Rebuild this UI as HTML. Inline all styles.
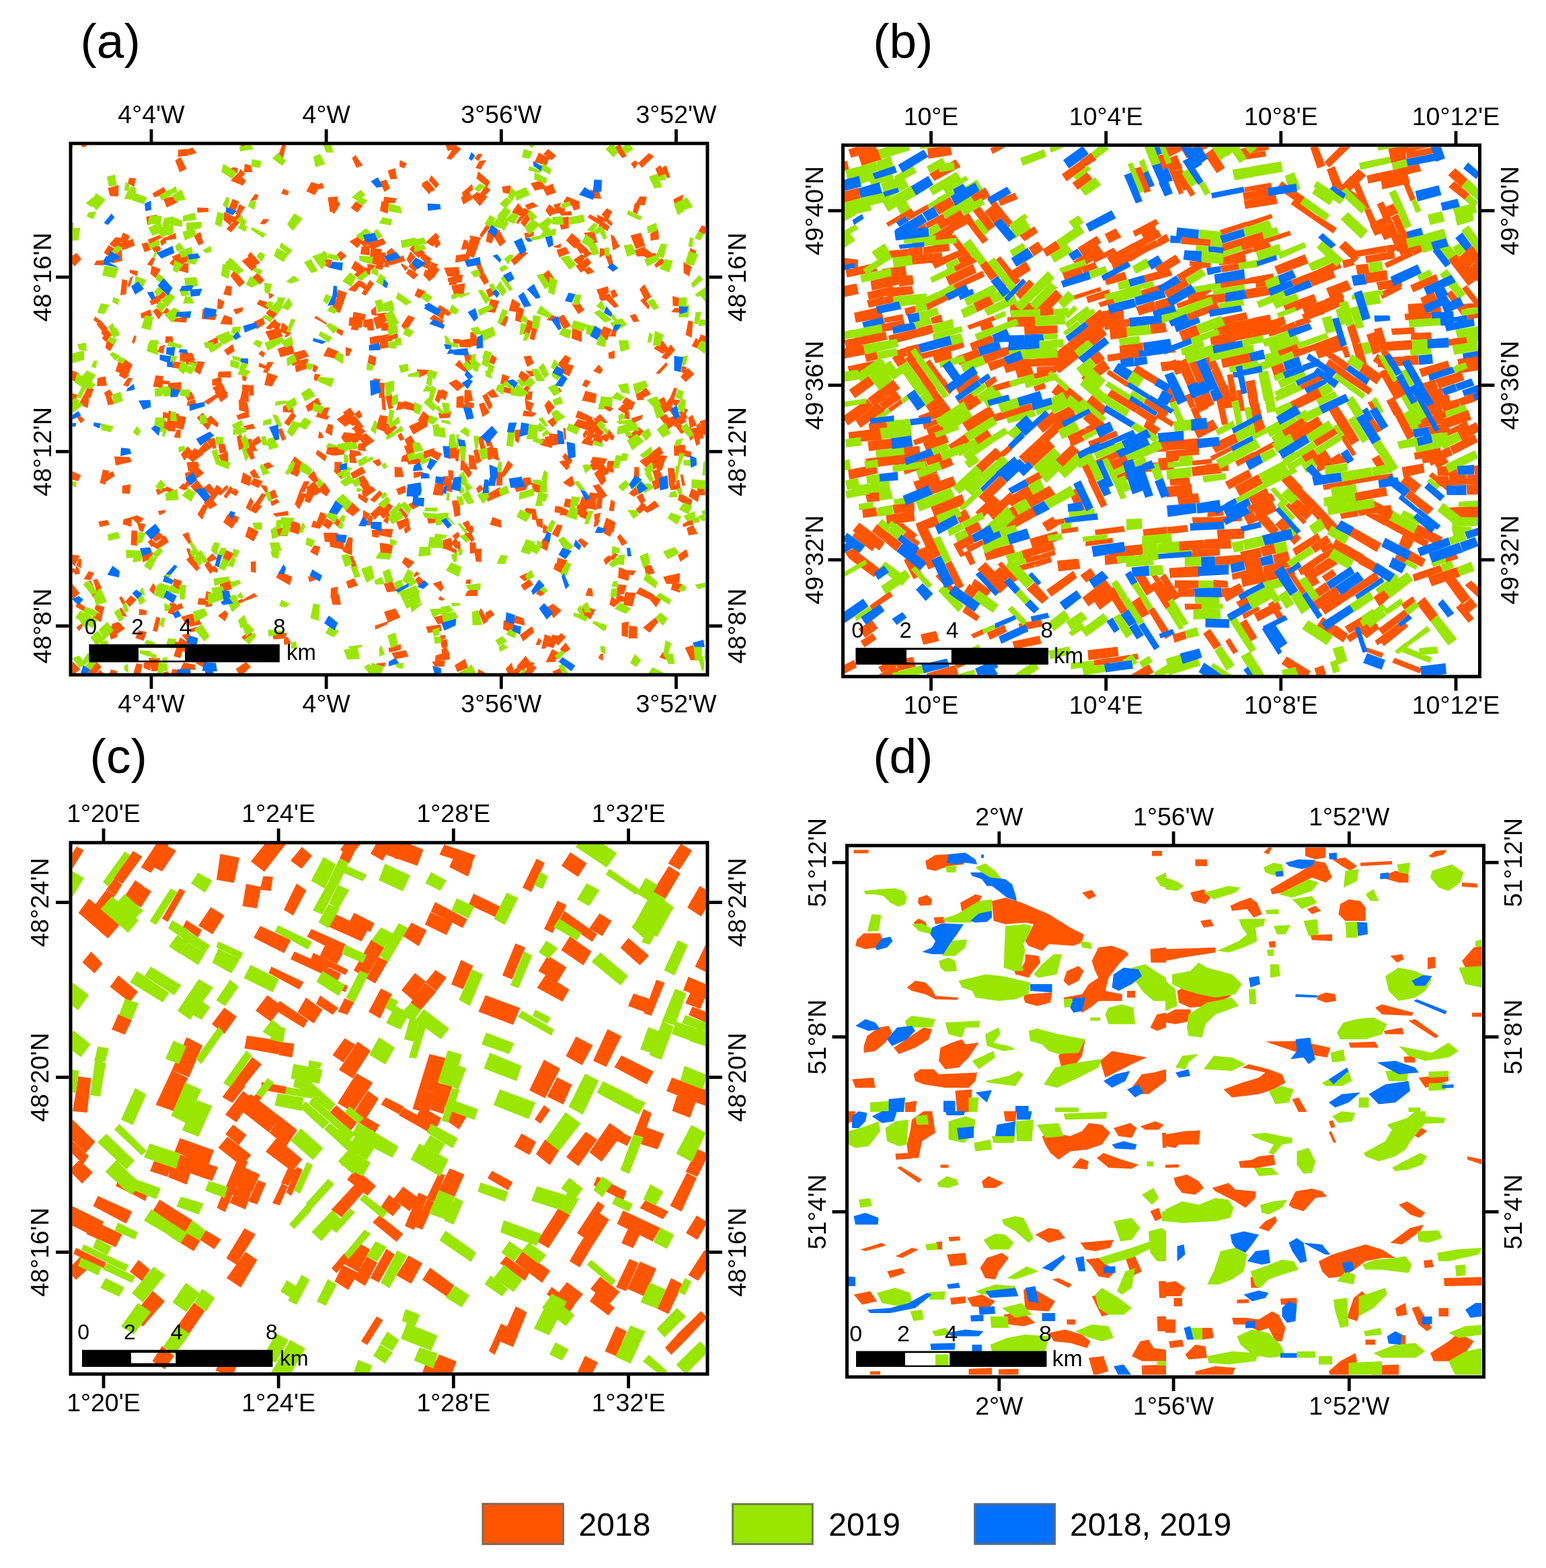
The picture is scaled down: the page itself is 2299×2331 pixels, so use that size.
<!DOCTYPE html>
<html><head><meta charset="utf-8"><title>Figure</title>
<style>html,body{margin:0;padding:0;background:#fff;}svg{display:block;}text{font-family:"Liberation Sans",Arial,Helvetica,sans-serif;fill:#000;}</style></head><body>
<svg width="2299" height="2331" viewBox="0 0 2299 2331">
<rect x="0" y="0" width="2299" height="2331" fill="#fff"/>
<path fill="#ff5500" d="M590.5 635.5l-11.5 10l-4.5-8.5l12.5-5.5zM544.5 748.5l-12-8.5l0.5-6.5l15 8zM272.5 381l-12 7.5l-5-7l13-5.5zM648.5 280l-11-12l4-7.5l11.5 13.5zM851 320l-16.5 0.5l-3.5-5.5l18-1zM666 583l-3.5 12l-9.5-4.5l4-12zM686.5 420l-20-1l-1-6l23-5zM273 985l17 3l0.5 8l-22.5-1zM552.5 788l12-0.5l-1.5 12l-9.5-1.5zM634.5 633l-13-8l3.5-6.5l11.5 11zM935 733.5l10.5-10.5l7 9l-10 6.5zM523.5 633l-9-10l14-4.5l9 11.5zM378 663.5l-2.5-9l9-6.5l4.5 8.5zM586.5 694l11 1l3 14l-13.5 0.5zM440.5 753l4-21l6.5 4l-5.5 21zM312.5 853l-8.5-13l5.5-7l10 14.5zM580.5 266.5l-4-13l11-3.5l3 16zM218.5 393.5l8-11l4.5 1.5l-5 11.5zM595.5 918l-18.5 7.5l-6-16l17-5zM177 558.5l2.5-8.5l13 8l-6.5 5.5zM971.5 684.5l-10.5 10.5l-10-9.5l16-10zM384.5 289.5l-3 7.5l-9.5 2l7-10.5zM832 765.5l3.5-11.5l10 5l0 8zM782.5 728l-14.5 3.5l-5-10l21.5 0zM282 928.5l14.5-7.5l3 7l-18 4zM182 387.5l-14 4l-3.5-12.5l16.5-8zM365.5 754.5l7-15l4.5 6.5l-6 13zM165.5 589.5l4 11l-9 2l-3-12zM846 339l-11.5 2.5l-2-7.5l13-2.5zM566 563.5l-1.5 7l-11.5 0.5l2.5-8.5zM842.5 699l-11-12.5l7-2.5l9 10zM340 725l-12 11.5l-4.5-2.5l13.5-13zM779.5 460l-4.5 19.5l-9-3l2.5-22zM607.5 976l-20 4l-5.5-9.5l21.5-4zM994.5 518.5l-9 7.5l-13.5-8l13-12zM193 351l-5 11l-10.5-2.5l5.5-14zM791.5 720l-15 4l1.5-13.5l10.5-1zM107.5 392l0-12l6.5-4l7 9l-10 11zM227 938l5.5-21.5l6 2.5l-4.5 20zM621 428.5l13 5.5l-10 9.5l-7.5-4zM907.5 439l12.5 16l-6 3l-12-11.5zM980.5 752.5l-18 10l-6.5-4.5l17.5-14zM290.5 713l-10.5-16.5l12-4.5l11.5 11.5zM794.5 939.5l-16.5 14l-5-9.5l18-13zM978.5 339.5l1.5 16l-12.5 2.5l-0.5-10.5zM682 509l19.5 0.5l-1 7l-16.5-0.5zM400.5 444.5l-1.5-10l8.5 4l-3 3.5zM789 559.5l-7.5-8.5l10.5 0.5l2 7.5zM311 835.5l-4-4.5l9-8.5l7 8.5zM919 859l1.5-16l16 6.5l-2 14zM705.5 235.5l5.5-7l6.5 0.5l-6 10.5zM831 945.5l-8 18l-12.5-3.5l11-16.5zM240 570.5l3-5l9.5 1l-1.5 5zM669 980.5l-22 2l0.5-8l20-6.5zM241.5 444.5l-6-4l7-8l5.5 6.5zM293.5 545l-17-3.5l-0.5-6.5l16 3zM395 732.5l-8.5-12l10 2l2 9zM559 455l1 14.5l-7.5-1.5l-1-6.5zM578 608.5l-5.5-22.5l10.5 0l1.5 20.5zM270 944l11.5-2.5l3 8l-7 3zM107.5 605.5l0-21l8 2.5l-6 19.5zM905.5 830l8.5-8.5l5 3l-7 8zM1031.5 779.5l-15.5 4l-1-4.5l14.5-7.5zM823 919l-9.5-16.5l9-5l12.5 10zM1010 629.5l12 11l-9 4.5l-8.5-11zM1002.5 677.5l-0.5-16l13-0.5l-3 16.5zM850.5 346.5l13 11.5l-9 11.5l-13-12zM242.5 526l-8-3l3-8l8-2.5zM467.5 718l-9.5-9.5l8.5-9l8 15.5zM400.5 326l-6.5 7.5l-7.5-0.5l5-7.5zM611 787l-8 6.5l-2.5-7l7.5-8zM171.5 551.5l7-20.5l9.5 4.5l-7.5 20.5zM163.5 291.5l-3-12l16-4.5l-0.5 17zM400 550.5l-15.5-5.5l1-6l16 8zM319 583l13.5-5.5l6.5 7l-11.5 9zM837 844l-2.5 8l-11.5-6l2.5-9zM927 899.5l2.5-19.5l16 1.5l-5 20zM596 966l-17 4l-1.5-6.5l18.5-6zM576 382.5l-14 2l-3-5l12.5-5zM877 294.5l1-12.5l13 2.5l3 11zM359.5 320l-9 10l-7.5 0l8.5-10.5zM109 890l-1.5-2l0-20l11 14zM124 589l5.5-12.5l10 1.5l-5.5 14.5zM763 691.5l-13.5 17.5l-5.5-2l11.5-22.5zM683.5 667l-2 19.5l-4-1.5l-3-18.5zM291.5 732.5l-8.5-9.5l10.5-9.5l8.5 11zM884 344.5l4.5 16.5l-13 1l-7-16zM200.5 365l-18 7l-5.5-9.5l20.5-7.5zM903.5 343.5l-13.5-6.5l3-10.5l13.5 10zM602.5 388l-22 6.5l-3.5-4.5l22.5-10.5zM144.5 860.5l7 14.5l-7.5 6.5l-5.5-19.5zM710 1001l1.5-6.5l11 6.5zM538 487l-19.5-3l1-12.5l20.5 3.5zM1004 520.5l-13 14l-7.5-3l14-19.5zM653.5 352l-10 14.5l-10.5-6.5l15-14zM280 231.5l-15.5 1.5l0.5-10.5l15-1zM819 946l-7.5 18l-6.5 0.5l5-21.5zM213.5 952.5l-12.5-4l5.5-11.5l11.5 2.5zM676 989l15.5-9.5l4.5 13l-16 6.5zM183 572.5l7-10.5l7.5 0l-7 13zM1014.5 613l3.5-6l5.5 2l-5 8.5zM903.5 328l-9-9l8-9.5l8 5zM411 784.5l16 0.5l1 12l-16.5-0.5zM758 560l-7 12l-7-1.5l3-14.5zM303 597l20-12.5l1.5 5.5l-15 11.5zM395 488l13.5-14l6 7l-12.5 9zM994.5 596l8-20l4.5 1.5l-6 20.5zM780.5 594l13 5.5l-4 13.5l-7.5-5zM272.5 549l-17-2.5l0-10l19 3.5zM349 522l-10.5 6.5l-5.5-7.5l13-9.5zM840 314l-17 4.5l-4.5-7.5l21-4.5zM333.5 468l11.5 4.5l0.5 10.5l-18-1.5zM892.5 615.5l11.5 13l-5.5 0.5l-12-9zM471 281.5l-3.5-4.5l11.5-5.5l3 8.5zM312 757l-9-9.5l8-10l12 13zM793 869l-13.5 9l-5-8l12.5-9zM402.5 743l-2.5-11l8-4.5l5 11.5zM296.5 693.5l-16.5 7.5l-2.5-14l16.5-0.5zM674 700l0 13.5l-7 0.5l-0.5-15.5zM849 532.5l-10 19l-10-9.5l11.5-14.5zM248 287l-18 6.5l-3.5-6l17-9.5zM874.5 874l6 1l1.5 11.5l-11.5-1zM755 1001l-3-7l9-9l2.5 10.5l-4.5 5.5zM1035.5 663l-5.5-19l9.5-2.5l1.5 18zM705 677.5l4.5 21l-12-1.5l-0.5-21zM703.5 282l-15 10l-1.5-5.5l15-13zM530.5 652l-23.5-1.5l4.5-8l17.5 2zM124.5 861l7.5-12l8 2.5l-5.5 11zM860 467l-9.5-15l8.5-6l10 15zM329 572.5l-13.5 1l0-9.5l13.5-4zM848 965l-8.5 6l-7-5.5l8.5-10.5zM572 991.5l-13.5-4l3-1.5l12-1zM990.5 245.5l6 18l-4.5 1.5l-7.5-15.5zM244.5 763l-7.5 3l-2-6.5l11.5-1.5zM570 774.5l7.5-13l3 4l-4.5 13.5zM778.5 1001l10.5-13l9 4l-6.5 9zM1019.5 498l4-21.5l7 1.5l-2 24zM690 598.5l1-19l9 0.5l3.5 15.5zM362.5 256l1.5-12.5l9 2.5l2.5 10zM1027 981.5l-8.5-18.5l12-4l8 22zM277.5 679l12-13l13 9.5l-16 11.5zM685 505.5l17-2.5l3.5 9.5l-20-2.5zM897.5 832l7.5-6.5l6.5 5l-11 9.5zM513 634.5l-12.5-11l13-8.5l8.5 13.5zM309 996l-18-10l6.5-10.5l15 14zM477 275l-9 15l-12.5-5.5l7.5-14zM120 215.5l11 0l-7.5 4zM171 707.5l-15.5 10l-3-8.5l15-8.5zM758 1001l0-0.5l11.5-8.5l7 2l-5 7zM356 331l-12.5 14.5l-7-5.5l17.5-16.5zM413 559l-8.5 15.5l-11.5-2l4.5-18.5zM117 601l7-13.5l8.5 5.5l-2 13.5zM798.5 782l-2.5-10.5l10.5-0.5l1 14.5zM428.5 486l-1.5 11.5l-11-5l4-13zM383 405.5l10 11l-7 6.5l-12-9.5zM227.5 575l4-17l11 1l-0.5 17.5zM189.5 425l4-12l4.5-3l-5 17zM113.5 841l3-10l4.5 0l-0.5 13.5zM359 947l11.5-8l5.5 3.5l-12.5 9.5zM293.5 898.5l2-9.5l10 1l1 9.5zM938 243.5l6-5l5.5 3.5l-6 9zM721 406.5l6 12.5l-6.5 4.5l-8.5-13zM660.5 717.5l-2 19.5l-15-1.5l3.5-16.5zM619.5 670.5l-13.5 7.5l-5.5-15.5l13.5-1zM638.5 289l-12-13.5l4.5-4.5l11.5 10zM454.5 603.5l18-12.5l5.5 10.5l-20 11zM262 963.5l10 3.5l-4 11.5l-10-3zM473.5 611l16.5 8l-4 5l-16.5-4.5zM324 590l14-4l0.5 4l-10 8zM518.5 625.5l-8.5-12.5l10.5-7l7.5 10zM780.5 930l-18-4.5l4.5-10.5l12 4.5zM563.5 591.5l0-23l8.5 1l-0.5 22zM542 741l-4-8.5l2-4l8 7.5zM774 331l13.5-17.5l4.5 7l-12 17zM250.5 998l0.5 3l-8 0l0.5-2zM645 467.5l14.5 9.5l-1 5l-20-8zM862 360l13 11.5l-11.5 6l-8-11.5zM925.5 235l-13-16l8.5-3.5l1.5 0l9.5 16.5zM259 473.5l19.5-3l-1.5 9l-20-1.5zM294 670l12.5-14.5l7 10.5l-13 9.5zM815.5 616.5l-6-14l6.5-8l9 10.5zM782.5 582l9.5 0l-1.5 12.5l-10 0zM313.5 617.5l11.5 12l-1.5 6l-17.5-11zM373 991.5l-10.5 9.5l-7.5 0l-4.5-6.5l15.5-10.5zM784 545.5l-5.5-15.5l10.5-1.5l5 11.5zM899 786.5l11.5 4l-3.5 7.5l-10.5-6zM1010.5 732.5l19 11l-3 10.5l-18.5-10.5zM248.5 628l2 11.5l-8.5-2l1.5-14.5zM845 693l-9-14.5l4.5-5l11 11.5zM601.5 653l-6.5 2.5l-4-8.5l5.5-4zM269 582l-21.5-2l3.5-10.5l18.5-1.5zM775 638.5l-4 20.5l-5-4l-1-16zM483 686l-13.5-11l2.5-6.5l14 9.5zM355.5 669.5l-3.5-20.5l7-3.5l3.5 21zM277 620l-4.5 19l-11.5-3l2.5-18.5zM707.5 834.5l-2.5-18l11-1l-0.5 20zM571.5 643.5l2-9l8 4l-3.5 10.5zM563 786l21.5 0.5l-2.5 13l-18.5-4zM678.5 816l-8-8.5l6.5-7.5l8.5 10.5zM908.5 378l5 21.5l-5.5 1l-8.5-22zM394.5 493l20.5-6l5.5 13l-19.5 6.5zM306 902.5l-2-11l11.5 5l0 4.5zM683 535l12.5 15.5l-4.5 2.5l-14.5-10.5zM267.5 877l-10.5-4.5l1.5-12.5l11.5 3.5zM572 634l3-4.5l6.5 1.5l-2.5 5zM170 930.5l5 16l-10 4.5l-5-19.5zM143 387.5l10.5-0.5l0 7.5l-13.5-0.5zM692.5 377.5l6-22l14.5 4.5l-8.5 23.5zM791 772.5l-0.5-16l6 0l3 17zM985.5 709l-11 5.5l-4.5-15l10.5-1.5zM642.5 285l-15.5-12.5l8.5-4.5l11.5 14zM715.5 904l10 19.5l-6.5 4.5l-7.5-18zM330 726.5l-13 18.5l-5.5-6.5l11-18zM895 659.5l-13.5-4.5l1.5-4l13.5 1zM182.5 779.5l1-7.5l13-3.5l-1.5 14.5zM292 849l-15-17l9.5-8.5l10.5 21.5zM371 758.5l7-10.5l12 4l-9.5 11.5zM788.5 859.5l-9 4.5l-7.5-7l12-5.5zM832 307.5l-4.5 4.5l-5-7.5l12-3.5zM113 1001l-5.5 0l0 0l4.5-5zM969 389l-13.5-9.5l4.5-10l12 8.5zM107.5 898.5l1 0l-1 18.5l0 0zM625 689.5l-17.5 1l-2.5-4.5l22-6.5zM293.5 764.5l9-15l7 2.5l-9 20.5zM947.5 318.5l-6.5-3.5l3-13l8 2zM939.5 610l-14.5-11.5l5.5-8l14 8zM343.5 561.5l-20-1l1.5-8l18.5-0.5zM430 780.5l3-7l13 5l1.5 10.5zM894.5 722l-11-18l10.5-10.5l7.5 21zM528 387.5l17.5 13l-8 9l-15.5-11zM363 894.5l-21 7.5l1-4l17-8zM266.5 616l-6 18l-13-2.5l3.5-21.5zM897 693l-19.5-5l4-9l21.5 3zM956 933l18.5-15l4.5 6.5l-13 16zM281 815l6.5 9l-5.5 5l-5-13zM313 735.5l-11.5-9.5l10-7.5l8 10.5zM717.5 620l-5.5-19.5l7.5-2l8.5 14.5zM746.5 277.5l13-2l-1 13l-10.5-2zM234.5 452l-10.5-5.5l10.5-8.5l6 4.5zM532 651l-5-10.5l10.5-4.5l6.5 5zM871.5 381.5l-10.5 13l-8.5-8l12-8.5zM781.5 990.5l9-7l5 3.5l-12 7.5zM688.5 607.5l4-11.5l12.5 3.5l-0.5 7zM917.5 884l0-15.5l14.5 1.5l-4.5 13.5zM659.5 926.5l-8.5 1.5l-6-10.5l14.5-3.5zM572 387l8-1l-2 11.5l-7-1zM576.5 317.5l-11.5-4l2.5-14.5l11 3zM1004.5 728.5l1.5-13l4-3l2 13.5zM456 734.5l-8.5 17.5l-9.5-1.5l7-19zM154 1001l-10.5 0l5.5-5zM872.5 742.5l5-10.5l12 1.5l-3.5 11.5zM157.5 508l-6-5l6-8.5l8 3.5zM635.5 555.5l-12.5 6l-3.5-12.5l18 1zM823.5 1001l-2.5-2.5l12.5-5.5l3.5 8zM280 935.5l14.5-4l1 6l-13 2.5zM572 285.5l-7.5-15.5l10-3l5.5 12.5zM262.5 355l-16.5 2.5l-1-4l16-7.5zM919 440l-8 3.5l-3.5-10.5l6.5-3zM990 615l12 16.5l-8 7l-13.5-18.5zM1015 677.5l2-9l11 3.5l-0.5 8.5zM767.5 330.5l6.5-10.5l5.5 3l-10 10.5zM969.5 386l2-10.5l5.5 2.5l-3 13zM436 524.5l17-4.5l6.5 9.5l-18.5 7zM343.5 440l-11.5-2.5l4.5-13l8.5 1.5zM601 596l16.5 5l-1.5 10l-16-3.5zM144 574l1-12l11.5-2.5l2.5 14zM292.5 227.5l-11.5 3.5l-2.5-9l8-2.5zM843 292l19.5 8l-3.5 10l-21.5-10zM891.5 928.5l10 5l-1 3l-10-6zM487.5 765.5l-11.5 19.5l-6.5-5.5l7-18.5zM310.5 315l-17 1l-0.5-7.5l16.5 0.5zM526 662l-7-14l12-3l5.5 7zM402 745.5l10-4l3.5 5l-11.5 6zM532.5 424l6.5-5.5l5.5 4.5l-1.5 8zM537.5 677l-17.5 2l0-10.5l15.5 2.5zM805.5 652l19 3.5l-4 10.5l-17.5-4.5zM774 452l-5.5 12l-12-2l5-18zM348 823l-9 14l-8.5-6.5l4-13.5zM252 391.5l8-9.5l5 1.5l-7.5 11.5zM107.5 837.5l0-13l11 1.5l-7.5 16zM301.5 459l21.5 8.5l-3.5 8.5l-19.5-2zM194.5 810l1-21.5l8.5 0.5l0.5 22.5zM406.5 486.5l6-7l5.5 2l-5.5 12.5zM628.5 707l-13 4l-0.5-9l12.5-1zM425 949l-18.5 1.5l-1-7.5l21-2.5zM229 884l-7-7l6-10.5l3.5 6zM636 633.5l-21.5 12.5l-6.5-12.5l22-10zM550 743l14.5-14l4.5 5.5l-12.5 12.5zM681 817.5l-1-9.5l4-4.5l1 13zM697.5 369.5l-12 2l4.5-15.5l6 2.5zM1018 609.5l4 11.5l-4 3.5l-9-12zM697 386.5l-20 4l1-11l22-3zM887.5 630l10.5 13l-6 6.5l-13-10.5zM945.5 586l6.5-3.5l5.5 12l-10 0.5zM871 639l5 3.5l-7.5 9.5l-2-6zM886.5 757l2-24.5l8 3l-2 20.5zM239.5 370.5l-8 7l-7-10.5l12-1.5zM936.5 469l8.5-2.5l5.5 11l-8.5 1.5zM847.5 724l-10.5-6.5l14-10.5l3.5 13.5zM841 636l1 17.5l-3 0l-1.5-17zM898.5 707l-8.5-16.5l4-6l12 19zM116 715.5l-8.5-2.5l0-12.5l13 6zM345 786l-13-9.5l6.5-12l13.5 10zM917 492l-1.5 8.5l-9.5-0.5l5.5-10.5zM789 272.5l15-4l9 10.5l-17.5 4.5zM960 448l-9-18l7-7.5l10.5 18.5zM843.5 833l-3.5 12.5l-12.5-6l1.5-10.5zM946 848.5l-5 7l-9-3l2-5zM690.5 682.5l1.5 15.5l-7.5 1.5l1-18zM934.5 949l1-19l12 1.5l0 17.5zM677.5 803l-5-6.5l8.5-6l3 6zM523 825.5l-12-5l-3-5l16 0.5zM597.5 836l5-8l14 7.5l-9 10zM258 511l-12.5-1.5l1-9.5l10 0zM889.5 620.5l5 3.5l-6.5 9l-5.5-11zM193 401l12 2l-1.5 7.5l-10.5-5zM678.5 564l12 9.5l-10.5 8l-13-12zM269 675.5l10-12l7 8l-12 13zM646.5 676l-17 6.5l0.5-11.5l16-5zM290.5 536.5l-23 1.5l0-13l18.5-0.5zM586.5 302l-16.5-0.5l1-9l19.5 2.5zM564.5 807l20 2.5l-3 16.5l-15.5-1.5zM901.5 644.5l4 8.5l-3.5 4l-11.5-7zM711 254.5l17.5 15.5l-3.5 8l-16.5-12.5zM407 538.5l-10 16.5l-6-2l7-15zM817.5 802l-4 17l-11.5-6l5.5-12.5zM729 428l7.5 9l-9.5 5.5l-4.5-11zM561 356.5l-19.5 10.5l-5-5l12.5-15zM574 362l-21.5 9.5l-6-9l23-8.5zM357.5 251l7 7.5l-6 6.5l-5.5-4.5zM979.5 682.5l-2-6.5l15 2l-5 9.5zM950 694.5l0.5 18l-8-3.5l1-15zM695 878.5l15.5-4.5l-0.5 12l-18.5 0zM1013 615.5l8 11l-8.5 5l-7.5-7zM469 732l-8.5 16l-7.5-3l4-18zM869 815l-10-11.5l5-3.5l10.5 7.5zM958.5 305.5l-14-2l7-11.5l10.5 0.5zM1027.5 644l-2-7l12.5-1.5l0.5 8zM431 870l-20.5-11.5l5-9.5l19 8.5zM884 773.5l-0.5-9l10-2.5l-3.5 12.5zM565.5 506.5l11.5-0.5l1 10.5l-14.5 2.5zM252 462l-4.5 4.5l-6.5-1l7-8.5zM964 460l-12-13.5l5.5-3.5l9 12zM907 612l-17-9.5l4.5-7l17.5 12zM506 303.5l-9 14.5l-7-6l10-16.5zM997.5 728.5l-3-9l7.5-4l5.5 12.5zM901 330.5l-12.5-4.5l-0.5-7l17 7.5zM780.5 570l-10-10.5l4.5-8.5l13 8zM170 678.5l23 1l3 7l-24 5.5zM733 663l-0.5 19l-7 2l-2-18zM477.5 383.5l16.5 3l-4 12l-14-8zM256 994.5l9.5 1.5l-1.5 5l-8 0l-1-0.5zM830 645.5l0.5 15.5l-11.5 1.5l-3-18.5zM614 856.5l5-7l5.5 3.5l-8 5zM707 249.5l6-10.5l10-1l-8.5 14zM506 698.5l-8.5 2l0-14l11.5 0.5zM365 567l-4.5-2l-0.5-7l7.5 2.5zM180 552l5-18.5l12 8.5l-6 14.5zM580 499l11-4l1 7.5l-12 3.5zM192 264.5l10 0.5l-2.5 13l-9.5-5.5zM444 536l12.5-3l3 2.5l-13 8zM1003 458l6-0.5l3.5 7.5l-14.5-1zM592 597l10 1l-3 10l-10 2zM991 390l-15.5 8l-2.5-4.5l10.5-10zM330.5 459l-7.5 0.5l1-16l10 5zM148 475l12.5 13.5l-8 5l-9-11.5zM377 572l0.5 16l-7.5 0l0.5-14.5zM660 582l-7.5 17.5l-6-5l5.5-15.5zM373 850l0-15l7.5-0.5l0 17zM883 784l1-9.5l8.5-2l-4 9zM811 313l6-9.5l11 10l-10 8.5zM817.5 785.5l-5.5 8l-5-2l1-12.5zM508 713l-12-13l5.5-6l11.5 11.5zM371 620l-17 4l-2.5-6.5l17.5-6.5zM490.5 315l-3-21.5l15-1.5l-3 22.5zM931 616l-12.5-7.5l9-9l9.5 7zM182 916l-4.5-11l3-2l8.5 14zM326.5 868.5l16.5-5.5l1.5 13l-14.5 3.5zM739 666l3.5 19l-9-3l-3.5-16.5zM879.5 390.5l-15.5 15l-8-10l17.5-12.5zM124 929l-6.5 9.5l-4-6l9-6.5zM211.5 823.5l16.5-2.5l-3 9.5l-13 5.5zM1037.5 793.5l-13.5 2.5l-3-11l9.5-4.5zM759.5 387l18-16l7 5.5l-19.5 18zM265.5 725.5l7-7.5l7 8.5l-5.5 2.5zM815.5 401.5l10.5 15l-8.5 8.5l-16-13zM242.5 465.5l-7 9.5l-8-12.5l5-4.5zM671 424.5l20.5-3.5l-1.5 15.5l-14.5 3zM539.5 358.5l-8 10.5l-12-10l12.5-7zM655.5 362.5l-7 6.5l-5.5-8.5l7-8zM805.5 952.5l-3 6.5l-6-0.5l4.5-10.5zM119.5 995l-8 6l-4 0l0-15.5l1.5-1.5zM993 542.5l-12.5 13.5l-5.5-1l15.5-16.5zM368 599l2.5 14.5l-15-3.5l-0.5-16zM1012 674l2.5-12.5l4.5 0l-1 15.5zM1026 636l-2.5-15l6-4.5l7 16zM306 982.5l-15.5-9l4.5-6.5l18.5 4.5zM657 963l-2.5-10.5l10-2.5l1.5 11.5zM269 639l-1 12.5l-9.5-1.5l4.5-11.5zM910 489.5l-7.5 16.5l-12.5-5l7.5-16zM1000.5 865l14.5 3.5l-4 12.5l-13.5-4.5zM512 447l-6.5 18l-14.5-3.5l10-19zM550 764l-6 11.5l-4.5-6.5l0.5-11zM861 767.5l3.5-9l10.5 2.5l-4 11zM862.5 310l-9 3l-3.5-8l11.5-0.5zM743.5 366.5l-11-17.5l9.5-8l10 18.5zM962 754l-11 10l-5.5-6.5l10.5-11.5zM511.5 675.5l-15 2l-2-13.5l19.5 1zM925 811.5l-7.5-13l4.5-4.5l11 13zM493.5 648l-10-5.5l4.5-12.5l7.5 2zM909.5 886l12 9.5l-8.5 7l-7-3.5zM227.5 812.5l18-16.5l5.5 9.5l-16.5 11zM635 769.5l16 0.5l-3 7l-11 1.5zM268.5 233.5l9 17.5l-10.5 5l-6.5-17.5zM947.5 381.5l-5.5-9l17-6l3 13.5zM892.5 556l-10.5-4.5l8.5-9.5l6 7.5zM699 515l0.5-21l7.5-1l4.5 20.5zM560.5 392l10.5 3.5l-3 5.5l-10.5-2zM655.5 879.5l-12-12l12-4l4.5 10.5zM330.5 688.5l-6-12l14.5-4.5l0.5 16.5zM360.5 463l-9.5 4.5l-4.5-7.5l15-3.5zM855.5 764l3.5-14l10 1l-7.5 15zM846 333.5l-9 1l-2.5-11l11-1.5zM1001 618l-9.5-12.5l6.5-2.5l9.5 10.5zM224.5 982.5l-1 14.5l-10-4l0-7.5zM239.5 448l-14.5 6l-2.5-6.5l14.5-7zM657.5 893l-6-2l3-5l7 5zM355 731.5l-4 6l-9.5-5.5l8.5-6zM838.5 489.5l-10-17l9.5-5l11 17zM269 917l17.5-5l4 13.5l-12.5 5zM373.5 670l-9-15.5l8.5-2.5l10 18.5zM913 351l8.5 15.5l-10 6l-3.5-24zM203.5 766l10.5 5l-8.5 8.5l-11.5-10.5zM583 863.5l7 15l-14.5 2l-5-13zM873.5 616l16 16l-8.5 5l-15.5-16zM666.5 708l0 14.5l-6.5 0l-1.5-14.5zM690 527l14.5 0.5l1 15l-12.5 0zM576 928l-18 8l-0.5-6l19.5-6.5zM203 501l-4 10.5l-3-3l4-10.5zM727.5 609.5l-10.5-21l7-4l8.5 19zM603 403l-6.5-9l0-3l10.5 6.5zM280 406l-23-6l5-9.5l18.5 1zM515.5 380.5l-8.5 7.5l-6.5-9.5l6-5.5zM1049.5 646.5l-4.5 0l-4.5-20.5l9-2.5zM280.5 389l-18 5l-3.5-7l20-9zM260.5 953.5l18 5.5l-2.5 10.5l-19-8zM980.5 977.5l5-8l5 4.5l1.5 7zM1037 726l10.5 0.5l0.5 10l-11.5-1zM936 623l-8-0.5l1.5-10.5l6-0.5zM608.5 399.5l13.5 8.5l-6.5 7.5l-12-9.5zM564 499.5l16-3.5l3.5 11l-21 1.5zM462.5 783.5l3.5-10l11.5 6l-2 6.5zM317 668l-4.5-15.5l6.5-2l2.5 15zM945.5 370l-8-20l15.5-4l6.5 19.5zM182.5 899l-5.5-10l3.5-3l7 11zM729.5 906.5l6 7l-11.5 9l-2.5-11.5zM909.5 336l-7.5-5l2.5-5.5l6.5 6zM660.5 991l-13.5 0.5l-4.5-7.5l20-5.5zM898.5 370l2 8l-9 5l0.5-14zM141.5 470.5l12.5 10l-6 2l-9-6.5zM821.5 635l-7.5-8.5l9-6.5l6 7.5zM574.5 464.5l2.5 12l-9.5 5.5l-8-15.5zM864 760l5.5-19.5l9 1l-7.5 20.5zM657.5 977l-1-11.5l7-5l5 15.5zM371.5 722.5l-13.5-5l3.5-15.5l12.5 7.5zM383 886.5l-23 8.5l2.5-4.5l15.5-9zM950 585l10.5-9l7.5 10l-12.5 6zM890 333.5l-16-10.5l3-4.5l17.5 9zM379 748.5l10.5-15.5l6 2.5l-9 15zM709 285.5l16 6.5l-11.5 14.5l-12.5-14.5zM684 410.5l-18.5 0.5l-5.5-13l22-1zM676 768.5l-4-24l11.5-1.5l1 23zM827.5 371.5l14-4.5l5.5 9.5l-15.5 6zM414 230l5.5-14.5l5.5 0l-4 20.5zM253.5 903l16.5-6.5l2.5 7.5l-19 7zM745 773.5l0.5 11l-17-4.5l4-11.5zM144 910l8.5 4.5l-2.5 10.5l-12.5-7.5zM836.5 781l-6.5 18l-9.5-5l8-14.5zM304.5 891.5l2.5-13l7.5 3l2.5 12zM807 279.5l15-6.5l4.5 13.5l-13.5 4.5zM509 499.5l-9-5.5l1.5-6.5l9 4.5zM539.5 305.5l-8 10.5l-10-7l7.5-9.5zM609 393l-4.5-7.5l6-12l7 8.5zM870.5 581l17 4.5l-2.5 14l-19.5-4zM537.5 436.5l12.5-20.5l6 6l-12.5 17.5zM549.5 501.5l14.5-3l1 11l-14.5 2.5zM914.5 685.5l-2.5 17.5l-10.5-3l2-15zM654.5 952.5l0-8l7.5-0.5l0 5.5zM1037 518l-8.5-3.5l6.5-12.5l6 6.5zM460.5 715.5l-7.5 16l-8.5 0.5l7.5-16.5zM226 469.5l-15.5 4l-1.5-7.5l14.5-6zM642 389l-5.5 11l-11-5l7-10zM788.5 766.5l-9-8l3.5-3.5l10.5 1.5zM537.5 728l15-5.5l6.5 6l-15 10.5zM815 221.5l12 10l-6.5 6.5l-12.5-9zM924.5 945.5l0-19.5l10.5-2l-1.5 23zM901.5 769.5l14 7l-3 15l-16-5.5zM516 435.5l-5 13l-10.5-2.5l2-15.5zM866 900l19.5 6.5l-7.5 14l-13.5-6.5zM1016.5 405.5l0-16l12 7l-4 14.5zM162.5 700l-6 20.5l-8-2.5l4.5-20zM910 444.5l-16 3l-4-6l17-5zM699 823l-0.5-17l8.5 0.5l2 15zM714 388.5l6 17.5l-4 5.5l-9-19zM1000 440l11.5 3.5l-1 12l-10-1zM524.5 800l-1 16l-12.5 0l7-18zM183 363.5l0 7.5l-8.5-4l3-7.5zM664 235.5l13-20l1 0l7.5 6l-15 16zM158 489l10 7.5l-9 9l-9-11.5zM534 481.5l-1.5 9.5l-11-1l4.5-13zM447.5 697l-5 12l-11-5l4-12zM1038.5 344l5-9l6 2l0 8.5l-2 3zM622.5 871l-5-9.5l5.5-5l7.5 7.5zM348.5 401.5l15.5 18l-8 7.5l-13.5-17zM994.5 719l-1.5-23.5l9.5 0.5l3 21zM714 720.5l5.5 6l-8.5 7l-3-7.5zM759.5 585.5l-11-2.5l0-8.5l12 3zM562.5 469.5l6 16l-8.5 4l-5-16.5zM289 552l4.5-15l11 1l-7 19zM1026.5 655.5l-6.5-21.5l7 1.5l4 15.5zM555 770l-5 11.5l-7-1l6.5-15.5zM135 863l9 19l-5 7l-13-23zM430.5 790l2-10l15 5.5l-4 9zM976 698l2.5-13.5l10 1l-4.5 14zM494.5 899l-3-14l12.5-2l3 16zM618.5 743.5l4.5 9l-9 5l-7-7.5zM730.5 591.5l-7-7.5l10-6l8 12zM799 489.5l-4.5 16.5l-7-2.5l4-17zM722.5 359l3-15.5l12 2l-6.5 16.5zM729.5 337l-13.5 16.5l-3-4l10-15zM243 728l5.5-5l10 5.5l-7 3.5zM389 521l5.5 4l-3 6.5l-7.5-5.5zM673 816l-14.5 0l0-13l12.5-3.5zM436 613.5l-15.5-1l0.5-9l14-3zM501 806l-18-0.5l-2-13.5l21 0zM528.5 641l-5.5-3.5l11-11l7 8zM486 483l-19-10.5l3-3l16 11zM248 729l-13.5 7l-3-8.5l16-2.5zM373 683.5l-8.5-16.5l9.5-3l5 17zM889.5 978l3.5-6l4 0l-0.5 10.5zM546 392.5l12 1.5l-2.5 7l-8.5-0.5zM369.5 580.5l0.5 17.5l-13.5-2l3.5-16zM761 315.5l9.5-13.5l8 9.5l-3.5 10.5zM290 592.5l-11 3.5l-4.5-11l10-3zM738 722l0.5-21.5l9 1l-0.5 20zM324.5 509.5l-16 7.5l0-9l15-7.5zM146 775.5l14-2.5l3 7l-14 3.5zM588.5 375.5l-13.5 5.5l0.5-7.5l7-5zM326.5 674l-2-14.5l9.5 0l3.5 13.5zM905.5 759l3-16.5l6 3.5l-1.5 14zM739 532.5l-4.5 9.5l-7.5-3l4.5-12zM873.5 755.5l2-12l11-0.5l0 15.5zM756 471l-4.5 14.5l-9-4l3.5-14.5zM988.5 686l-16.5 12.5l-4-12l12-8.5zM760.5 941l-12.5-6l1-13l16 4.5zM914 521l0 11.5l-8.5 1l-1-9zM592.5 736l-3.5-9l13.5-5.5l1 10.5zM1012.5 553l1.5-9l6.5 1.5l0.5 11zM530 712l10.5-5.5l8 11.5l-13 4.5zM482.5 606l7.5-0.5l-4.5 13l-9.5-3.5zM1010.5 866l-19.5 2l-5-10.5l25-5.5zM495.5 677.5l-11-3l3-11.5l11.5 3.5zM274.5 963.5l-10.5-6.5l4-9.5l15.5 10zM111 854.5l2-13.5l4 3.5l2 8.5zM653.5 462.5l8 3.5l-3.5 10l-7.5-7zM701.5 806l-11.5-12.5l9.5-2.5l6.5 10.5zM532 403.5l7 5.5l-6.5 4l-6-5zM433 495l-5 5.5l-5 1l5.5-13zM543 665l-11-16l12-5l13 11.5zM163 1001l2-6l9.5 3l-1 3zM838 753l3-12l11.5 2l-5 12zM247.5 360.5l-7.5 5l-2-7l7-6.5zM871.5 639l-19-6l6.5-10l17 5zM366 215.5l-6.5 5.5l-2-5.5zM992.5 605l-2-6l5.5-7.5l5 11zM779.5 346.5l15-2l-1.5 6.5l-12 3.5zM558.5 636.5l6.5-19.5l12 2l-5 23zM207 905l11 2.5l0 6.5l-11.5 0.5zM654 453.5l18 11l-5.5 5.5l-17.5-11zM347 727l-10.5 14l-4-3l10-15.5zM966.5 891.5l-21-9.5l6-9l21 11zM422.5 628.5l12-16l6 5.5l-11.5 15.5zM554 473.5l2.5 17.5l-9.5 0.5l-5-16zM853.5 543.5l-7 16l-10.5-5l8-13.5zM794 479l-7 18l-9-0.5l6.5-21.5zM151 991.5l-8 9.5l-8 0l-5-4l13-13.5zM673 504l11 0l3 6.5l-12 0.5zM521.5 660l-10.5-3.5l-3.5-6l15 0.5zM349 322.5l-7 12.5l-10-8.5l1.5-11.5zM253.5 622.5l-11.5-1.5l0.5-9l12.5 4zM422.5 959l-0.5-8.5l5.5-4l5.5 9.5zM302.5 361.5l-7 3.5l-8-15.5l10.5-4.5zM364.5 308l-8.5 13l-6-3l6-14.5zM468 555.5l9 1.5l-6.5 10l-4-3zM113.5 851.5l-6 0l0-6.5l3.5 0zM324 846l-1 5.5l-8-2l2.5-9.5zM792 730l-1-12l15 2l0 14zM1040 652.5l-4.5-19l5-5.5l6 23.5zM987.5 614.5l-10-19l10-5.5l7.5 20zM701.5 794l-10.5-7.5l11.5-6l2 7zM523.5 519l-4.5 10l-5 0l0-13zM405.5 763.5l22.5-4l1.5 6.5l-19.5 2zM657 674.5l-5.5 10.5l-11-7l6-8zM657 938l-20.5 3l-3-9.5l21.5-3zM694 861.5l6.5 0l-1 7l-7.5-1zM632.5 400.5l13.5 10l-7.5 8l-9-9.5zM476 859l-16 6.5l-2-8.5l17.5-3zM860.5 752l5.5-14.5l2.5 2.5l1 13zM335 907l4.5 6l-5 10.5l-10.5-8zM353 257.5l13 11l-5 7.5l-18-7.5zM832.5 971l-7.5 13l-13.5 0.5l9.5-19.5zM438.5 543.5l18.5-8.5l2.5 12l-19.5 6.5zM536 721l11-4.5l3.5 7l-10 5zM467 810.5l9.5 2.5l-4.5 13.5l-11-6zM395.5 698.5l-4-8.5l8.5-3l7 6.5zM692.5 687.5l9.5 16.5l-5.5 6.5l-11-15.5zM537.5 366.5l12-1.5l0 14.5l-13.5-1.5zM143 898.5l12.5 4l-3.5 12.5l-11.5-10zM668.5 416.5l11-1l-0.5 7.5l-11.5 1zM238 978.5l-3.5 19l-9 0.5l-4.5-20zM550.5 764l15.5-14.5l6.5 6l-15 17zM634.5 392l-9.5-8.5l3-8.5l14.5 10zM173.5 371.5l-11 10.5l-8-6.5l7-11zM797 882.5l4.5-6.5l9.5 5.5l-7 5zM379.5 637l-15 2.5l-3-6l15-3.5zM518 875l-3.5-10.5l12-5l6 11zM491.5 888.5l0.5-14l10.5-2.5l-0.5 12.5zM224.5 799l10.5-10l9 9l-12.5 7.5zM636 628.5l-12.5-8l6-9.5l11 9.5zM875.5 630l8.5 11.5l-2.5 7.5l-14.5-16zM559.5 531l-2 13l-11-4.5l2.5-12.5zM533.5 622.5l-7-6.5l8-6.5l4.5 9.5zM742.5 447.5l-6.5 17.5l-12-1.5l5.5-19zM374.5 573l-5 9.5l-10-3.5l1-7.5zM419.5 655.5l-6.5-17l6-2l6.5 16zM959 642.5l-20 13.5l-6-7.5l17.5-13.5zM671.5 713l1 19l-10-2.5l2.5-19zM376.5 710l-5.5-8l7.5-5l8 14zM887.5 644l8 5.5l-7 9l-9.5-12zM181.5 354l-8 16l-11-7l9.5-10.5zM662.5 215.5l12.5 0l2.5 5.5l-11.5 3.5zM1028.5 726l12 6l-2.5 14.5l-14-8.5zM223.5 407l2-12l13.5 5l-7.5 13.5zM200.5 1001l-2-1l4.5-14l9 2l-3 13zM163 579l5.5 8l-10 5l-4-8zM551.5 368l15.5 2.5l1.5 11.5l-18.5 0.5zM593.5 751l13.5 15.5l-3.5 5l-14.5-17zM576 479l5 12.5l-14 0l-1-9.5zM812.5 246l-18-5l7-14l15.5 8zM824.5 761.5l1-9.5l12 2l-3.5 9zM384 725.5l-12-6l5.5-9l13.5 5zM1012 560l11-13l9.5 9l-13 12zM608 686l-12 0.5l2-8.5l11-5zM432 536.5l10.5-6.5l6.5 9l-14 5zM883 699.5l-8-6.5l11.5-9.5l9 12zM521 703.5l17.5-10l5.5 9l-19 9.5zM878.5 567.5l-6 8.5l-7-3l4.5-9zM163.5 522l-7-5l2.5-11.5l10 7zM244 351.5l-22 11.5l-2-7l18.5-7zM990.5 720.5l-17.5 8l-4-12.5l17-8.5zM528.5 230.5l11 15.5l-9.5 3.5l-6.5-14.5zM347.5 248.5l6 1.5l-0.5 8.5l-11-7.5zM394 481.5l-12 8l-4.5-11l14-6.5zM916.5 894.5l-0.5-12.5l13 5.5l-1.5 7zM669 621l-15.5 1l-1.5-8l19-2.5zM881 663l-16.5-4l4-7l14 3zM1049.5 522.5l-1.5-1l1.5-2.5zM622.5 383.5l-13.5-13l8.5-10.5l14.5 16zM822 366.5l12.5-4.5l-1 6.5l-6.5 0zM469 737l-14-11.5l12-10.5l10.5 15.5zM443.5 701l-11.5-12.5l6-10l13.5 11zM981.5 245.5l8 12.5l-9.5 6l-5.5-13zM568.5 608.5l-1.5-17.5l5-3l2 22.5zM818.5 467l10 4.5l-7 5.5l-8.5-1zM679 664.5l0.5 16.5l-13 1l0-16.5zM653.5 401l-9.5 13.5l-6.5-5l11-13.5zM364.5 797.5l5-15l15 7.5l-7.5 15zM1002.5 618l9.5 9l-8.5 8l-9.5-13.5zM430 284.5l-2.5 6l-9.5-2.5l3.5-7.5zM264.5 300.5l-16.5 8l-5.5-13.5l17-3.5zM301.5 613.5l12.5 16.5l-5 9.5l-16.5-18.5zM851 487.5l14.5 5.5l-0.5 15.5l-15-5.5zM949 242.5l16-15l7.5 5l-18 17zM249.5 911.5l3.5-15.5l9 1.5l-3 16.5zM293 712.5l-16 2.5l-2-12l12.5-3.5zM596.5 484.5l10.5-16l10 4l-13 19.5zM291.5 601l-14 2.5l1.5-7l10.5-3zM567.5 690l-6 3.5l-8-8l10.5-3.5zM617.5 405l-10-9l3.5-5l9 8zM192.5 902.5l-6-8.5l8-9l8.5 6.5zM727 647l6 16.5l-9 0l-3.5-13.5zM355.5 300l-6 14l-10.5-2l7-16.5zM986.5 673.5l-15.5 11l-7.5-8.5l17.5-12.5zM835 582.5l-12.5 3l-4.5-7.5l14.5-1.5zM171.5 944l-5.5-16.5l10.5-3l9.5 10zM496 777l-7.5 10l-9.5-7l6.5-9.5zM275 727l-2-5.5l6.5-8.5l4.5 7zM780.5 305l12-4.5l7.5 6l-15 5.5zM1049.5 511.5l-11.5-4l4-10.5l7.5 2.5zM651.5 393l-12.5 18l-6.5-4.5l10-16.5zM954.5 623l-15 7l0-8.5l16.5-5zM968 840l6 11.5l-13 5l-3.5-16zM556.5 379l17.5 5.5l-5.5 12l-17.5-5.5zM679.5 823.5l-20-8.5l3-5.5l16.5 7.5zM194.5 720l-1.5 14l-11.5-0.5l0.5-11.5zM905.5 435l-13 9l-5.5-13.5l17-5zM717.5 647.5l4.5 20l-7 1.5l-4.5-18zM721 736.5l22.5-12.5l1.5 13l-19.5 8.5zM678.5 606l0.5-16l9.5-2l2 18.5zM207 788.5l-3.5-12.5l13 3.5l-4.5 12zM876.5 642l5.5 7.5l-5.5 10.5l-7-7zM179 439l2.5-24l8 2l-2 20.5zM126 624l-6 5.5l-5.5-9l4.5-2.5zM261 633.5l-0.5 8l-11-0.5l-1.5-11.5zM700 357.5l-1.5-7.5l17 3.5l-4 8.5zM544.5 487.5l-5-2.5l1.5-9.5l7 0.5zM880.5 377l-9.5 6l-5-8.5l6.5-4zM609 779.5l-15 8.5l-5-12l18-6.5zM785 583.5l-8-4.5l6-6l5.5 1.5zM894.5 741.5l-13-19.5l9-2.5l12.5 17.5zM369 382l13 14.5l-7.5 6.5l-15-15zM412.5 518.5l21.5-7l4 14l-21 5.5zM703 295.5l-14 8.5l-3.5-10.5l11.5-10zM775 317l4.5-8l8 4.5l-10 12zM524 846.5l-5.5-19.5l6-1l6 15zM481 651l-8 0.5l1.5-10.5l4.5 3zM398 460l-16.5-8l4.5-6.5l16.5 5.5zM1049 779l0.5 0.5l0 5.5l-0.5-0.5zM821 647.5l0 10.5l-8 4.5l-3-13zM618.5 660l-12 6l-5-12.5l9.5-6.5zM507.5 775l-5.5 8l-6-6l2.5-9zM542 476l-18-1l1.5-11.5l18.5 4zM1008 825l12.5-8.5l3.5 10l-12.5 8.5zM524.5 767.5l-11-8l9.5-13.5l12.5 12zM485.5 738l-13-9l9.5-12l9 12.5zM779 610l19 4l-5.5 5.5l-15.5-1zM1048.5 725.5l1 0l0 10.5l-1.5-0.5zM517.5 431l16-14.5l5.5 3l-10.5 14.5zM710.5 667.5l5.5 18.5l-8 3.5l-4-20zM115.5 894l11.5 8.5l-2 6.5l-12.5-7zM225 371l-10 4l-4.5-12.5l8.5-2.5zM975.5 903l-9-11.5l3.5-7.5l13 7zM107.5 550.5l10.5 5l-6.5 12l-4-2.5zM1025 377.5l1.5-9l9 5l-2.5 8.5zM531 688.5l-11-0.5l-1-12.5l8.5 0.5zM466 541.5l7.5 4l-5 8.5l-4-3zM315.5 576.5l14.5-7.5l5 9l-12 7.5zM694.5 787l-7-9l8.5-4.5l3.5 7.5zM352.5 777.5l-8.5-9l4-3l7.5 3.5zM219.5 805.5l5.5-4l8.5 7l-8 5zM1014.5 722l-3-16.5l4 0l3.5 16.5zM960 744.5l-6.5 5.5l-7-11.5l8.5-5.5zM722 276l7.5 6.5l-8 8l-7.5-3zM1001 296.5l15-7.5l-1.5 10l-11.5 3.5zM998 598.5l4-5l10 1.5l-6 9.5zM768 991l13.5-16l7 9.5l-11 12.5zM511.5 817l-20.5-4l-1.5-11l21.5 1.5zM217.5 322l16-3l-2 12l-12.5 3.5zM905.5 638l8.5 11.5l-3 5.5l-11.5-7.5zM395.5 465.5l6.5-8l12 7l-9 10.5zM372.5 374.5l14.5 16l-8.5 5l-10.5-15.5zM307 654.5l4.5-4.5l7.5 11l-5.5 5zM500 533.5l-19.5-4.5l7-13l16.5 7zM533 397.5l18 0.5l-0.5 10.5l-21.5-2.5zM605 243l-4 7.5l-7-3l0.5-9.5zM563.5 764l14.5-16.5l6.5 5.5l-14 18.5zM280 791l5 16l-4.5 1.5l-9.5-14zM877 627.5l-21.5-7l4-10.5l22.5 11zM544 671l-12-2l0.5-9l10.5-3zM841.5 947l-11.5 12.5l-7-7l11.5-11.5zM884 404.5l-10.5 3.5l-6-7l9-4.5z"/>
<path fill="#99e600" d="M375.5 777l14-0.5l0 11l-11 0zM957.5 656l-17.5 13.5l-7.5-15l14.5-9.5zM554 398l8.5 3l0 10l-11-5.5zM644 631l-9-3l4.5-11l12.5 5zM751.5 330l-7.5 9.5l-14.5-4l11.5-12.5zM349 886l8.5 13.5l-12.5 10.5l-8-19.5zM603.5 486l12.5 7l-7 8.5l-9.5-4.5zM703 534l12.5 7.5l-9 9l-9.5-14.5zM871.5 348l12.5 10l-8.5 8.5l-10.5-6zM780 337.5l12-11.5l11.5 7.5l-16.5 16zM1015 868l6 5l-4 6.5l-9-2.5zM643.5 764l23.5-2l0 11l-19.5-0.5zM240 585l1-11l11 1l-1 14.5zM360.5 333l7.5 3.5l-3.5 8l-11.5-6zM274.5 370l-11.5 4l-2.5-8.5l6.5-5zM214 841.5l10.5-15.5l8.5 3.5l-9 18.5zM162 277.5l-3-15l12-3l2.5 16zM795.5 650l13 4.5l-3 6l-14-4.5zM670.5 631.5l-15-4l1.5-3.5l11.5 1.5zM598 863l8.5-17l8.5 5.5l-8 18zM826 776l-6 15.5l-8.5-3l9-16zM337 814.5l-5 14.5l-9-3.5l5.5-11zM288.5 451l-16.5 0.5l3.5-11.5l9 1.5zM628 761.5l17.5 2l0.5 8.5l-14.5-2.5zM675.5 780.5l-16-13.5l4-3l13.5 16zM733 420.5l5 12l-4.5 3l-6.5-11.5zM1049.5 765.5l-3.5 0.5l-3-6l6.5-2.5zM399 745l-5.5-13.5l7-1l4.5 15zM641.5 684l-14 6.5l-3-8.5l16.5-1zM681 1001l13-8l3.5 8zM237 511.5l-16.5 0l3-6l11 0zM265 550l2.5-9.5l13 0.5l-7.5 15.5zM115 511.5l12.5-2l1.5 12.5l-11-1.5zM579 762l15-15.5l4.5 6l-13.5 15.5zM1028 683.5l2 9.5l-13.5-1.5l-0.5-7.5zM581.5 335l-18-3l5.5-9l14 3zM510.5 778.5l-1.5 8l-7.5-2l5-10.5zM182.5 368l-8 9l-8.5-3l7.5-9zM944 972l9.5 9.5l-7.5 10l-9-6zM777.5 590l-18-2.5l0-12.5l20 5zM716.5 495l-10 3.5l-7-10.5l11-2.5zM788.5 497.5l-5.5 9l-5.5 0l4-13.5zM581.5 963.5l-5.5-19l12-4l4 18.5zM244.5 324l13-2l-5.5 12.5l-11 1.5zM970 673l-13 8.5l-5.5-5l17-13zM976 331l1.5 12l-14 4l-1.5-10zM259 539l-4 1.5l-3-13.5l11.5 3.5zM389 390l-7.5-9.5l5.5-6l7.5 4.5zM361.5 632.5l-14 5l-2.5-6l14.5-7.5zM881.5 346l-8.5-4l10.5-11l5 2.5zM597.5 317.5l-20-3.5l0-12l18.5 5.5zM722 729.5l6 8.5l-9.5 11l-9-13.5zM354 891l-13 5l-4.5-9l14-3zM294.5 425.5l-18.5 2l-2-14.5l18-1zM804 454l17 14l-4 5.5l-19.5-8zM869.5 330l-22 4l-1.5-11l21.5-4zM228 471.5l-4 19.5l-14-3.5l6-19zM849.5 838.5l-7 17.5l-9.5-2l9-19zM114.5 555l21 10l-9 13l-16-9.5zM548.5 1001l-7.5-10l8-4l12 14zM941 571l18.5-5.5l4.5 9l-19 11.5zM564.5 976.5l-1-12l3.5-5.5l5 13zM493 215.5l2.5 11.5l-10.5-0.5l-4.5-11zM266.5 883.5l-18-4.5l6.5-10l11.5 8zM474 725.5l-3.5-6.5l4.5-9l6.5 9zM351.5 646l-2.5-14.5l8-2.5l2.5 19zM573 412.5l-4.5 12l-9.5-5.5l6.5-12zM543.5 290.5l-13 7l-7.5-4l13.5-11.5zM428 599l-19.5 4.5l2-7l15.5-1zM474 560l23 2.5l-4.5 13l-20-8.5zM341 865.5l14.5-3.5l3 5l-13 7zM900 636l5.5 4l-3 7l-8-10.5zM580 801l10 3l-1 6.5l-9.5 0zM530 412.5l14-10.5l4 7l-11 9zM129.5 550.5l13 7l-6.5 11l-14-9zM871.5 482.5l13.5 2.5l-6.5 14l-7-3zM390 661.5l-1.5-11.5l5-2.5l6.5 15zM972 605.5l-10.5-11l15-5.5l7 13zM187 270l5.5 5l0 9.5l-7.5-1.5zM403.5 630.5l-12.5 2l0.5-7l12-3.5zM1049.5 521.5l-1.5 4.5l-12-8.5l7-11l6.5 2zM135.5 302l7-15l14.5 10l-14 16zM785 474l-3 6l-8.5-3.5l4.5-9zM399.5 459.5l11.5-11l10.5 6.5l-8.5 11.5zM445 790.5l4.5-14.5l5 6.5l-5.5 10.5zM943 722l10-8l5.5 4.5l-9.5 12zM809.5 562.5l-9-16l7.5-7l8.5 17.5zM350.5 831.5l-4 12l-8.5-2l8-15zM681 713l10.5 16.5l-6 5.5l-11-15zM995.5 899l-20.5-12l6-6l17 10.5zM741 728l12.5-6.5l4 11l-12 5.5zM712 648l-1 17l-4 5l-3-22zM734.5 458l-21 11.5l-3.5-8.5l19.5-8.5zM248 977l1.5 8.5l-7.5 0.5l-0.5-8zM299 339l-21.5 5l-0.5-13l23-1.5zM907 480l17.5-7l8 9.5l-16.5 10zM980.5 399.5l8.5-14.5l11.5 2.5l-5.5 17.5zM134 566.5l8.5 5l-7 7l-10-2zM516.5 671l-13.5-3.5l-1.5-7l18-4zM668.5 614.5l-8 0l-3.5-16l11 1zM391 707l-5-14l3.5-3.5l12.5 13.5zM683.5 752l-5-14l8.5-0.5l3.5 12zM462.5 385l10 18l-9.5 3l-11-16zM853 910.5l21.5 6l-3 7.5l-18.5-8zM785.5 816.5l8.5-8l11 5.5l-7 10zM159 952l5 13l-14 1l-0.5-12zM700.5 540.5l0-12.5l7-2.5l0 14zM381 298.5l-3 13.5l-9.5-5.5l3.5-7.5zM511 966l21-3l3 16.5l-18.5 1zM291.5 350l-16.5 7.5l-3.5-13l18.5-5.5zM341 835l-7 13.5l-9-3.5l7-16zM425 903l-10-2l3.5-9.5l12.5 6.5zM616 597.5l11.5 5.5l-3.5 13.5l-8.5-3zM919 723.5l11.5-10l6 7l-10.5 10zM765.5 949l-13-6l5.5-8l10 5zM413 227.5l12.5 11.5l-6 7.5l-14.5-11zM402.5 787l7-4l5.5 14.5l-10.5 4zM533 690l20-11.5l3 4l-21 11zM837 487l13 4l-3.5 12.5l-15.5-6.5zM806.5 345l7-10l7 8.5l-6.5 7zM321 661.5l0-12.5l11.5 1l-0.5 9zM870.5 704l-4.5-12.5l7-1.5l8 4.5zM692 793l-11.5-14.5l4-0.5l12 14.5zM510 541l-13-7.5l4.5-10l9.5 3.5zM893 625l8 7.5l-7.5 7.5l-6.5-9zM804.5 470.5l-4 19l-9.5-2l1.5-19zM624.5 560l-17 0.5l-1.5-4l17-4.5zM520.5 405l9 6.5l-7 15l-13.5-8.5zM811 634.5l-11-12l7-2l8 12.5zM203.5 633.5l6 7.5l-4.5 7.5l-7.5-6zM837.5 600l-13 3l-3-8.5l12-5zM972 714l-5.5 2.5l-8-13.5l9-3zM366.5 559.5l-13-3l4.5-10l14.5 5.5zM155.5 395l21 3.5l-5.5 15l-19-4zM941 640l-23.5 6.5l1-12l18.5-6zM170.5 512.5l-11-5.5l3.5-6.5l11 3.5zM742 398.5l8.5-5l5.5 5l-10 6zM743 302.5l10.5-9l8 5l-10 12zM730 554l1.5 9l-9-3.5l-1-9.5zM203 809.5l3-18.5l10.5 1l-5 14zM411 773.5l8.5-1.5l-1.5 13.5l-8 1.5zM632 754.5l18.5 0l-1 6l-18.5-0.5zM369 927l9.5 10l-12.5 9.5l-5.5-15.5zM755 826l-4 12.5l-12.5-0.5l6-13zM400 669l-2.5-16.5l9-2.5l8 14.5zM922 815l-1 6.5l-11.5 2.5l1-12.5zM576 629.5l3.5-22l7 3.5l-4 18.5zM827 628l-7.5-14l8-5l13.5 11zM924 583.5l-5-11.5l15-2.5l2.5 16zM905.5 368l1 13l-7.5-1l0-12zM970.5 992l18 9l-23.5 0l-0.5-0.5zM271 465l-15.5 14.5l-11-11.5l15-11zM107.5 215.5l1 0l0 4.5l-1 0zM428 693.5l8-9l3 4l-4 10zM737.5 701.5l4.5-16l4.5 1.5l-0.5 15.5zM631 683l-13.5-1.5l0-6.5l11.5-3zM952 327.5l-19.5-8.5l1.5-6.5l20.5 9.5zM941 647.5l-10.5 2l-1-8.5l8.5 1.5zM263.5 626.5l-10.5-1l1-14l7.5 1zM214.5 886l-7.5-7l5-6l3.5 11.5zM717.5 431l12.5 14.5l-8 6.5l-11.5-20.5zM286 828l-4.5-8l8-4l4 7zM864.5 438.5l-3.5 14.5l-9 0l3-15.5zM231 723.5l8-10.5l7.5 8l-7.5 9zM257.5 588.5l-14 1l-2-13.5l17 2zM849 305.5l-14 5l-0.5-7.5l12.5-4zM669 733l-1 11.5l-4.5-0.5l1-11.5zM793 718.5l-0.5-5.5l12 0.5l-0.5 8.5zM634.5 362.5l-16.5 2.5l-1.5-9l14-3zM552.5 840.5l4.5 18.5l-12 7.5l-8-21zM869 779.5l6-20.5l7.5 0.5l-7.5 19.5zM698.5 640l-2 10l-12.5-8.5l7.5-7zM857.5 646l-15.5-7l4-10l16.5 7.5zM505.5 716l14-9.5l8 8.5l-14.5 8.5zM421.5 389.5l-14.5-9l5-12l17 9zM149.5 295l-13 13l-9-6l16.5-13.5zM171.5 536l-8.5-9l4-4l11.5 6zM1002 303l19.5-9.5l9 14.5l-21 6.5zM556.5 544.5l-3.5 7l-8-2l1-10zM373 215.5l4 6l-19.5 3.5l-2-7l17-2.5zM772.5 1001l8.5-7l1.5 2.5l-3.5 4.5zM201.5 410.5l16 5.5l-5 11l-12.5-4zM551 639.5l6.5-15.5l3.5 5.5l-2.5 16.5zM447.5 584.5l13-8l8.5 12l-15.5 8zM142.5 986l-7.5 10l-9-5l9.5-11zM978 258l6.5 20.5l-11.5 1.5l-8-17.5zM566.5 1001l-12.5 0l4-8l10 4.5zM796 215.5l-5.5 5l-4.5-5zM372.5 410l13.5 11.5l-12 6l-8.5-4.5zM503.5 664.5l-19 1l3.5-7l13 3.5zM829 417l-5 21.5l-9-3.5l2.5-24zM841 969.5l-10 11l-6.5-5.5l9.5-7.5zM671 896l12.5 0.5l1.5 3.5l-12.5 1.5zM238 364l-15.5 6l-2-7.5l16-6zM836.5 1001l-6-10.5l6-5l8 15.5zM682 825.5l-1-8.5l7-1l-1 9zM226 824l12.5-11.5l3.5 7.5l-9.5 10zM518.5 687.5l-7 0.5l-0.5-13.5l6.5 2.5zM693.5 662.5l-2 23l-6.5-1.5l-1.5-20zM140 536l4.5 0.5l-2 11l-7-2zM243 333.5l15 2l-1 14l-16.5 0.5zM107.5 349l0-18l2.5 0.5l-2 17.5zM466.5 598.5l15.5 6.5l-4 10.5l-13.5-5.5zM898.5 340l4 14.5l-5 1.5l-7.5-14.5zM987 498l-6 17l-10-1.5l3-22zM317.5 860l22.5-3l1 6.5l-22 8zM362 321.5l-2 11l-9-4.5l5-5.5zM930.5 620.5l-10 6l-1-8.5l6-4.5zM230 960.5l-15.5-4l3.5-5.5l12.5 4zM237 928.5l4-11l4.5 1.5l-2.5 14.5zM348 504l-15.5 8.5l-3-5.5l16-10.5zM426 533l11-7l4.5 11l-14 7.5zM107.5 357.5l0-7.5l0.5-11l11.5-0.5l-3 19zM657 616.5l-9.5-9l3.5-5l10 11zM610.5 872.5l-11-12l11.5-6l9 11zM365.5 669.5l-8.5-19l10.5-1l3.5 13.5zM479 376l6.5 16l-7 8.5l-14.5-19.5zM1009 734l-3.5-6l8-4l1 12.5zM682 857.5l-19-9.5l8-12l15.5 7zM627 899l-15 11.5l-1.5-9l17.5-5.5zM493 441l-6.5 11.5l-6.5-5.5l5-10zM644.5 611.5l-14.5-13l7-7.5l12.5 13zM1032 481l2.5-17l8.5-0.5l-4.5 18.5zM179 582.5l4 13.5l-14 5l-2-14.5zM696 728.5l9.5 19l-10 2l-9-14zM583 446l4 16l-15 1l-2-12zM561.5 750l14-12l5 6.5l-10 11zM563.5 821l19 2l-3 9l-21-2zM922 895.5l16 9l-7 8l-17-7.5zM615.5 899.5l-11 5.5l-5-12.5l11.5-1zM971 497.5l-2.5 10.5l-6 2.5l3-16.5zM976.5 622.5l-5-16.5l8.5-8l8 19.5zM411 503l9-2l2.5 5.5l-6 4zM893.5 969l-1-9l8 1.5l-0.5 11.5zM1034.5 772.5l-12.5 2.5l-5.5-8l16.5-7zM756 962.5l-12.5 6.5l-2-7l7-5zM643 563.5l-1.5 11.5l-8-4.5l3-14zM341.5 295l-3 17l-7.5-7.5l6-12zM1010 442.5l11.5-0.5l-0.5 15.5l-12.5-1zM317.5 517l-12 0.5l-2.5-8.5l14.5-0.5zM276.5 544l-7.5-0.5l0-8l5.5 2.5zM314 874l17-3l2.5 8l-17 3.5zM592 434.5l20.5 14.5l-8.5 5l-15.5-10.5zM297 841.5l-11-12l9.5-6l5.5 12.5zM907.5 887l2-12l7.5-0.5l0.5 13.5zM328.5 409.5l3-17.5l12 2.5l-4 20zM933 758l14.5 0.5l2 7l-7.5 6zM488.5 509.5l-15-11.5l3.5-5.5l16.5 9zM380.5 398l10 4l-3.5 7.5l-12-8zM565.5 737.5l6.5-6.5l4.5 4.5l-7.5 6.5zM713 540l-2.5 13l-7.5-2.5l5-14zM124 601.5l-16.5 13l0-10l7.5-7.5zM1033.5 869l16-3l0 6.5l-11.5 3.5zM231.5 415.5l3.5-8.5l8.5 4.5l-2 11zM973 724.5l-15 9l-1.5-14l10-1zM475.5 899l-1.5 24l-12.5-4l4.5-22zM599.5 994l-8.5-1l-4-5.5l13-2.5zM923.5 596l-14.5-4.5l8.5-9l12 8zM351.5 391.5l-5 9l-12-9.5l8-8zM185.5 911l-3.5-12l5-4.5l4.5 14zM255.5 290l-15 8l-4-7l14.5-9.5zM417.5 769l10 0.5l2 12l-9.5 3zM600 769.5l-17 10l-6.5-11.5l19.5-8.5zM766 285l16-7l6 11.5l-20 9zM577 486l14-2.5l1 10.5l-14.5 5.5zM892 601.5l7.5-1.5l-1.5 9l-9.5-1zM926 677.5l-6 18.5l-9.5 0.5l5.5-20zM870 910.5l-4.5-9.5l7.5-6.5l6.5 16zM695 1001l-0.5-7.5l6.5-6l7 13.5l0 0zM490 377l14 3.5l-1 7.5l-18.5-5zM173 487.5l5.5 9.5l-9 5.5l-7-8.5zM640.5 825.5l-18.5 2l2-14.5l16 0zM595 628.5l-15 8l-2.5-5.5l15.5-12zM270.5 736.5l9.5-10.5l10.5 6l-6 14zM497.5 466.5l-11.5-4.5l6.5-8l9 7.5zM267.5 891l-1-21l10.5-0.5l-2.5 22zM286 806l10.5 16.5l-4.5 4.5l-11-20zM576.5 694l-5.5 3.5l-3.5-6l4.5-4zM365 685.5l-6-19l5.5-2l5.5 15.5zM579.5 845.5l5.5 18l-11 4.5l-5-18zM187 817.5l21.5 1l3.5 8.5l-24 3zM601.5 745.5l10.5 10.5l-4.5 8.5l-12.5-13.5zM583.5 461.5l10 19l-14 7.5l-8-21.5zM242 857.5l7.5-6.5l4.5 4.5l-5 6.5zM349 388.5l13.5 14l-8.5 5.5l-13-8zM802.5 642.5l-6.5-8l7.5-6l9 9zM249 987.5l0 10l-7 0l-2-12zM784 318.5l4-6.5l11 10.5l-9 7zM784 481.5l-6.5 15.5l-5 1l2-18zM281 542l-0.5-4.5l13 3l-4.5 6zM576.5 509l11-2l2.5 11.5l-11.5-1zM481 372.5l5.5 3.5l-0.5 11l-10.5-4.5zM845 379.5l12 14l-10 7.5l-14-18zM119 908l8 5l-8 9.5l-7-4zM432 421.5l-6.5-3l11.5-9l8.5 7.5zM138.5 977l-16.5 14.5l-3-3l11.5-18zM1007.5 694.5l2.5-21l8.5 0.5l-8 20zM252.5 347.5l-13 5.5l-3-6.5l12-4zM245.5 621l-3.5 21.5l-13.5-1.5l2.5-20.5zM254.5 321.5l16.5 6.5l0 9l-18-2.5zM532 684.5l13-7l1 4.5l-12 11zM749 410l13.5 19.5l-4.5 3.5l-13.5-19zM692.5 870l22.5-3l-1 10l-17 0zM568.5 997.5l-17.5-2l1.5-10.5l18 7zM842.5 821.5l-12.5-18.5l7.5-5.5l15 14.5zM883 923l20 6.5l-5 9l-17.5-12.5zM824 589l-9.5-13l12.5-5.5l6 13.5zM490 930l14 8l-7.5 9.5l-12.5-6zM689 700.5l6.5 15l-7 6.5l-10-11.5zM513 843l-5.5-17.5l10.5-2l6.5 15zM950.5 640.5l-11 0l-3.5-13.5l10 1zM630 670.5l-14.5 1.5l-2.5-13.5l10.5-1zM934 505.5l2 13.5l-13 4l-3-17zM315 374l-8.5 2.5l-5.5-4.5l12-6.5zM569 351.5l-8 4.5l-5.5-12.5l5.5-3zM841.5 768l8.5-17.5l9.5 6l-2 16.5zM798.5 567l-8.5-18l9.5-1l11 18zM423.5 703l7-9.5l6 4.5l-8.5 8zM807 808l-2 6l-6.5 0l0.5-11.5zM454 809.5l2.5-10.5l12 4.5l-4.5 10zM796 752.5l4.5-21.5l5 1l1.5 20zM807 649.5l-1-4.5l7-6.5l6 5.5zM263.5 285.5l-9.5 3.5l-4-4.5l11.5-8zM795.5 805.5l-8 19l-13.5-4l8.5-19zM1018.5 392.5l5.5-19l14.5 4l-7 17.5zM901.5 505.5l-1.5 11l-14-4.5l7.5-15zM1017 747l12.5 5l-5.5 12.5l-14.5-7zM847.5 751.5l2.5-14l13 2l-5 13.5zM717 533l3-11l10 2l-1 8.5zM513.5 767l-1.5 9.5l-9.5-3l6.5-8zM657.5 911.5l-13.5 6.5l-5-12.5l16.5-1zM143 314.5l-4.5 11.5l-10-4.5l3.5-6zM724.5 665.5l1 16l-9 2.5l-5-16zM375.5 338l20.5 10l-5 5.5l-18.5-12.5zM552 346l-13.5 12l-9-7.5l14.5-11zM755 293l5.5-15l8 9l-7 11.5zM802.5 257.5l-17-4.5l1.5-6l19 7zM600 640.5l-12.5 5l-2-3l11.5-10zM994.5 739.5l2-7.5l8-2.5l3.5 9.5zM929.5 824l-2 16.5l-10-2.5l2-12.5zM812 273.5l-17.5-6.5l0.5-11l18.5 9zM646.5 957l-1.5-10.5l10.5 0l1 9.5zM248.5 639l-4.5 11l-3-2.5l3-12zM756 463l-11.5 19l-5-2l7.5-21zM107.5 525.5l17.5-5l0 14.5l-17.5 5zM247 454l-7 11.5l-8-10l5-8zM749.5 385l8.5-7l6.5 2l-9 13zM250 949l12.5 1l-6.5 15l-9-5.5zM631.5 434l12 7.5l-7.5 8.5l-10.5-7.5zM222.5 320.5l18 0.5l-1.5 12l-19.5 0.5zM989 259l1.5 8.5l-9.5 1l0.5-7.5zM982 386l-19.5 10l-4.5-10.5l17.5-6.5zM1049.5 685l0 21l-5 1l1.5-20zM735.5 544.5l-3 10l-8-1l2-13.5zM626 895.5l-14 6l-3.5-14l14-6zM885 360.5l6.5 16.5l-10 3l-8-17.5zM309 882.5l22-3.5l3 11l-24.5 9zM119 595.5l-11.5 10.5l0-11l3.5-3.5zM362.5 889.5l-7.5-0.5l-2.5-4l6-5zM618 682l-10 3.5l-2.5-10l11-3.5zM663 651l-18-3l-1.5-13.5l17.5 1zM1002.5 663.5l3-9.5l10.5-2.5l-5 10.5zM663 515.5l-2-17l4.5 2l6.5 11.5zM303 837.5l-9.5-15.5l5-4.5l11 17zM149.5 874l9.5 20.5l-8.5 3.5l-9-17.5zM909 871.5l3.5-8l5.5 1l2 9zM404.5 820.5l-3.5-14l14.5 0l3 12.5zM239.5 984l3.5 16l-4 1l-5 0l2-17zM426.5 642.5l8.5-17l13 4l-13.5 20zM640.5 575.5l0 6.5l-12 0l6-9.5zM359.5 538l-13.5-3.5l-0.5-6l12 3zM423.5 780l4-10.5l10.5 0.5l-8 13.5zM356.5 819l-5.5 11l-4.5-3l0-11.5zM608 551l-12 3.5l-3-11.5l13.5-2zM500.5 705l16.5-11l7.5 2.5l-21 12.5zM365 548.5l-9.5 1l4-11.5l9.5 5zM221 976l-14-5l1-4.5l17 1.5zM986.5 971.5l3-19.5l9 4.5l-5 16zM281 590.5l-13.5-2.5l0.5-9l15 0zM932.5 381.5l-5-17l12-1.5l7 14zM802.5 733.5l1.5-18l9-2.5l0.5 18.5zM573 589.5l1-14.5l8-2l0.5 14.5zM695 717l8 8l-9 6l-4.5-11zM794 736.5l-22.5 6.5l1-11l21-6zM986 820l17.5-7l6.5 9.5l-17 9zM817.5 259.5l-16-9l5.5-8l13 9zM801.5 632.5l-3.5 20.5l-15 0l2.5-23zM994.5 987.5l-8.5-15.5l14.5-0.5l3 15zM681.5 918l-22.5 7.5l-2-13l19.5-3zM373.5 248l1-11.5l14.5 3l-2.5 10zM834.5 558.5l-5.5 7l-8.5-6.5l1.5-8zM1004 590.5l5-11.5l8 3l-3.5 13zM164.5 642.5l-13.5-3l-1.5-10.5l20 5zM975 875l-18.5-13.5l5.5-10.5l16 14.5zM160 794.5l15.5-4l3 9.5l-17 4zM675 908.5l-18.5 4.5l-1-10.5l12-2.5zM805.5 346.5l21.5-7l-1.5 10.5l-21 3zM418 509l15.5-9.5l3 13l-12 4.5zM330.5 513l-10 8l-4-7l14-7zM805 713.5l4-14.5l5.5 3l-1 14zM975 381l8-19l9 1l-5 20.5zM125 909l20 12.5l-7.5 12.5l-18.5-11zM245 909l-1-12.5l11 4.5l-4.5 7zM534 731.5l-4.5-1.5l2-5.5l9 3.5zM508 706.5l12-6.5l1 6l-13.5 6.5zM167.5 480l4.5 10l-6 5l-5-9zM912 234l-11.5-12.5l6-6l6.5 0l6.5 10.5zM502.5 768l-4.5 9.5l-15-11l8-6zM292 327l-20 2l0-8l17.5-5zM460.5 707.5l-16-8l4.5-14l15.5 12.5zM311 974.5l-13.5-7.5l4.5-11l17 8.5zM582 603l1-13.5l8.5-4l0.5 15zM795 857l-11 6.5l-3-8l8.5-8.5zM514.5 759.5l-15.5-16l11-9.5l14 14zM522.5 716.5l10-7.5l4 10.5l-8 4.5zM586.5 503l10-1l0.5 11l-8 1zM1015.5 544.5l-2.5-14l10-2.5l-3 13.5zM969 646.5l-8.5 9l-8-11l12-8zM366.5 642l-20 5l0-9l19.5-3zM760 313.5l-10 16l-11-8l11.5-14.5zM390 471.5l4-3.5l11 3.5l-2 8.5zM290.5 393.5l-13.5-3l3.5-8.5l16-1.5zM737.5 498l-19 9.5l-6-14l20.5-8zM748.5 586.5l-11.5-6.5l3-8l10-1zM1005.5 608.5l9-16.5l5.5 3.5l-2.5 18.5zM546.5 298l-6.5 7l-11-4.5l7.5-8zM185 996.5l-0.5-6.5l5.5-3.5l1 14zM363.5 914l4.5 13.5l-10 7l-4-12.5zM167 449l1.5-7.5l9 3.5l-2 8.5zM393.5 434.5l-0.5-14.5l11.5 2.5l-4.5 15zM346.5 486l12-0.5l-3 13.5l-12.5-4.5zM714 272.5l8.5 4.5l-11.5 8.5l-6-5zM145 882.5l6.5 13.5l-8 5l-5-16zM269 518l-20.5-3.5l3-7.5l19.5 6zM711.5 400l3 9.5l-9 3l-6-8zM230.5 589.5l-0.5-11.5l13-3l-1.5 14zM756.5 332l-7.5 11.5l-5-6l8.5-10.5zM194.5 277l7.5 2l0 9.5l-10-3.5zM129.5 902.5l16.5 7l-4.5 7.5l-19.5-8zM412.5 635l-7.5-19l7.5 1.5l7 16zM661.5 801l-16-0.5l2-7.5l17.5 2.5zM1049.5 483.5l-11 1.5l2-10.5l9 1zM182.5 541l-9.5-5l4.5-6l9.5 4zM647 773l13-3.5l-3 10.5l-8.5 1zM496 496l-11-12l5-4l14 8zM633.5 370.5l-17.5 4.5l0-10l14.5-1zM235.5 528l-17.5-6l2.5-11.5l13.5 1zM811 430.5l-13-21l8.5-3l11.5 17zM675.5 644.5l4 20.5l-13 2l2-20.5zM998 762l15 5.5l-6 12.5l-14.5-10zM300 927.5l11.5 18l-7.5 8l-15-17.5zM1008.5 471.5l6-19l11 1.5l-2 18zM803 745.5l0.5-12.5l12 1l-4.5 11.5zM419 457.5l10.5-15l5.5 10.5l-7 8.5zM586 582l-12.5-1.5l-1.5-11.5l14-3.5zM199 286l19.5 7.5l-4.5 10l-18.5-6zM245 344l-18.5 6.5l-6-12l17.5-8zM893.5 589l17.5 2l-1 14.5l-18.5-3.5zM527.5 859.5l-6-16.5l9-2l5.5 16zM567.5 857.5l4.5 11l-13.5 0.5l-2-6zM439.5 475l-8.5 19.5l-5.5-1.5l7.5-19zM257 402l2.5-15.5l13.5 7l-10 12zM232.5 980l-10.5-4.5l0.5-5.5l10.5 3.5zM801 875.5l7.5-4l6.5 7l-5.5 3.5zM681 437.5l18-3l-1 2.5l-13.5 6zM567.5 444.5l5 17l-10 3l-5.5-17zM831 542l-6 9l-6-5l5.5-12.5zM1007.5 300l10.5 13.5l-10 6.5l-5.5-15zM359.5 658.5l2.5-10.5l3-3l1.5 12.5zM423.5 599l15-8.5l3.5 10.5l-13 10zM1044.5 999l-6.5-21.5l8-2l1.5 17.5zM381 505l9.5 3.5l-4 9l-10.5-6.5zM313.5 818.5l5-12.5l8.5 1.5l-5 18zM534 380l20 1.5l0 12l-19.5-6zM443.5 633.5l9-13l11 6l-9 12.5zM245 891l-15.5-6l4-16l13.5 5.5zM942 630l-21 0.5l-4.5-4l23-3.5zM1041 776l-8 2l-4-6.5l10.5-3.5zM1004 714l0.5-22l6.5 1.5l-4 22.5zM169 937l-13.5 13.5l-9-14l13-12zM754 953.5l-12 7l-5.5-8.5l10.5-6.5zM136.5 884.5l-13-15.5l8.5-6l13 18zM113 591l11.5-21l4.5 5l-9 17.5zM711 907l6.5 22l-15 0.5l-0.5-20zM788.5 353.5l17.5-4.5l3 4.5l-20 5zM1021 628.5l10.5 17.5l-6.5 5l-13-15zM972.5 461l-10-13l9-4.5l8.5 14zM963.5 821.5l3.5 15.5l-10 8l-6-18zM113 724.5l-5.5-2l0-7l6.5 1zM611 890l-11.5 4l-6.5-15l12.5-3zM332 243.5l20 12.5l-6.5 10l-16.5-10.5zM234 441l-5-7.5l7.5-7.5l7 5.5zM655 637.5l-11-2.5l-1.5-3l9-2zM788 577l-9-9l10-7.5l7 8zM1049.5 965.5l0 16l-2 0l0.5-16.5zM645 946l-2.5-10l11.5-3.5l-1.5 11.5zM163 453l-8 14l-10.5-2l5.5-14zM517.5 961l22-2.5l-2.5 3.5l-15.5 4zM455 539l11.5 2.5l-4 8.5l-6.5-1.5zM156 950.5l-12.5 9.5l-9-12.5l10.5-10zM410 455l3-13.5l11 1.5l-5.5 15zM281.5 439l-11.5 1.5l-3.5-10l13.5 0.5zM199 828l13-2l-2 8l-13 2zM321.5 691.5l-7-21l8-3l5.5 19.5zM125.5 985l-7 8l-11-14.5l10-4zM589.5 646l-14.5 8l-1-5.5l10-6.5zM287 378.5l-18 5l-3-10l19-6.5zM355 548.5l-13-4l1-10l13 4zM322.5 519.5l-9 5l-4-7.5l8-4zM533 667l-17 2l0.5-12l13 1zM993 919.5l-7 10.5l-12-11.5l8-8zM208 899.5l-5-11.5l7.5-3.5l6.5 9zM275 552.5l1.5-10l15 4.5l-7.5 9.5zM190.5 283l10.5 5l-6.5 9l-10-1.5zM621 364l-23.5 5l-1.5-11.5l21.5-4.5zM367 328.5l-6 11.5l-7 0l6.5-15.5zM287 909l17-4.5l5 10l-19.5 10.5zM597.5 861.5l3.5 14.5l-9 8l-6-18zM682.5 645.5l-1 24l-2 0l-1-23.5zM693 806.5l-9.5-9.5l8-3l7 9.5zM894.5 446.5l5.5 12l-3.5 3.5l-10-7zM862.5 728.5l-9.5-12l6.5-2l10.5 13.5zM674 835l-3.5-10l9.5-4.5l-1 15zM911 466l8.5 11l-2 5.5l-9-12zM799.5 334.5l16-11.5l7.5 5l-15 16.5zM430 378.5l-14.5-11l2.5-7l16.5 11.5zM227 383.5l4-10.5l4 2.5l-5.5 7.5zM787.5 236l-11.5-2l3-12.5l13 4zM659 815l-22.5-1l2.5-16l18.5 3.5zM1045.5 415.5l-15 12.5l-3-6l12.5-13.5zM344 499l-16 9.5l-7.5-8.5l19.5-8zM672 452.5l10.5 8.5l-4.5 6.5l-11-4zM889 348.5l-7-4l9-8.5l5.5 1.5zM934.5 675l-3 10l-8 0.5l2-12zM309 628.5l-12 2l0-13l8-1zM782.5 776l-14.5-8l5.5-10.5l16.5 7zM751 327l11-11l9 5l-6.5 12zM476 229l7.5 15l-14.5 4.5l-3-16zM333 317.5l-4 20l-9.5-4l4-18.5zM731.5 524l-6.5 22l-9-4.5l6-20.5zM276 297l-14.5 2.5l-6-8.5l14.5-9.5zM989.5 628l8 16.5l-12 6l-9-12zM249 878l-14.5-7.5l3.5-4l14.5 4.5zM930 229.5l-5.5-9.5l4.5-4.5l8.5 0l4 6.5zM624.5 881.5l-16 8.5l-6.5-13l16.5-7zM864.5 917l-6.5-11.5l5.5-6l6 16.5zM1049.5 436.5l-12 5l-4.5-3.5l16.5-11.5zM669 509l11.5 2l2.5 6l-11-1.5zM779.5 588.5l-14-14l4.5-3l16.5 13zM905.5 838.5l11-10.5l7 8l-12.5 8zM853 476l19.5 6l-5 11l-18.5-5.5zM1044 961l-0.5 21l-10 0.5l-2-21zM405 828.5l-3-9l13.5 0l-1.5 11zM838.5 334l-17.5-0.5l0.5-11l15-1zM339.5 697.5l-15.5-6l0.5-8.5l18.5 4.5zM744 417.5l9.5 16l-6.5 7l-9.5-13.5zM427 333.5l10.5-16.5l12.5 8l-14.5 18zM1033 354l5-10l8.5 4l-5.5 9.5zM1049.5 448.5l-0.5 0.5l-7-9l7.5-4.5zM362.5 951l16-10.5l2.5 5.5l-11 12zM276.5 669.5l-11 3l0-8l8-2zM896 664.5l-13.5-3l1.5-7l13 5.5zM394 453.5l6.5-6l6.5 2.5l-5.5 10zM972.5 698.5l-10 7.5l-5-9l12.5-9.5zM776 576l-8-11l5.5-1.5l10 8zM760.5 578l-13-6l3-5.5l12 0zM433 964l0-8.5l7-2l2 10.5zM891.5 460.5l19 15l-11 4l-16.5-15zM265.5 743l-18.5 1.5l-1.5-11l18-6.5zM650.5 553l-3.5 11l-12.5-5.5l3-9.5zM416 795.5l6.5-15l10 3l-5 13zM1028.5 712.5l21 1.5l0 13.5l-21.5-2zM693 536l11.5 11l-7.5 4.5l-9-8.5zM1023.5 366l2.5-13.5l5 1.5l-1.5 14zM260.5 441.5l-12 15l-9-9.5l11-13zM1049.5 773.5l0 0.5l-6 0.5l-5-7.5l9.5-3zM393.5 509.5l17-6.5l7 7.5l-19.5 11zM671 438.5l10-3l3 5l-12.5 5zM766.5 640l-4 24.5l-9.5-2l2.5-22zM737 324.5l-7.5 13.5l-9-5l8-13.5zM177.5 924l-8-14l7-5l8 15zM132 922.5l-6 11l-8-11l9.5-3zM423 941l-23.5 5.5l-1-10.5l23.5 2zM649 577l-6 20.5l-5.5-4.5l4-19.5z"/>
<path fill="#0070ff" d="M855.5 437.5l-5 12.5l-10.5-2.5l5.5-12.5zM159.5 854.5l8-13.5l10.5 8l-1 9.5zM577.5 421.5l-3 7l-5.5-3.5l2-10.5zM291.5 652.5l20.5-11l6.5 6l-20.5 15zM1035.5 681l0.5 10.5l-8.5 4l-1.5-18.5zM223.5 594.5l1 10.5l-11.5 4l-7-13.5zM154.5 331.5l11-14l5 5.5l-10 11.5zM263.5 590l-10 0.5l0.5-13.5l14 4zM724.5 722l3.5-12l10.5-1l-2.5 13.5zM500.5 441l-3.5 12.5l-10 1l7.5-15.5zM489 915l13.5 11l-5 11l-15.5-10.5zM838.5 852l8 18.5l-5.5 5.5l-6-19.5zM911.5 404l-8.5-7l7.5-6l9 7.5zM895 490.5l-6.5 15l-11-6l7-15.5zM608 872l-15.5 8.5l-5-3l20-10.5zM666 786l-10-12.5l7.5-3.5l8.5 10.5zM112 634.5l-4.5-0.5l0-5l6 0zM805 254.5l-11.5-7.5l-1-7.5l13.5 7.5zM513.5 807l-13.5-2.5l0-10.5l16 1.5zM305.5 1001l-1-5l13 2.5l-0.5 2.5zM629.5 875.5l-9-3l10.5-10l6.5 6zM773.5 943.5l-12-6l2.5-9l11 3zM765 577l-11.5-11l9-2l8 5zM855 659.5l1 19.5l-11 4l-2.5-26.5zM510 752.5l-9 13l-12-4l10-17.5zM740.5 341l-4 11.5l-11-8l5.5-10zM494 389l16 1.5l-1.5 12l-19-4.5zM869.5 278l15.5 10.5l-3.5 8.5l-20.5-7.5zM605.5 720.5l20-3.5l1.5 11.5l-20.5-1zM305 746.5l-15.5-18.5l13.5-3l10 13zM780.5 354.5l7-1l4 5.5l-6.5 0.5zM369 541.5l-11.5-3.5l1-5.5l10.5 0.5zM297 439.5l-13.5 1.5l-1-10.5l18-1.5zM717.5 733l3-20.5l5.5 0.5l1 20zM422.5 853.5l-9-0.5l8-14l4 5.5zM774.5 379l-10.5-20l12-5.5l7 18.5zM298 383.5l-17 2.5l-2-7.5l15-2zM1006 602.5l5 16.5l-7.5 5l-6-15.5zM246.5 853.5l13-14l4.5 2.5l-10 12.5zM280 526l-14.5-2l2-5l10 0.5zM628.5 699l-14.5 1.5l1.5-8.5l9-5zM738 430l5 6.5l-4 6.5l-7.5-8.5zM819.5 793l-2 13.5l-9.5-4l6-12.5zM839.5 550.5l-5 10l-13-6.5l6.5-10zM676.5 519.5l18.5-2l2.5 11l-23.5-1zM204.5 890.5l-8-8.5l6-5.5l9.5 6.5zM596 383l-19 6.5l-6-8l18.5-7zM638 704.5l1 6.5l-13.5 0.5l1.5-9.5zM562 357.5l-17.5 3l-5-11l17.5-3.5zM199 570.5l1.5 8.5l-12.5 3l1.5-4.5zM660 511.5l11 1.5l0 5.5l-8 0.5zM779.5 457l-9-17l8-6l11.5 20.5zM656.5 1000l-3 1l-7.5 0l-3-11l12.5 3zM1046 951l2 11l-15.5-0.5l-2.5-6zM148 637l-9-4l0.5-5l10.5 1.5zM963.5 726l-13 8.5l-4-11l6-8zM116.5 899.5l-9-8.5l0-1l10-4l6.5 5.5zM120.5 617.5l-12 6l-1-0.5l0-6l9-6zM560 279l-8.5-9.5l10.5-6l7 14zM345.5 772l-6-7l3.5-5.5l7 2.5zM208 815l15-1.5l3 7.5l-14.5 6zM253 540.5l-15.5-5.5l0-8l16.5 2.5zM255.5 868.5l-13.5-4l3-9l13.5 7.5zM593.5 986l-15.5 4.5l0-7l10-5.5zM901.5 455l9 11l-2 5l-10.5-6zM694 624l-5.5-19.5l12.5 2.5l4 15zM180 665.5l13 1.5l2.5 7.5l-16.5 3.5zM850 819l-9 12.5l-10.5-7l6-10zM786.5 630l-2 16l-12 3.5l2.5-21.5zM330 878l10.5 0l2.5 9.5l-10.5 5zM328 895l12-7l7 9l-15.5 2.5zM621 400.5l-9.5-9l6.5-9l15.5 9zM813 921l-11.5-16.5l7.5-8l13.5 15zM262.5 1001l1.5-6l19-1l0.5 7zM881.5 286.5l2-19.5l11.5 0.5l-0.5 17zM250 439.5l-15.5-15l9-11l13 14.5zM352 313.5l-6 6.5l-10.5-4.5l1-7.5zM285 432.5l-18 0l3.5-7.5l17-1zM937 814.5l2 12.5l-6 0l-1-12.5zM330 825.5l-4.5 18l-6-2.5l4-16.5zM215.5 791.5l15.5-13l7.5 10l-13.5 14zM661.5 709.5l-3 10.5l-11.5-2l1-10zM740 642.5l-14 17l-11.5-10l17-16.5zM837 642l2.5 18l-9.5 0.5l-1.5-21.5zM134 995.5l-4 5.5l-8.5 0l-1.5-1l4-11zM697 563l6 3.5l-7.5 12l-9-9zM655.5 311l-19 2.5l-1-11l19 1zM158 380.5l12 3l-1.5 7l-16-1.5zM715 393l-20 4l-4.5-9.5l23-5.5zM691 654.5l2 9l-10.5 0l-1.5-11zM134.5 1001l-4 0l2-2.5zM759.5 403.5l5.5 11l-9 5.5l-8-10.5zM768.5 628l-4.5 15l-10-0.5l2.5-14zM214 429.5l-13 8.5l-6-12.5l10.5-7zM320 470l-17.5 4l1.5-17l18.5 3zM464.5 846.5l14.5 9l-3.5 9l-15-9zM697 236l4-10l5.5 5.5l-5 7.5zM849.5 998l-19-14.5l6-6.5l19 12.5zM686.5 709l-2 21.5l-14.5-3l5-18zM797 444l-13.5-14l10.5-8l10 20.5zM861.5 818l-8.5-7l3-9l8.5 9.5zM790 878.5l11.5-17l8.5 9l-17.5 14zM382.5 487l-18.5 7.5l-2.5-10l19.5-5.5zM605.5 725l22 3l-2.5 8.5l-20.5 1.5zM844 562.5l-8 12.5l-10.5-2l11-16.5zM705 478l-9.5-14l11.5-6l4 14.5zM810.5 352.5l10.5-2l2 14l-7.5 3.5zM231 442.5l-5.5 3.5l-7-11.5l9-1zM259.5 376l-19.5 8.5l-7-8.5l23.5-10.5zM259 529l-12-2.5l0.5-10l13-0.5zM644.5 474.5l17 8.5l-2.5 6l-20.5-7.5zM304.5 604l-22.5 7l-0.5-9.5l23-4zM694 549.5l9.5 10.5l-6 5.5l-6.5-8.5zM303.5 984.5l17.5 1l2 12.5l-22.5-0.5zM283.5 721.5l-8-10.5l11.5-9l6 11.5zM729 711l-1.5-20.5l12 5l1 14.5zM935.5 720l9-13.5l10 6.5l-15 14.5zM1009.5 455.5l14 0.5l-2 8l-11 3zM479 511.5l-14-4.5l1-4.5l19 5zM870.5 744.5l-7.5-16.5l7 1.5l8 11zM257.5 897l-14-9.5l4-10l15.5 8.5zM358.5 500.5l-8.5 5l-4-5.5l7-7zM409 655l-9-20l13.5-4l2 22zM292 961.5l-15-6.5l4-10.5l13.5 4zM156.5 387l16.5 9l3 2l-24-5zM501 425.5l1 16.5l-7.5-3l1.5-14.5zM668.5 519l7.5 1l1.5 5l-13 1.5zM636.5 450l19.5 10.5l-5.5 9l-20-11zM708.5 518.5l1-17.5l8-3.5l1 19.5zM677.5 930l-17 7.5l-4-11.5l22-6.5zM650.5 685.5l-10 13.5l-6-4.5l5.5-13zM638 450l8.5 5.5l-2.5 7l-13.5-9zM551.5 588.5l-1.5-23l13 0l3.5 17.5zM981.5 729l-1.5-18l12.5-4.5l1.5 19.5zM924 482.5l-6 9l-7.5 0l4-9zM230 632.5l8.5 3.5l-2.5 12l-11.5-11zM764 928l-12.5-3.5l1.5-14.5l13 4.5zM263 464l21.5-1.5l-2 10.5l-21-2.5zM547.5 775.5l-3.5 7l-11-0.5l6.5-13.5zM665 722l-1.5 12l-6-0.5l3-10.5zM257 546l-8.5-0.5l-0.5-6l8.5-2.5zM548.5 513l15.5-3.5l1.5 11l-16.5 0.5zM608 731l12.5-0.5l2 10l-15.5-4zM732.5 380l7-2l6 8l-2 4.5zM516 697.5l-11.5 2l1.5-9l10-2.5zM215 302.5l9.5-4l0.5 13.5l-8.5 2zM163 373l15.5 8.5l-2 5l-16-3.5zM830.5 491l-11-16l10-5l5.5 18.5zM256.5 912l8.5-5l4.5 8.5l-9 4zM781 723.5l-21.5 2l-3-14l19-3zM551 775.5l16.5 0.5l0 14l-16-4.5zM668.5 663.5l0 18l-8-1.5l-2-17zM614 738.5l17 1.5l-1 13l-16.5-2zM1002.5 551l0-22l13.5 2l-4 22zM889 782.5l13 4.5l-7 5.5l-10.5-0.5z"/>
<path fill="#ff5500" d="M1788 586.5l9 20.5l-14.5 6.5l-8-21zM1877.5 758.5l24.5 29l-9.5 9l-26.5-28zM2187.5 863l10.5 9.5l0 15.5l-19.5-18zM1663 884.5l14 22.5l-10 6l-14-21.5zM1738.5 844.5l43.5-3l1 16l-43 1.5zM1373 367.5l38-6l1 11.5l-38.5 5zM1355.5 380l45-5l2 14l-46.5 4.5zM1791 802l39-2l1 15.5l-41 1zM2057 299.5l14.5 31l-11 3.5l-13-30.5zM2032.5 261l19-4.5l3.5 12l-20.5 4.5zM1357.5 654.5l32.5-12l2.5 8l-32 11.5zM1355 526l25.5 35.5l-9.5 6l-25-34.5zM1378.5 354l34-20l6.5 11.5l-32.5 19.5zM1261.5 222l12-3.5l29.5 0l1 4.5l-38.5 11.5zM1633 450l22-7l3 7.5l-21.5 6zM1320 373l31-3l0.5 11l-30 2.5zM2099 372.5l21.5-10l4 6.5l-22 11zM1628 787.5l43-5.5l2 8.5l-44 5zM1257.5 401l44-10l3 12l-45 9.5zM1329.5 767.5l34.5 27.5l-4.5 5.5l-33.5-27.5zM1748.5 534l8 20.5l-8 3l-9-20zM1449.5 860.5l24.5 17.5l-7 9.5l-22.5-18zM2070 252.5l40-9l3.5 11l-41.5 9.5zM1642 478l36.5-4l2 11l-37.5 5.5zM1803.5 221l18 28.5l-12 8l-18.5-27.5zM1607.5 397l21-7.5l3.5 9l-21 7.5zM1764 532.5l14.5 35.5l-13 5.5l-15.5-34zM1895 396l45.5-18l5.5 13.5l-45.5 17zM2167 641.5l28-14l3 6.5l0 8l-24 13zM1308.5 578.5l20-14l10 13l-20.5 13.5zM2071.5 330.5l18.5 39.5l-12 4.5l-17.5-40zM1262.5 579.5l29-20.5l9 11.5l-29 21.5zM1866 564.5l5.5 33.5l-13.5 4l-6-35zM1985.5 597.5l19 29l-14 8l-17-29zM2047.5 695l23.5-6l1.5 8.5l-24.5 4zM1587 648.5l25.5-12l4 7.5l-24.5 14zM1541.5 545.5l29-1l0 9.5l-28.5 1zM1761.5 897.5l25 0l0.5 8l-24.5 1zM1475 306l14.5 18l-11 9l-14.5-18zM1849 834.5l23.5-6l4.5 14l-24 5zM1931.5 573.5l42-21.5l3.5 7l-40.5 20.5zM1529.5 368.5l14-9.5l8.5 12l-14.5 10zM1986.5 801l42 24l-7.5 12l-41-23zM1418 396l38-18.5l3.5 8.5l-38.5 18zM2030 380.5l43-7.5l1.5 11l-42.5 7zM1850.5 278.5l39.5-7l1.5 8.5l-40.5 5.5zM1311.5 400l34.5-5.5l2.5 15l-34.5 4.5zM1330 522l17-5.5l2.5 13l-17.5 4.5zM1826 572l7 33.5l-12.5 2l-6-33.5zM1969.5 241l22.5-22.5l16 0l-31.5 30.5zM1590.5 658l18.5-9.5l4 6l-20 10zM1749 451.5l41-14.5l2.5 6.5l-40.5 15zM1531 801l40.5-11.5l3.5 13.5l-40 11.5zM1546.5 824.5l21.5-7l1.5 7.5l-21.5 6.5zM1855 753.5l36-20.5l5.5 10.5l-37.5 19.5zM1460.5 529l33-13l4 12.5l-32 12zM2027.5 825.5l20 12.5l-6.5 11l-21-11zM1918.5 597.5l41.5-21l7 13l-42.5 20.5zM1376.5 813l14.5 29.5l-10.5 4l-14-29.5zM1750 736.5l31.5-3.5l2.5 14.5l-31 3zM1457.5 484.5l16.5-7.5l3.5 9.5l-17.5 5.5zM2098 819l22 12.5l-5.5 11.5l-23-11.5zM2123.5 857.5l43-14.5l5 14l-42.5 14.5zM1261 698.5l42-8l2.5 13l-42.5 9.5zM1347 516l18-4.5l4.5 14.5l-19.5 4zM2024 509.5l9 33l-12.5 3.5l-9.5-33.5zM1351 369.5l21-3l0.5 12l-20.5 2.5zM1443.5 943.5l18-8.5l1.5 7.5l-15 6.5zM2111.5 571l23-7l4 14l-23 8zM1542.5 458l28-27.5l9.5 10.5l-27.5 28.5zM1765.5 441.5l31-19.5l6 10.5l-31 19.5zM1487.5 413.5l38-25l7.5 13l-37.5 24zM1880.5 851l43.5-9l2 12l-41.5 10zM1436.5 900.5l20.5 16l-5 7l-21-14zM1646 382.5l39.5-21.5l5 9l-39.5 21zM1285.5 526l18-4l2.5 12l-17.5 4zM1965.5 857l16-11l6 9l-15.5 10zM1770.5 584.5l7.5 19.5l-8 3.5l-9-19zM1913.5 976l35.5 22l-3.5 5.5l-14 0l-26-16.5zM1446.5 327l23 29.5l-8.5 6l-22.5-29.5zM2003.5 625l18 29.5l-12 7.5l-19-28.5zM1391.5 578.5l27.5 37l-10 8l-27-39zM1425 805l10.5 20.5l-7.5 2.5l-10.5-19zM1749.5 409l41.5-25l5 9.5l-40.5 24.5zM1595.5 439.5l41-13l1 6l-40 13zM1271 791.5l30 22l-4 6l-29.5-22zM1639.5 462.5l31-3l1 15l-30.5 4zM1945 884l26-18.5l7 10.5l-26.5 18.5zM2079 318l11 25.5l-10 4l-11-24.5zM1948.5 845l14 21l-11 6.5l-14-21zM2143.5 624l39.5-15l5 15l-40.5 14zM1438 484l39.5-14.5l3.5 6l-39.5 14.5zM1472.5 220.5l4.5-2l18 0l-19 10.5zM1276.5 935l20.5-13l8.5 12l-19 14zM1853 920.5l16.5 27l-9 6l-17-27zM1447.5 450.5l23.5-11.5l6.5 13l-24.5 12zM1449.5 297l30.5 39l-10.5 7.5l-29.5-39zM2101 623.5l46-8.5l3.5 13.5l-46.5 9.5zM2013 733l48-9l2 13l-47.5 8.5zM1952.5 655.5l40.5-25.5l6 8.5l-40.5 25.5zM2100.5 854l41-14l4.5 9.5l-43 15zM1642 413l30-9l4 11.5l-30.5 8.5zM1430.5 628.5l41-25l8.5 13.5l-40.5 25zM1530.5 534l42.5-3l1.5 13l-42.5 1zM2109.5 600l44.5-14l3 11l-44.5 14zM2049.5 935l38.5-28.5l7 7.5l-39 29.5zM1509.5 436.5l21-21l7.5 7l-21 22.5zM2050.5 676.5l13 20.5l-10 7l-14-21.5zM1747 862.5l36 0.5l-0.5 11l-36 0.5zM1959 320.5l29 18.5l-5.5 8l-28.5-19.5zM1649 877.5l13.5-10.5l8.5 11.5l-13.5 11zM1833 556l8 39l-10 2.5l-6.5-40.5zM2087.5 529l21-1l1.5 14l-22 1zM2106.5 613l35.5-12.5l4 12l-34.5 11zM1524 829.5l22-5l2.5 7l-22 5.5zM1610.5 673l17 37l-8.5 4l-18-36zM1380 561l12.5 17l-10 7.5l-12-17.5zM1331.5 982l26-5.5l4.5 14.5l-26.5 6.5zM1653 579l41.5 25l-6.5 9.5l-42-25.5zM2052 256.5l17.5-3.5l3 11l-18.5 4.5zM1720 356.5l14.5-9l5 10.5l-15 8zM1602.5 368.5l28.5-18l6.5 10l-27.5 19.5zM1992.5 763.5l26.5-5.5l1 9.5l-25 4zM1599.5 726.5l16.5 35.5l-11.5 4.5l-15-35zM1984.5 286.5l24-25l11 10.5l-24.5 25.5zM1327 750.5l32.5-4l0.5 13.5l-30.5 3.5zM1845 365l34.5-10l2 7l-33.5 10.5zM1381 721l36-13l5.5 13.5l-36.5 13.5zM1864.5 760l27.5-15.5l7.5 14.5l-29 13.5zM1491.5 313.5l16.5 19.5l-8 5l-15-18.5zM1705 624.5l20.5 12.5l-7 10l-18-12.5zM1814 342l39-12.5l1 7.5l-38.5 13zM2118.5 887.5l20.5 27.5l-12 9l-20.5-26.5zM2063.5 772l21 10.5l-5.5 9.5l-19.5-11zM1684.5 362l37.5-20.5l5.5 9.5l-37 20zM2097 424l38.5-16.5l3.5 10l-37.5 17zM1424 805l20-10.5l5.5 12l-20.5 11zM2130 702l34.5 29l-4.5 5.5l-35.5-29zM2094 269.5l11 26l-7.5 4l-10.5-26zM2000.5 358l23 22l-9 10l-23.5-22.5zM1967 917.5l19 12.5l-8 12.5l-19.5-12.5zM1615 441l34-11l3 10l-34 10.5zM1917.5 644.5l42-25.5l7.5 12l-41.5 27zM1764 466.5l45.5-16.5l4.5 9.5l-46 17zM2181 424l17 21.5l0 14l-24-30.5zM2051.5 435l29.5-14l3.5 8.5l-29 15zM1349.5 346.5l25.5-14.5l4.5 9l-25.5 14.5zM1753 493l25.5-10l6 14.5l-25.5 10.5zM1347 790.5l21 15.5l-3.5 6l-22-16zM1763 267l14.5 21l-7 4.5l-13-22zM1890 545.5l17-6.5l5 12.5l-17.5 7zM1691 542.5l32 20l-6 9l-33-18.5zM1771.5 694.5l43-6.5l2 15.5l-43 4.5zM1620 610.5l31 26.5l-10 12l-30.5-26.5zM1717.5 865l23.5 35.5l-7.5 5l-22.5-35.5zM1739 712l29.5-2.5l1.5 10.5l-29.5 2zM1838 895l15-7.5l5.5 7.5l-15 9zM1424.5 597l19.5-13l5.5 6l-20 14.5zM2164 250l18.5 16.5l-9 12l-20-18zM1728.5 517l18.5-1.5l1 8.5l-19 1.5zM1844.5 354.5l32.5-10l2.5 11l-31.5 8.5zM1436.5 813.5l23.5-11l4 6.5l-23.5 12.5zM1986.5 929.5l18 13l-7 12.5l-19-12.5zM2190 365.5l8 11l0 21.5l-19-25.5zM1566.5 546l31.5-25l7 10l-30 24zM1382 258.5l39-21.5l7.5 11l-39 21zM1840 222l20-3.5l26.5 0l0.5 4l-44 8zM1893 893.5l16.5 23.5l-9 4.5l-15-23.5zM1256 625l0-8l34-24l9 11.5l-38 28zM1977 681.5l31.5-6l2.5 10.5l-33 5.5zM1256 240l4-1l2.5 13l-6.5 2zM2090.5 343l12.5 28l-12 4.5l-11.5-28zM2043.5 744.5l29.5 16l-6.5 12.5l-30-15.5zM1863 368l24.5-9l2.5 8l-25.5 8zM1695.5 843l21 35l-11.5 7.5l-21.5-35zM1608 561.5l33-26.5l9.5 12.5l-32.5 25zM2061 548l23.5 41.5l-10 5l-23.5-41zM1725.5 538.5l29.5-3l2 13l-29 3.5zM1999.5 931.5l25-14.5l6.5 10l-24.5 14.5zM1922.5 850.5l20 28.5l-6.5 5l-20.5-30.5zM1845.5 579.5l6 31l-7 1l-6-31zM1929.5 741.5l22 21.5l-9.5 10.5l-22.5-23zM1925 296l33.5 25l-4.5 6.5l-34.5-24zM1488.5 762l19.5-10l6.5 13.5l-17.5 9.5zM1906 269.5l34.5 24l-7.5 10l-34-23.5zM1467.5 940.5l26-11.5l4 10l-25.5 12zM1596 388.5l36.5-24.5l9 12.5l-36.5 24zM1904.5 641l34-21.5l5.5 8.5l-32.5 21zM1317.5 331.5l37.5-22l3.5 6l-37.5 21.5zM1451 692.5l29.5-27l9.5 9.5l-29 27.5zM1569.5 683.5l24.5-23l11.5 10.5l-25.5 23.5zM1627 709.5l19.5 41l-9 4.5l-19.5-40.5zM1468.5 575.5l32.5-9.5l2.5 9l-32 9zM1586 511.5l31-26.5l11 12l-32.5 26.5zM1419.5 348.5l21.5 27.5l-8.5 6l-22-27.5zM1757.5 352l43.5 3.5l-1.5 10.5l-43.5-3.5zM1329 677l36.5-4l1 14l-36 4.5zM1287 682l42-5.5l2 14l-42.5 6zM1385 389.5l44-19l4 8l-42.5 21zM1272 624.5l34-25l9.5 11.5l-36 25zM1464 569l15-10l4 7.5l-14.5 10.5zM1804.5 485.5l39-8l3 13.5l-39.5 8zM1410 662l24.5-16.5l7.5 10.5l-24.5 17zM1484 296l25.5-9.5l4 9.5l-25.5 10zM1966 823l16.5-9.5l5 8.5l-16.5 9zM2123 634.5l31-6.5l2.5 13l-30.5 5zM2066.5 232l23.5-4.5l2 9l-23.5 6zM1809.5 787.5l41-2l-0.5 15l-39 2zM2174 896l17.5 23.5l-7.5 6.5l-19-23zM1775 638.5l28.5-15l8 13l-30 15.5zM2036 758l28 13.5l-5 10l-27.5-15zM1700 409.5l39-11l4.5 11l-41 11zM1617.5 504.5l22-17l6.5 9.5l-20.5 17.5zM1646.5 527.5l47-6.5l1.5 10l-47.5 6.5zM1384 753.5l46.5-19l5 15l-46 18.5zM1955 843l25.5-17l8.5 12.5l-26.5 16.5zM1664.5 514l34.5-5l1 12l-34.5 5zM1492.5 777l43-23.5l6.5 13l-42.5 23.5zM1256 383.5l20 2.5l0 14.5l-20-2zM1624.5 385l31.5-17l4.5 7l-33.5 16zM1675 378.5l22.5-12l4.5 10l-21 12.5zM1421.5 577.5l31-22l4.5 7.5l-31 22.5zM1550.5 371l19.5-13l8 11l-21.5 12.5zM1260.5 544.5l49-10l2.5 15l-48 8zM2091 226.5l41.5-8l3 0l1 8.5l-44 9zM1423.5 383.5l17.5-8l4.5 8l-18 7.5zM1468.5 539.5l25.5-8l3.5 10.5l-24.5 9.5zM1844 820.5l30-6.5l2.5 14l-28.5 7zM2044.5 952.5l34.5-25.5l4 4.5l-34.5 28zM1434 785l20.5-9.5l5.5 11.5l-20 9.5zM1468.5 619l38.5-12l3 10.5l-38.5 12zM1779.5 441l41.5-6l3 13l-42.5 8zM1963.5 903.5l41-27.5l7.5 10l-41.5 27.5zM1681.5 1003.5l27-16l7 12l-7 4zM1345 458.5l15.5-4l1.5 9.5l-15 4.5zM1361.5 778.5l30.5-12.5l5.5 14l-31.5 11zM2136.5 648l44.5-22.5l3 8.5l-45 20.5zM2014 481l9 27.5l-11.5 5l-8.5-27zM1950.5 681l20.5-12.5l8 13l-19.5 12.5zM1578 786.5l25-3.5l0.5 7l-25 3.5zM1652 390.5l24-13l5.5 10l-25.5 13zM1594.5 272l21.5-16.5l8.5 10.5l-22 16zM2142 600.5l26.5-7.5l3 11l-24.5 8.5zM1558 533.5l27.5-22l10.5 12.5l-28.5 21zM2009.5 713.5l44-8l1.5 7l-44.5 7.5zM1256 507.5l0-2l29-6l2 12l-29 6zM1433.5 601l18.5-13.5l8 10.5l-19 13zM2053.5 267.5l40-8.5l3 13.5l-41 9zM1842.5 477.5l19-4l3 14l-18 3zM1717 398l31-19.5l8 11l-31 18.5zM2149 829.5l16.5-6l3 7l-18 6zM1358 826l13.5 28.5l-13 6.5l-14.5-28.5zM2042.5 622.5l12.5 17l-7.5 4l-12-16.5zM2181 721l17-0.5l0 14.5l-16.5 0.5zM1579.5 404.5l27-8.5l4 11l-27.5 9zM1772.5 685l29-3l1 7l-29 3zM1997 275l28 18.5l-4.5 8l-29-19zM1606.5 855.5l15-11l7.5 10.5l-13.5 11zM1734 670.5l49-4l0 9.5l-49 4.5zM2098.5 495l29.5-1l1 10.5l-31 0.5zM1700.5 690l44-6l1.5 13.5l-44.5 4.5zM1486.5 843l14.5 14.5l-7.5 8l-15.5-15zM2166 377.5l30.5 38l-13 9.5l-30-39zM1812.5 473l40.5-9l2.5 10.5l-40 9zM1848 286.5l37-6l2.5 11l-37.5 6.5zM1362.5 700l26-10.5l5.5 13l-26.5 12zM1872 598.5l9.5 44l-14.5 2l-8.5-44zM1936 467.5l28.5-11.5l5 10.5l-30 10.5zM2187.5 889l9.5 11.5l-13 10.5l-9-12zM1958.5 748.5l33 35.5l-12.5 10l-31.5-34.5zM1417 423l44-20.5l3.5 8.5l-43.5 20zM1703.5 592.5l34.5 20.5l-5 7.5l-32-21zM1617.5 966.5l44.5-5l1.5 14l-45 6zM1393.5 332l34.5-20.5l5.5 9.5l-34.5 20.5zM1879 355.5l39-12.5l2 6.5l-38 12.5zM1491.5 541.5l40-11l4 12.5l-39.5 11.5zM2171 453l27-4l0 7.5l-26 3.5zM1511.5 732l17-10l8 13l-17 11zM2026 942.5l21-16l4 7.5l-18.5 15zM2037.5 309.5l9.5 21l-9 4l-9-22zM2181 468.5l17-3l0 7l-16.5 3zM2102.5 673l39.5-7.5l1 10.5l-38.5 7.5zM1314 472.5l28-5.5l2 8.5l-29 4.5zM1947.5 416.5l35-13.5l4 9.5l-35 13.5zM1973.5 519l33 22.5l-6 9l-31.5-23.5zM1291.5 629.5l26.5-2.5l2 9l-27 3zM1256 284.5l20.5-5.5l3.5 16l-24 6zM1806.5 827.5l42-3l1 14l-42.5 1.5zM1951 218.5l9 0l11 27.5l-12 4.5l-10.5-31zM1799.5 935l16.5 24l-10.5 6.5l-16.5-23.5zM1849.5 298.5l47.5-9.5l3 14l-48 7.5zM1800.5 661l35.5-17l6.5 13l-34.5 16.5zM1772 521.5l19 45l-10 5l-19-45zM2083.5 898.5l17-12l4.5 7.5l-16 12.5zM1815 395l26.5-4l1.5 9.5l-26 4.5zM1867.5 419.5l33-4l0 6l-33 6zM1642.5 689l31-12.5l6.5 12l-31.5 13.5zM1414.5 833.5l19 38l-10.5 5l-17.5-38zM1715.5 902.5l27 41.5l-9.5 6l-25.5-42.5zM2013 784.5l41.5 23.5l-7.5 12.5l-41.5-24.5zM2029 539l26.5 19.5l-8.5 13l-26-19zM1556 877l40-28.5l5.5 10.5l-38 28zM1335 410.5l22-1.5l1.5 14.5l-21 2.5zM1516 350l22-13.5l5.5 9l-20 13zM2135 708l19-0.5l1.5 14.5l-19.5 1zM1261.5 642.5l48-6l2 17l-48 5zM2137 693.5l29-1l1.5 14.5l-29.5 0.5zM2103 218.5l23.5 0l0.5 0l-23 5zM1463 820l42-11.5l4.5 13l-42.5 12zM2168.5 593l21.5-8.5l4.5 12l-22 7zM1523 485.5l49-2l0.5 12l-49 2zM1374.5 452.5l31.5-15l3.5 8.5l-30.5 15.5zM1314 441.5l17-3.5l2 10l-16.5 4.5zM1885.5 492.5l39-14.5l3.5 9l-40 13.5zM1874 813.5l20-6l4 15l-20 5zM1546 650.5l34-33.5l9 11l-34 32zM1816.5 880.5l27-13.5l6.5 12.5l-26 15zM1256.5 821.5l16.5-8.5l5 8.5l-15.5 8.5zM1256 425l17.5-3.5l3.5 15.5l-21 4.5zM1729 229.5l8 19l-7.5 4l-9-21zM2040 596l15.5 27.5l-6 2l-16-27zM2072.5 590l13 22.5l-12.5 5.5l-11.5-22zM1572 833.5l31.5-3l3 15l-32.5 4zM1537 574.5l16-5.5l2 8.5l-15.5 4.5zM1814.5 420l45-7l2.5 8l-46.5 7.5zM1256 518l28-6.5l2.5 15.5l-30.5 6zM1590 575.5l21 17.5l-6 6l-19.5-17zM1489.5 835l24 26l-6 5l-24-27zM2046.5 419.5l37.5-6l1 12.5l-35 5.5zM1818.5 382.5l43.5-14l2.5 5.5l-44 15.5zM1524.5 712.5l43-24l5 10l-43.5 23zM1626.5 981.5l24-4l-0.5 9.5l-23.5 2.5zM1528 685l32-30l9 9l-32.5 29.5zM1290.5 656l35-4l1 14.5l-34.5 4zM1697 367.5l22-11l5.5 9l-23 11zM2058.5 391.5l40.5-19.5l2.5 8l-39 18.5zM1845.5 859l36-8l2.5 14l-36 7.5zM1878 842l40.5-10l1.5 10l-40.5 9.5zM2064.5 221l13-2.5l25.5 0l2 5.5l-38 9zM1851.5 430.5l46-8l2 14l-46.5 8zM2047 331l8 15.5l-10.5 4l-7.5-16zM2003 514l5 16.5l-8 1.5l-5.5-15.5zM1733.5 656l47-4.5l1.5 15.5l-47.5 2.5zM1514.5 841l23.5-6.5l1 8.5l-22.5 6zM1382.5 534l21 29.5l-6 4l-21-28.5zM1320.5 607l19-13.5l3 6l-18 13zM1493 517.5l16-6l4.5 11l-16 5.5zM1773 817.5l41-1.5l0 9.5l-41 3zM1628 685l32.5-14.5l4 9l-32 14zM2191.5 692.5l6.5-0.5l0 14.5l-5 0zM1279.5 953l18-11.5l6 8.5l-18 12.5zM1863 673l40-21.5l4 6.5l-40.5 21zM1743 240l17 46.5l-6.5 3l-19.5-46.5zM2100.5 591l43-14.5l3.5 12.5l-42 14zM1384 472.5l15.5-5l2.5 11l-16 3zM1906.5 770l28.5 30l-10.5 10l-28-30.5zM1519 818.5l46.5-12.5l3.5 11l-47.5 13.5zM1289.5 434.5l38-9.5l1.5 12.5l-37 8zM2077 824l15 7.5l-3 6l-15-7zM1613.5 477.5l22-17.5l7 6.5l-24.5 18zM1515 679l31-28.5l9.5 10.5l-30.5 28.5zM1743.5 943.5l18.5-5.5l2.5 11.5l-18 6zM1272 818l37.5 28.5l-10 11.5l-38-28.5zM1487.5 381l30 36.5l-7.5 6l-29-37.5zM1722.5 612.5l23.5 15.5l-3.5 6.5l-24.5-15zM1999 646.5l18 28.5l-6 3l-18-28zM1474.5 291l18 23.5l-7 5.5l-17.5-23.5zM1404.5 563l12 19l-5 4.5l-14-19zM1803 769l43.5-3.5l0.5 9l-43.5 2.5zM2092.5 704.5l21 17l-10 12l-21-16zM2155 706.5l25.5-0.5l1.5 14.5l-27.5 1.5zM1861.5 473l27-5.5l2.5 14l-27 4.5zM1282 756.5l20.5-2.5l2.5 13l-21.5 3zM1856.5 739.5l26.5-14l5.5 10.5l-27 13.5zM1342.5 665l24.5-2l1.5 10.5l-24 2.5zM1270 465l40-9l3.5 17l-41 6.5zM1624.5 587l23 21l-7.5 9.5l-24.5-20zM1859 412.5l34-6l2 9l-33 6zM1498 471.5l41-1.5l0.5 15l-41.5 0.5zM1935 678l18.5-10.5l6.5 9.5l-18.5 10.5zM2108.5 779.5l37 19.5l-7.5 12l-36-18.5zM1936 726l22.5 22.5l-11.5 11l-21.5-24.5zM1505.5 953.5l40.5-8.5l2.5 12l-40 8zM1620.5 531.5l13.5-9.5l9 11.5l-13 9.5zM1388 362.5l27.5-16l3 7.5l-27 16zM1510 550l23-7.5l4 13.5l-23.5 6zM1694 604.5l27.5 16.5l-6 10l-27-17.5zM1420 986.5l27-10.5l2 5.5l-25.5 12.5zM1618 656.5l41.5-16.5l3 8l-41 17.5zM1941 851.5l13-9l8.5 12l-14 9zM1828.5 948.5l12.5 20l-7 4l-12-19.5zM2054 706l16.5-2.5l2 7.5l-18 3zM1739 574.5l10 21.5l-9.5 3.5l-9.5-21.5zM1538.5 865.5l21 23.5l-10 8.5l-23-21.5zM1968 989l4 14.5l-14.5 0l-3-10zM1579 259l27.5-19.5l7.5 9.5l-28 20.5zM1256 988l14-7l4 11l-18 9.5zM1947 898.5l39-27.5l7 13l-38 26zM1722 681.5l31.5-3l-1 6.5l-29.5 3.5zM1310 482l34-6.5l2.5 12l-34.5 6zM1949 812l23.5-16.5l6.5 10l-23.5 16.5zM1972 428.5l31.5-12l6.5 13.5l-32.5 12.5zM1836.5 686l26.5-14l4 7l-26.5 14.5zM2042.5 888l15-12.5l9 12.5l-15 14zM1921 522l28.5-9l3.5 8.5l-28 10.5zM1609.5 888.5l34.5-27l9.5 12.5l-35 27.5zM2084.5 694.5l32-5.5l2 13.5l-31.5 7zM2112 443l20-9.5l5.5 12l-20.5 9.5zM2056.5 324l13 28.5l-11 4.5l-12.5-28.5zM1365.5 487.5l20-5l3 12l-18.5 6zM1377.5 637.5l22.5-8.5l4 9.5l-23 8zM1449 651.5l19.5-13l6 10l-20 13zM1684.5 343.5l34.5-18l4.5 7l-35.5 19.5zM1276.5 231.5l29.5-10l5.5 15.5l-30 9.5zM1815 363.5l29.5-9l4 10l-30 9.5zM2001.5 946.5l39.5-26.5l6.5 8.5l-40 26zM2165 543l33-5l0 12.5l-30.5 5zM1696.5 248l15 36l-10 3l-15-36.5zM1976.5 533.5l39 28l-5.5 9l-39-27.5zM1369 943l23-5l4.5 15l-23.5 5.5zM1710 481.5l22.5-2l3 14l-24 3zM2085 612l19 35.5l-11 6.5l-19-36.5zM1798 582.5l8 18.5l-10 4.5l-8-18.5zM2167 534l31-5.5l0 9.5l-29 5zM1450.5 761.5l27-25l9.5 8.5l-27 26.5zM1817 874.5l17.5-1l0 14.5l-17.5-0.5zM1549.5 777.5l16.5-9.5l7 13.5l-15 9zM1717 448.5l26.5-8l4 12l-27.5 9zM2093.5 452l48.5-3l1 15l-48.5 2zM2048.5 526l20.5 15l-7 10l-20.5-14.5zM2133 508l48-8l1 10l-47 7zM1286.5 732.5l20.5-1.5l1 14l-18.5 1.5zM1442 510.5l32-12.5l4.5 10l-32.5 13.5zM1614.5 805l40-5.5l0.5 7.5l-41 5zM2005 877.5l39.5-27l7 9.5l-40.5 27zM1525 741.5l35.5-19.5l9 13l-36.5 19.5zM1915 701.5l22.5 23.5l-12 11.5l-22-24.5zM2029.5 406l32.5-4.5l2 14.5l-32.5 5.5zM1864.5 912.5l35.5-19l6 11.5l-35.5 19zM1606 239l16.5-12l8 10.5l-17.5 11zM1536 556l22-6.5l2 8.5l-21 5.5zM1372.5 658l33.5-13l5 12.5l-33.5 13zM1836 493l24-6l3 14.5l-25 5zM1831.5 853l45.5-11.5l2 11l-46 9.5zM1379 220.5l17-2l17.5 0l2 12l-35 5.5zM1836 723.5l35-18.5l7 13.5l-34.5 19zM1969 445.5l26.5-11.5l3.5 9l-28 9.5zM1465.5 835.5l33.5 35.5l-12 11l-33.5-35.5zM1925.5 477.5l21-7.5l3 9l-22 7.5zM1546.5 460.5l20-2.5l0.5 10l-20.5 1.5zM1514.5 927l33.5-6l3.5 10l-34.5 7zM1778.5 604l18 38.5l-10 4.5l-16-39zM1320.5 428l36-3l2 12l-36.5 4.5zM1859.5 487l42-9.5l4 14.5l-42 10zM1804 528l8.5 18.5l-12.5 4l-7.5-18.5zM1716.5 849l28 40.5l-8.5 5l-26-42.5zM2086 795.5l16.5 9l-7.5 13.5l-15-8.5zM2074 978l41 16l-4 7l-41-16zM1899 521l29.5-10l3 7.5l-28.5 11zM1537.5 835l24.5-7.5l2 8l-23.5 7.5zM1375.5 332l26.5-14.5l3.5 8l-25.5 14zM2019 758l49-7.5l1.5 9l-48.5 7.5zM2114.5 681.5l19-4l2 8l-19.5 3.5zM1956 521.5l37-14.5l6 12l-38 14zM1750.5 805l39.5-2.5l1.5 14l-41 3zM1792.5 690.5l34-3.5l0.5 13l-33.5 2zM1870.5 483.5l38.5-13.5l3.5 12l-37 14zM2045 493.5l8 29.5l-11.5 4.5l-9.5-30zM1355 529l43.5-11l3 8l-42.5 11.5zM1422 530l32-11.5l4.5 11.5l-32 12.5zM1949.5 513l44.5-16.5l3 10l-43.5 15.5zM2088.5 466.5l40.5-2.5l-0.5 9.5l-38.5 2.5zM2155.5 664l37-18.5l5.5 11.5l-36.5 18.5zM1769 388l31.5 3l-0.5 7.5l-31-3.5zM1377.5 780.5l22 44.5l-14 7l-21-44.5zM1849 767l14.5-6.5l7.5 13l-14.5 7.5zM1735.5 783.5l29.5-3l2 10l-30 3.5zM1372 630.5l35-13.5l2 7.5l-34.5 14zM1650 489l25.5-3l1.5 15l-25.5 4zM1816 584.5l10.5 46l-9.5 1.5l-10-45.5zM1283.5 499l33.5-6l2.5 12l-33.5 7zM2068.5 488.5l34.5-2l1 9.5l-33.5 2zM1467 387.5l17.5 21.5l-11.5 8l-16-22.5zM1378.5 1003.5l-0.5-2.5l43-12.5l4.5 14.5l-2 0.5zM2009 262l11-11l11.5 10l-12 11.5zM2053.5 954.5l37-28.5l3.5 5.5l-36 29zM1694.5 887l15 25.5l-12.5 6.5l-15-23zM1289 446.5l24.5-5.5l3 11l-24.5 5.5zM1937 458l31.5-12l4 7l-33 13zM1732.5 852.5l22.5 34.5l-9.5 6l-21-34zM1387 529.5l27-7.5l2 11.5l-25 6.5zM1506.5 607l26.5-7.5l3 9.5l-26.5 9zM2015.5 561l25.5 18l-6 8l-26-17.5zM1649.5 978.5l42-7l2 8.5l-42.5 5.5zM2162.5 269.5l23 19l-7.5 8.5l-24-19zM2078.5 564l13 21.5l-8 4.5l-11.5-21.5zM1387.5 306l25-13.5l7.5 12.5l-23.5 14.5zM1796 758l22.5 0l1 8.5l-24 2zM2054.5 486.5l12.5 43.5l-10 4l-14-44.5zM2016 394l18-2l2.5 14l-18 2.5zM1648.5 814l51-5l0 15.5l-49 3.5zM1342 693.5l33.5-12.5l3.5 12.5l-33.5 12zM1984.5 247l12.5 30.5l-13.5 5l-10.5-30.5zM1294.5 417.5l44.5-10.5l4 14.5l-46.5 10.5zM1757.5 223l9.5-4.5l31 0l-33.5 16.5zM2158.5 431.5l24.5 31l-8.5 7l-24-32.5zM1854 634.5l22.5-11.5l5.5 12.5l-21.5 12zM1696 432l35-10.5l2.5 7.5l-36 11zM1799.5 501l36.5-8l2 15l-36.5 8zM1325 795l16.5 13l-9 11.5l-15.5-13zM1772.5 769l31-0.5l0 8.5l-29.5 1.5zM2096.5 728.5l35.5 27.5l-9 9.5l-33.5-27zM1964.5 456l32.5-14l4 10l-32.5 14zM1731 434l32-20.5l5.5 10l-31.5 20zM1930 846.5l35.5-24l6 8.5l-36.5 24.5zM1649 549.5l30.5 19.5l-4.5 6l-29.5-19zM2049 531.5l39-1.5l-0.5 13.5l-38.5 2.5zM1290.5 592.5l18-14l10 13.5l-19 12.5zM2180 373l12.5 17l-10.5 9.5l-12-17.5zM2130 618l18.5-7.5l3 10l-19.5 5.5zM2057 508.5l42.5-3l1 14l-43.5 2.5zM1815.5 533.5l42.5-9l3 13.5l-42.5 9zM1293 900.5l30-21.5l5 7l-31 21zM1613 636l25.5-14l3.5 8.5l-25 14.5zM2122.5 680.5l32-16.5l6 12l-32.5 16.5zM2018.5 265l18.5 44l-8.5 3.5l-19.5-43.5zM1699.5 787l35.5-4l1 11l-35.5 3zM1307.5 600l24.5-19l8.5 11l-26 18zM1442 817.5l8.5 19.5l-8 3.5l-9.5-19zM1846 230l35-6l2 8.5l-36.5 5.5zM2181.5 706l16.5-0.5l0 15l-17 0zM1435 296.5l30-18l7.5 13l-31 19zM2061.5 365l30.5-5l0.5 9.5l-29.5 5.5zM1455 738.5l32.5-31.5l9.5 10.5l-31.5 30.5zM2015 373l46-8l1.5 9.5l-46 7.5zM1821.5 716.5l35-18.5l5.5 11l-34 18.5zM1305.5 1003.5l26.5-13.5l7 13l-1.5 0.5zM1347.5 321.5l31.5-17.5l3 6l-32 18.5zM1752 874l24 0.5l0 12.5l-24.5 0.5zM1732 219.5l2-1l32.5 0l-27.5 15zM1750 230.5l8.5 19.5l-11.5 4l-7.5-19.5zM1713 657.5l21.5-1l1 14.5l-21.5 1zM1642.5 825.5l43-7l3 16l-45 5.5zM1967 720.5l42.5-7l1.5 7.5l-42.5 7.5zM1441.5 868l14 9.5l-9.5 12.5l-12.5-10zM1919.5 416.5l40-15.5l4 9l-39 16.5zM1847 913l24-11.5l2.5 5.5l-23.5 13.5zM1406 411.5l41-19l5 13l-40 19zM1996 387l16-3l2.5 10l-16.5 4.5zM1963.5 815.5l16-9.5l4 6.5l-16 9.5zM1304.5 779l21 16.5l-8.5 10.5l-20.5-16zM1398 517.5l34.5-9l1.5 8l-34 10zM1542 632.5l22.5-21l9.5 12l-23 20zM1812.5 545.5l14 34l-10.5 6l-15-34.5zM1922 816l37.5-23.5l4.5 9l-37 24.5zM1757.5 250.5l12 29.5l-10 3.5l-12-29zM2110 548.5l43-12.5l3 11l-41.5 13.5zM1321 499l45.5-11l3 12l-45.5 12zM1502.5 452l45.5-2.5l-0.5 10.5l-45.5 1.5zM1659 707.5l38-17l5.5 11.5l-38.5 16zM2158.5 851.5l28.5 37.5l-13 9l-27-37zM1696.5 346l21-10l3 7.5l-20.5 10zM1478.5 680.5l22-19l5 6.5l-21 18.5zM1468.5 762.5l33.5-31l8 9l-33 32.5zM1617 485.5l33-26.5l10.5 12.5l-33 26.5zM1278 777l38 29l-8.5 12.5l-39.5-29.5zM2155 754.5l43-2l0 16.5l-43 1zM1804.5 862l21 1.5l1 10l-23 0zM1813 385.5l38.5-6.5l2 10.5l-40.5 5zM1892.5 825l22.5-6l3 13.5l-22.5 6zM1306 991.5l36.5-19l4 10.5l-35 17zM1395.5 687l18-7l4.5 11l-18 7.5zM1626.5 893.5l22.5-16l9 12l-22.5 17zM2132.5 689l18-8l3.5 6.5l-17 8.5zM1358 716.5l35.5-13l5 11.5l-35 14.5zM1732 724l40-5l1 15.5l-38 5zM2078 369l35-16.5l6 10.5l-36 16.5zM1689 456l27-9l3.5 14l-25.5 8zM1957.5 695l34.5-21.5l4.5 7.5l-36.5 21.5zM1361.5 805.5l16 34l-11 5.5l-15.5-34zM1908 454l46-17l4.5 12.5l-44 18zM2072 302.5l8 14.5l-12.5 5l-6.5-14.5zM1420.5 766l15.5-9l7 13l-15.5 8zM1388.5 593.5l13 17l-14 9.5l-11-16.5zM1365.5 618.5l38-14l3 12l-36.5 13.5zM1317.5 765.5l41.5-5.5l1.5 14.5l-41.5 6zM1411 334.5l29.5-18l7 11.5l-30 16.5zM2134.5 564l39-12l4 13l-37.5 13zM1563 773.5l20.5-3l-0.5 8.5l-19.5 2.5zM1397.5 851l30.5 33l-6 5l-31-32.5zM1852 330.5l38.5-12.5l2 6l-37.5 13.5zM2084.5 782l40.5 23l-4.5 9l-42-22.5zM1917 747.5l26 28l-5 4l-26.5-28zM2030.5 962l27 9l-3 7l-26-10.5zM1375.5 680.5l22-8l5 12l-23 7.5zM1496 740.5l16.5-8.5l6.5 12l-14.5 9zM1959.5 400.5l31-13.5l4.5 11l-32.5 13zM1562 618.5l31-16l6.5 14.5l-29.5 15.5zM1642.5 348l16.5-8.5l8.5 13l-18 9zM2193.5 390.5l4.5 6l0 22.5l-16-19.5zM1573.5 570.5l18.5 16.5l-9.5 12l-19-16zM1338.5 523.5l10 14l-13 8l-9-13.5zM1799.5 678.5l30-14.5l2.5 5.5l-29.5 15.5z"/>
<path fill="#99e600" d="M1741 900.5l19.5 32.5l-6.5 3.5l-20-31.5zM1393.5 294l22.5-11.5l4 6.5l-21.5 12zM2046 590l12 22l-6.5 3.5l-12.5-20.5zM1761 526.5l43-15l4.5 14.5l-42 15zM2004 447.5l10 34.5l-12 3.5l-11-35.5zM1257.5 252.5l22-5.5l3.5 14.5l-23 5.5zM1663.5 503l30.5-3.5l1.5 11l-30 3zM1902 794l20.5-13l6.5 12.5l-20 12.5zM2019 455l9.5 31.5l-11.5 2.5l-10-31zM2004.5 746.5l38-5l2 12.5l-39 7.5zM1618.5 403.5l25.5-8l3 10l-25 9zM1674 835.5l40.5-4l0.5 8.5l-40 3zM1360 454l16.5-4.5l3 10.5l-16.5 5zM2164 490l34-5l0 13l-30.5 5zM2086 305l13 31l-10.5 4.5l-12-30.5zM1849.5 662l17.5-9.5l7.5 12.5l-19.5 10zM1988 554.5l19.5 15l-4.5 6.5l-20.5-14zM1774.5 906l40-0.5l1 14l-41 1.5zM1983.5 815l30 18.5l-8 12.5l-30.5-17zM1668 724l7.5 15.5l-9 3l-6-14.5zM2088 906.5l17.5-12l5.5 6.5l-16.5 13.5zM1958.5 269l40.5 27l-6.5 7.5l-39.5-26zM1256 684.5l7-2l2.5 15l-9.5 2zM1611.5 1003.5l-2.5-11.5l34-4l0.5 11l-28.5 4.5zM2165.5 419l14 18l-9.5 7.5l-14-17zM1532 429.5l26.5-26.5l9.5 10.5l-26 26zM1256.5 653l23-3.5l1.5 13l-22.5 2.5zM1277 749l21-3l1 9l-22 3.5zM2112 363.5l17-3.5l3 11.5l-16 4.5zM2035 508l5.5 16l-10.5 3.5l-6.5-17zM1497.5 643.5l13-11l10.5 10l-12.5 11zM1531 452l31-32.5l10.5 8l-32 33.5zM1256 492.5l13-2.5l2.5 11.5l-15.5 3zM1876 505.5l39.5-14l3 10.5l-37.5 13.5zM1426.5 754l30-28l5.5 5l-31 29zM1269 490.5l41-9l2.5 12.5l-41 8.5zM1607.5 936l33.5-24.5l8 10.5l-33.5 24.5zM1567 459.5l22-2l0 10.5l-22.5 0zM1762.5 414.5l24-15l7 9.5l-25 15zM1574.5 399l39-13.5l2 8.5l-37 12zM1430 777l30-16l4.5 9.5l-29.5 14.5zM2072 760l36 19l-5.5 14l-36-19.5zM1501.5 461l26 0l0 9.5l-24 1.5zM1940.5 293l37 26.5l-6 8.5l-38.5-25zM2090.5 355l21-5.5l3.5 14l-21 5.5zM2001.5 278.5l30.5 30l-7.5 9l-32.5-30.5zM1860 247.5l45-7.5l2.5 15.5l-45 7.5zM2149.5 611l29-9.5l3.5 8.5l-31 10.5zM2039 433l16-2l2.5 7.5l-18 2.5zM1379 304.5l15.5-10l3.5 6l-15 9zM1361.5 745l31-11.5l6 14.5l-31 12.5zM1562 608l23.5-12.5l4.5 8l-23 12zM2004.5 315.5l29.5 27.5l-10 12l-30.5-29zM1886 863.5l19 29l-9 5l-18.5-29.5zM1500.5 567l36-11.5l2.5 9l-35.5 11zM1361.5 449.5l32.5-16l4 9l-32.5 15zM1478.5 382.5l17 23.5l-9.5 7l-17.5-22.5zM1694 984l14.5-9l5.5 9l-15 9zM2158 768.5l40 0.5l0 12.5l-38 2zM1329.5 262.5l28-16.5l5.5 10.5l-28.5 15.5zM1404.5 869.5l28.5 31.5l-8 9l-30-32zM1360.5 553.5l19 26.5l-12.5 9l-19.5-26.5zM1305.5 222.5l13.5-4l33 0l1.5 5l-43.5 13zM1577 778.5l15.5-2l1 8l-15.5 2.5zM2075.5 282l11 24l-10.5 4.5l-10.5-24zM1500 520.5l23.5-1l1.5 14.5l-24 0.5zM2123 319l21-5l4.5 15l-22 5.5zM1398 797l17 36l-10.5 5.5l-17-38zM1913.5 691.5l23-13l4 8.5l-22.5 13.5zM1801 356.5l17.5 1.5l-1 10l-17.5-1zM1684.5 551.5l16.5 11l-9 14l-17-11.5zM1312.5 300.5l43-24.5l8 14l-43 24.5zM1895 591l38-19l2.5 8l-37.5 17zM1815 218.5l9 13l-9 7l-13.5-20zM2035 390.5l19.5-2.5l2.5 14l-20.5 3.5zM1642 438l38.5-10.5l3 8l-39 11.5zM1339.5 594l22-16.5l3.5 6l-21 16zM1734.5 698.5l36.5-4.5l1.5 15l-37 4zM2152.5 800l24.5-9.5l4 12l-23.5 7.5zM2018.5 444.5l32.5-6l3 12.5l-33 5zM1470.5 650.5l23.5-15l5.5 8.5l-23.5 14.5zM2104 663l38.5-7l1.5 9l-38 8zM1803 379l43-14l1.5 7.5l-41.5 14zM1508.5 453.5l23.5-24l10 9.5l-24 24zM1433.5 444l30.5-14l4 11l-29.5 14zM2091 585.5l23.5 43l-7.5 4l-23.5-42.5zM2014.5 618.5l20.5 34.5l-9 6l-22-34.5zM1841.5 595l7.5 41.5l-9 2l-8.5-41zM2128 836.5l20.5-7.5l2 7l-19.5 7zM2011.5 588.5l16.5 25.5l-11.5 8l-16-26zM2069.5 242.5l21.5-5.5l2.5 10l-22 6zM2111 350l36-10l4.5 14l-37.5 10zM1386 551l25 37l-8 4.5l-24.5-34.5zM1894.5 808l17.5-3.5l3 15l-17 4zM2159.5 513.5l37-6l1.5 13.5l-35.5 6.5zM1678.5 888.5l23 35.5l-9 5.5l-23.5-36zM1474 488l37-14.5l4.5 9l-37 13.5zM1574 700.5l26.5-26.5l10 11.5l-27 25.5zM1463 792l47-12l3 10.5l-48 13zM1291 720l31-5.5l2 14l-30.5 4.5zM1968 740l46.5-8l2 13.5l-47 7.5zM2087.5 960.5l42 17l-3.5 8l-41-16zM1292.5 268l34.5-9.5l2.5 8.5l-33 10zM2057.5 877l35-26.5l9 12l-34 26.5zM1904 745l22 23.5l-6 6.5l-21.5-24.5zM1907.5 1003.5l-1.5-7.5l20.5-4.5l3.5 12zM1697 422l17-4l2.5 8l-16.5 4zM1553 744.5l39-22.5l7.5 13l-39 21zM2077.5 656.5l29.5-6.5l1.5 13l-27.5 4.5zM1463.5 784.5l35-31.5l7 9l-35 31.5zM1605.5 280l23-16.5l9 11.5l-23.5 16zM1256 301l26.5-7.5l3.5 16l-30 6.5zM1786 897.5l32.5 0l0 7.5l-31 1zM1301 571.5l20-15.5l6.5 9.5l-20 15zM1661 862l16.5 26.5l-8 5.5l-17-26.5zM1527 460.5l20-1.5l0 11l-20 1zM1798 526.5l44-11l2 11.5l-45 11zM1365.5 464.5l28-7.5l3 11l-28 8zM1327 692l49-6.5l1.5 9.5l-49.5 7zM1599 684.5l24-11.5l5.5 11.5l-23.5 11.5zM1744.5 626l26.5-2.5l0.5 16l-24.5 3zM1973.5 752.5l30.5-6l2.5 14l-31 5.5zM1303 523.5l30-6l2.5 11l-30 6zM1500.5 334l23.5-16.5l4.5 6l-24.5 16.5zM1744 889l23.5 38l-8 3.5l-22.5-36zM1680.5 427.5l17-5.5l1.5 7.5l-16.5 6zM1790.5 270l9.5 16l-8 5l-9-16.5zM1879 865l26.5-5l3.5 11.5l-26.5 7.5zM1925.5 619.5l15.5-11l3.5 8l-14.5 8.5zM2146 747.5l38 30.5l-10.5 10.5l-36-29zM1367.5 218.5l23 0l0.5 0.5l-23 2.5zM1443.5 583l19.5-13.5l5 6.5l-19.5 14.5zM1386.5 496.5l43.5-12l1.5 9l-43 12zM1455.5 325l15 19.5l-7.5 5.5l-15-20.5zM1808 684l41.5-21.5l6.5 12.5l-41 22zM1956.5 594l28.5-12.5l4.5 8.5l-28 13zM1924.5 256l9.5 25l-15.5 5l-8-24.5zM1665.5 912l19 29.5l-9.5 7.5l-20-30.5zM1390 643.5l34.5-12.5l2 7.5l-33.5 12zM1721.5 808.5l31.5-4l1 15l-33 3.5zM1859.5 605l8 40l-8.5 2l-9-41zM2045 876l31-23l4.5 7l-30 23zM1557.5 926.5l25-19.5l9 12.5l-24 18.5zM1256 352l8-5l8 10.5l-16 10.5zM1828 218.5l5.5 7.5l-9 7l-9.5-14.5zM1846 505.5l32-7.5l1 10.5l-31 6.5zM1273 265l25-8l2.5 9.5l-24.5 8.5zM1994 457l6.5 24.5l-7.5 2.5l-7-23.5zM2184 335l14 19l0 22l-25-33zM1483.5 599l28.5-7.5l5 13.5l-28 9zM1858.5 968.5l21.5 34.5l-0.5 0.5l-17 0l-17.5-27.5zM2022 923l34-25.5l6 7l-35 27zM1560.5 219.5l3-1l19 0l-19.5 8.5zM2160.5 545.5l18.5-7l3.5 9l-20 7.5zM1987.5 980.5l5 17.5l-10 3l-4.5-16.5zM1431.5 676l38.5-26l6 9l-37.5 25.5zM1559 967.5l30.5-6.5l3 11.5l-31 7.5zM1885.5 550.5l9.5 43l-15.5 2.5l-8.5-41.5zM1501.5 372.5l19.5-11.5l5 9l-19.5 12zM2169.5 746l28.5-2l0 9.5l-29.5 0zM1589 329.5l15-9.5l7.5 11l-14.5 9zM1386 483l30.5-9l2 13.5l-29 8zM1957 278.5l25.5 18.5l-5.5 8l-26-17.5zM1683.5 687.5l18.5-9l3 8.5l-18.5 7.5zM1717.5 1003.5l-1.5-3.5l41-25.5l6 10l-31.5 19zM1270 722.5l21.5-3.5l1.5 13l-21 3zM2110 963.5l26.5-2.5l2.5 10.5l-27.5 2.5zM1402 281l34-19.5l4.5 5.5l-33.5 21zM1891.5 660l27-15.5l6.5 13l-25.5 16zM1408.5 787l21-10l5 8.5l-22.5 12zM1419 794.5l16.5-8l4.5 10.5l-16.5 8.5zM1684.5 580.5l19.5 13l-4.5 6l-19.5-12zM1787 373.5l33 4l-1.5 15l-31.5-2.5zM1384 667l24.5-8.5l3 8.5l-23 10zM2138 914l28.5 36l-13 9.5l-26.5-35.5zM1596 262.5l21.5-16l5 5l-21.5 16.5zM1776.5 887.5l37 0l0 10l-36 0zM1589.5 761l38-5l0.5 7.5l-38.5 6zM1672 706.5l10 21.5l-11 4l-8.5-21zM1684 241.5l17.5 42.5l-8 4l-16.5-44zM1655 443.5l41-13l3 8l-41.5 12.5zM1545.5 507l35.5-3l1 12l-37 2.5zM1648.5 567l34.5 21.5l-4 6.5l-36-22zM1848 803l28.5-6.5l4 14.5l-29.5 7zM2023.5 917l18-12l6.5 10l-17.5 12zM2158.5 784l26-10l4 13.5l-27 9.5zM1497 837.5l27-7.5l2 7.5l-26.5 7zM1877 344l21.5-6.5l3.5 10l-22.5 8zM2032 926.5l25-18l5 6l-25 19zM1928 510.5l44-15.5l4 7.5l-45 16zM1583.5 480.5l33-25.5l4.5 6.5l-33 26.5zM1462.5 430l15-6.5l5.5 10l-14.5 8zM1867 542l37.5-14l4.5 10.5l-38.5 14.5zM1505 900.5l22 23l-5.5 7l-23-24.5zM1660 827l45.5-2.5l1 8.5l-44.5 4zM1589 940.5l19-14.5l5.5 7l-19.5 13zM1997 960l6.5 22.5l-14 5.5l-8-24zM1306.5 289l39-23l6 11.5l-39 22zM1537.5 605l43-22.5l6.5 13.5l-44 21.5zM1674 675.5l16-7.5l6.5 13l-17.5 7.5zM2151.5 400l15 19l-11 9l-14.5-20zM1457.5 706.5l33-29.5l9 9l-33.5 31.5zM2164 324.5l26-7l1.5 10.5l-24.5 7.5zM1900 376l39.5-16l3 7.5l-39 17.5zM1907 683l17.5-11.5l5.5 9l-17.5 12zM1291.5 559.5l32-23.5l9 12.5l-31.5 23zM1452 588.5l22.5-16l7.5 9.5l-23 16.5zM2006.5 899l30-20l7 11l-29.5 20zM1585.5 924.5l22.5-15.5l9 10.5l-24 17.5zM1788 707.5l35-4l0.5 9l-33.5 5zM1622.5 227.5l11-9l13 0l2.5 3l-19.5 15zM1348.5 537l12.5 17l-13 8.5l-12-16.5zM2096 519l31.5-2l1 9.5l-30.5 2zM1517 875.5l14.5 16l-7.5 7l-14.5-15.5zM1383 412.5l34.5-17l4.5 8.5l-36 16.5zM1406 392.5l17-9l4 8l-17.5 9zM1899 465.5l27-9.5l2 6.5l-27 10zM1310 871.5l36-24.5l8 10.5l-36.5 26zM1256 597l31-4.5l2 7l-33 5.5zM1954.5 667.5l37.5-23.5l5 9l-38 24zM1733.5 979.5l22.5-7l4 13.5l-22.5 7.5zM1496.5 621l41-12.5l3.5 10l-42 11zM1836.5 741l30-15l4 6.5l-30 15zM1528 721.5l18.5-10l7 14.5l-17 10zM1942 647l33.5-22l8 12l-35.5 21zM1967 358l30.5 28l-10 10.5l-29.5-28.5zM1893 559l23.5-10l3 7.5l-23 10zM1256 552.5l20-3l2.5 14.5l-22.5 3.5zM2107.5 409.5l18.5-9l4.5 8.5l-19.5 9.5zM1256 342.5l16-9l4.5 7l-20.5 11.5zM1308.5 636.5l46-5l1.5 16l-45.5 5.5zM1832.5 252l28-4l3 15.5l-27.5 4.5zM2183.5 266.5l14.5 13.5l0 18.5l-25-21.5zM1602 476l23-17.5l4.5 5.5l-22 18.5zM1306.5 730l18.5-2l3 13.5l-19.5 2.5zM1580.5 494l22-16.5l4.5 5.5l-21.5 16zM1706 824l16.5-1l0.5 9.5l-17.5 0.5zM1396.5 538l36-10l3.5 10l-37.5 9zM1770 502.5l40.5-14l3.5 8l-40.5 15.5zM1538.5 470l45-2.5l1 14.5l-45 3zM1895 582.5l31.5-15l2 7l-30 14.5zM2172.5 460.5l25.5-4l0 9l-23.5 4.5zM1523.5 569l47.5-14.5l3 9l-48 13.5zM1327.5 1003.5l-1-3l44.5-11.5l2 12l-10 2.5zM1691 864.5l23.5 38l-7 4.5l-25-37zM1853.5 887l34.5-18l4.5 8.5l-35 19zM1517 235l35.5-13l3.5 11l-35 13.5zM1878 528l21.5-6.5l3.5 7.5l-22 8zM2127 710.5l14.5 11.5l-4.5 6l-15-12zM1890.5 650l15.5-10.5l5 9l-15.5 10.5zM1272 557l37.5-26.5l7.5 11l-37 25.5zM1626.5 673l41.5-17l3.5 10l-40.5 17zM1687 627l36 22.5l-5.5 8.5l-35.5-21.5zM1304 755l22.5-4.5l2.5 14l-24 3.5zM1282 294l38.5-10l4 14l-39.5 10zM1904.5 528.5l17-5.5l4 10l-17.5 6zM1831 806.5l17-3l2 15l-15 3zM1583 469.5l14-15.5l5.5 5l-14 14.5zM1381 279.5l41-24l7 10l-41.5 25zM1960 576.5l16.5-7l6 12l-16.5 8.5zM1779 483l36.5-13.5l6.5 14l-38 13.5zM1647 680l22 44l-8.5 3.5l-21.5-44zM2007 568.5l24 17.5l-5 7l-23.5-16.5zM1362 700l34-14l5 11.5l-34 13zM1843 218.5l11 17l-10.5 7l-16.5-24zM1327.5 441l50-5l2 14l-49.5 7zM1433.5 645l42.5-26l7 11l-41.5 26zM1297.5 623l23-15.5l4 5.5l-22 15.5zM1373 359l49.5-5.5l0.5 8l-48.5 4.5zM1716 218.5l9.5 23.5l-12.5 5.5l-11-29zM1662 420l17-5l2 12.5l-17 3.5zM1698.5 796.5l43-4l1.5 14l-45 3zM1782.5 863l21 0l1.5 11l-23 0.5zM1271 916.5l21.5-15l4.5 5.5l-23.5 16zM1675 771.5l23-0.5l0.5 15l-23.5 2.5zM1449 497l26-10.5l3 9.5l-24.5 10.5zM1841 391.5l29.5-5.5l0.5 11l-27.5 3.5zM2180 500.5l18-3l0 9.5l-15.5 3zM1803 431l47-8.5l2 8l-47 8zM1609.5 798l37.5-4l0 7.5l-36.5 3.5zM1524 519l48-2l1 14.5l-48.5 2.5zM1310 273.5l30-11l3.5 13l-29.5 10zM2092 831.5l16 9.5l-2.5 6l-17.5-9zM2057.5 907.5l25-18l5.5 7l-25.5 17.5zM1932 877.5l17 26l-13.5 9.5l-16.5-27zM1462.5 596l22-16l7.5 11l-23 15.5zM1359.5 478l23-6l3.5 9.5l-24 7zM1925 672.5l27.5-16.5l6 8.5l-28 16.5zM1894 608l24.5-11l6.5 13l-23.5 11zM1980 781l26.5 16.5l-7 12l-26-15.5zM1442.5 355l24.5 32.5l-10 7l-26-30.5zM1762 937.5l17.5-5l4 12.5l-18.5 4.5zM1391 623.5l42-27l5.5 11.5l-40.5 26.5zM1426.5 282.5l26.5-15.5l4 7.5l-27 14.5zM1640.5 585l39.5 24.5l-6 10.5l-40-25.5zM1857.5 895.5l33.5-18l5 9.5l-34 19zM1597 521.5l21.5-16l7.5 8l-21.5 17zM1500 343l24.5-17.5l8.5 14l-25 16zM1855.5 946l12.5 19l-8.5 5.5l-13-19zM1847.5 339.5l39.5-12.5l5 13l-40.5 12zM2087.5 758.5l25.5 13.5l-3.5 7.5l-26.5-14zM1726.5 218.5l6.5 0l9.5 23l-8 3l-10-25.5zM1302 669.5l42-4.5l1 11l-42 4.5zM1343.5 356l48-6.5l0 8l-47 4.5zM1738.5 1003.5l-4.5-8.5l47.5-16.5l3.5 11l-45.5 14zM1945.5 922l36.5 23l-9 14l-37-24zM1303 240.5l21-8.5l5 16l-22 7zM1256 313l10-5l7.5 11.5l-17.5 9zM2074 968l16-13l5 5.5l-16.5 12zM1472 802l26-8l4.5 14.5l-27.5 8zM1675 487l34-5l3 15l-36 3.5zM1318 626l34.5-3.5l1.5 9.5l-33.5 3.5zM1478.5 469l15.5-7l2.5 7.5l-15.5 6.5zM1722.5 687.5l7 23l-11.5 3.5l-8-21zM2166 843.5l21.5-8.5l5 14l-21.5 7.5zM1709 841l19.5-1l2 14.5l-21 2zM1690.5 668.5l33.5-14.5l5 13l-33.5 15zM1761.5 828.5l24-1l1 13.5l-24.5 1.5zM1871.5 705l37-20l7.5 15l-37 19.5zM1270.5 250l31.5-10.5l5 14l-32 11.5zM1942 857l20.5 31l-11.5 5l-20-30zM1473 790l31-27.5l6.5 6.5l-31 28.5zM1296 374.5l19.5-12.5l8 13l-18.5 12zM1767.5 427.5l47.5-8l0.5 9l-46.5 8zM1669 981.5l14.5-9l8 12.5l-15.5 10zM1913 835.5l36-23.5l5 10l-35 21.5zM2185 289l13 11l0 1l-6.5 8l-14-12zM1434.5 727l22.5-20.5l8.5 10.5l-20.5 19.5zM1915 725.5l16 15l-10.5 9.5l-15.5-15zM1401 316l42-25l6 9l-42.5 25zM1755.5 518.5l33-12l2.5 9l-32.5 13zM1510.5 1003.5l-1-1.5l29.5-19l6 11l-13.5 9.5zM1570.5 358l34.5-24l7.5 11.5l-35.5 24zM1428.5 460.5l19-9l5.5 12.5l-19.5 9zM1807.5 639.5l26-14.5l3.5 9l-25.5 13.5zM1836 643.5l19-10l6 13.5l-20 10.5zM1880.5 417.5l19-8l5 13l-19.5 7.5zM1279 409l45.5-10.5l1.5 12l-44.5 9.5zM1723.5 470l42.5-16l4.5 11l-43.5 16zM1460 811.5l22-11l5 11.5l-22 11zM1946.5 782l17-11.5l7.5 14.5l-16.5 10.5zM1969.5 692.5l34-4l1 11l-33 7zM1392.5 733l21.5-8l6 14l-22 9.5zM1399.5 632l39-24.5l8 11.5l-39 25.5zM1993 702l46.5-7.5l1.5 13.5l-46 8zM1842 516l21.5-3.5l1.5 10.5l-21 4.5zM1573 448.5l15.5-16l10.5 10l-17 16zM2160.5 310l32.5-8.5l3.5 14.5l-31.5 8.5zM1398.5 672.5l37-14l3 12.5l-37 13.5zM1496 405.5l18.5 23.5l-9 7.5l-19-24.5zM1328.5 742.5l43.5-7l2 10l-44 5zM1394 244l24.5-3l1.5 11.5l-23 3.5zM1321 556l17.5-11l5.5 9l-15.5 11zM1736.5 820l36-2.5l0.5 10.5l-36.5 2zM2170.5 361.5l9 12l-10.5 8l-9-13.5zM1698 809.5l22.5-2l1 15.5l-21 2zM1766.5 251l14 21l-9.5 6.5l-14-21zM1701 236l7 19l-7 3l-7.5-17.5zM2127 645.5l25-3l2 11.5l-23 4zM1546 705.5l23.5-22l11 10.5l-24.5 24zM2105.5 296l8.5 17.5l-8.5 3l-6.5-17.5zM1284 512.5l49.5-9l3 12l-50 11.5zM1753 678l20-0.5l1.5 7l-21 1.5zM1861.5 647l42.5-22.5l3.5 7.5l-42.5 21.5zM1506 831l31.5 34l-11 10l-31.5-33.5zM1591.5 587l28.5 24.5l-11 11l-26-24zM2099.5 505.5l23.5-1l0.5 13l-23 2.5zM1866.5 218.5l2.5 2.5l-10 7.5l-9-10zM2010 438.5l29.5-5.5l0.5 8l-30 5zM2150 357.5l16 19.5l-12.5 10l-16-19.5zM1536 694.5l31.5-28.5l10 10l-30.5 29zM1456 878l29 21l-8.5 12l-30-20.5zM1550.5 496l22.5 0l-0.5 8.5l-20.5 0.5zM1867.5 374.5l35-12l3 14.5l-34 11zM1260.5 315.5l33.5-10l2.5 7l-35 8.5zM1257 730l32.5-8.5l3.5 13l-33.5 6.5zM1945 392l35.5-15l5 12l-34.5 14zM1748 596l14 31.5l-9 3.5l-14-31zM1463 459.5l45.5-21.5l4.5 12l-44 19.5zM1868.5 448.5l40.5-17l2.5 10l-39 16.5zM1988.5 630.5l10 15.5l-5.5 4.5l-10.5-16.5zM1354 356l40-24l5.5 9.5l-40.5 24zM1311.5 771.5l13 11l-6 8.5l-13.5-11zM1495.5 825l23.5-6l3.5 11.5l-23.5 6zM1783.5 341l33 3.5l-1 14l-32.5-4.5zM2090.5 955.5l32-25l4.5 7l-32 22.5zM1827.5 545l42.5-9.5l2.5 9l-43.5 9.5zM1417 724l34.5-32l10.5 11l-35.5 31.5zM2052.5 653.5l27 42l-12 6.5l-27-41.5zM1657 698l26-12l3 8.5l-26.5 12.5zM1256.5 714.5l19-4l3.5 13.5l-19 4.5zM1434 686.5l16-11l6.5 10.5l-15.5 10zM1935 690.5l17-9.5l6.5 13l-16 9zM1460.5 935.5l17-7l4 5l-18 9zM1361 517.5l25.5 34.5l-8.5 5.5l-24.5-35zM2040 695l27.5-6l3 13.5l-29 5.5zM1327 383l28-3.5l2.5 14.5l-28.5 4zM1833 909.5l23 36l-9.5 5.5l-22.5-35.5zM1894.5 724l22 23l-6 5l-21.5-24zM1611 593l34 28.5l-5 6l-35.5-29.5zM1804 985.5l27 18l-13.5 0l-17.5-12zM1894.5 592.5l3.5 18l-13.5 4l-3.5-19zM2108 595l14 24.5l-9 5.5l-14.5-23.5zM2149 690.5l44-21l5 10.5l0 1l-43.5 22zM1561.5 379l25-16l8.5 11l-27 16.5zM1865.5 725.5l40-21l3 8l-39.5 19.5zM1562.5 551l28 24l-5 6l-27-24.5zM1615.5 539.5l28.5 26l-9.5 12l-30-25zM1428 541.5l32.5-13l5 13l-32.5 12zM1325.5 783l14.5 11.5l-5.5 8l-15.5-13zM1905.5 705l19.5-11l4 7l-19.5 10.5zM1288 707.5l20-3l1 13l-19.5 1.5zM1978.5 725l38-5.5l1.5 12.5l-37 6zM1439 284.5l18-10l4.5 7l-18 9.5zM1886 513.5l41.5-15.5l5.5 11.5l-42.5 15.5zM1394.5 434l22.5-12l4 9l-22.5 11.5zM1683.5 396l21-12l7 12l-22.5 11zM1325.5 774l21 16l-4.5 6l-21.5-16zM1283 400l39-24.5l5 8l-38.5 24.5zM2140 655l27.5-13l6 12l-27 14zM2010.5 526.5l18 12.5l-7.5 12.5l-18-12.5zM1614 560l34 29l-10 11l-32-28zM1378 247.5l23.5-13l5 10.5l-23.5 12.5zM2057 527l21.5 37.5l-7 3l-21.5-37zM1885 643.5l40-24.5l4 7l-40 24zM2091 548.5l12 23.5l-7.5 3l-12.5-22.5zM1256 849.5l31-17.5l2 6.5l-33 19zM1422 669l27-17l5.5 8.5l-27.5 18zM1934.5 616l28-12.5l4 12l-26.5 12.5zM1610 648l30-16l4 6l-31 17zM1316.5 835l34 25l-9 11l-34.5-26zM1573 639l25.5-12.5l7 12.5l-26 14zM1333.5 307.5l13.5-9.5l7 12l-14.5 9zM1778.5 364.5l18.5 2l-0.5 8l-18.5-1zM1629.5 684l12.5 26.5l-11.5 5.5l-13-27zM2142.5 839.5l16-6.5l3.5 11l-16.5 6zM1812 451l36.5-6.5l2 9.5l-37.5 5zM1506.5 752l18.5-11l8 14.5l-18 9zM1816 960l20 28.5l-12 8.5l-18-30zM1412.5 499l17-3.5l3.5 13.5l-18 4.5zM1392.5 766l31.5-12.5l6.5 13.5l-33 13zM1380 579.5l8.5 15l-13 9.5l-9-13.5zM2048.5 218.5l29.5 0l-28.5 5.5zM1420.5 1003.5l28-8l2 8zM1428.5 311l31-17l5 9.5l-30 17zM1557.5 796l21-3l2 9l-21 2.5zM1600.5 547.5l20-15.5l9.5 11.5l-20 16.5zM1899.5 566l37-18l6.5 11.5l-38 17.5zM1428.5 970.5l27-12.5l4.5 10.5l-27 12zM1892.5 449l35-13l4 9.5l-34 13.5zM1736.5 687.5l36-4l0.5 8.5l-36.5 3.5zM2021 242l45.5-9l1.5 9.5l-45 10zM2095.5 610l14.5 25.5l-9 5.5l-14.5-25.5zM1979.5 469.5l7 23l-14.5 3.5l-6.5-23.5zM1471 439.5l36.5-16l6 11.5l-36.5 16.5zM1765.5 453.5l35.5-12.5l3.5 10l-34 14zM1912.5 877.5l12 20l-12 7.5l-11.5-19.5zM1592.5 985.5l33.5-3.5l0.5 8l-34 5zM1285 686l20-3l1.5 11l-19 2.5zM2094.5 475.5l47-3.5l1.5 11.5l-47 3.5zM1873 676.5l19.5-10.5l6.5 10l-19.5 11.5zM1361 842l25.5 27.5l-6 5.5l-26-28.5z"/>
<path fill="#0070ff" d="M2033 605.5l9.5 17l-6.5 4.5l-10.5-16.5zM2178 791l20-6.5l0 11.5l-16 5.5zM1728.5 518.5l42-16l2 8.5l-41 16zM2145.5 890.5l17 21.5l-9.5 6l-15-20zM2104.5 284l35-8.5l4 14.5l-35.5 9.5zM1950.5 690l18 19l-8.5 7.5l-18.5-19zM1746 483.5l36-12l3 8l-35.5 14.5zM1348.5 467.5l17.5-3l2 12l-15.5 4.5zM2003.5 667.5l10 16l-9.5 6l-10.5-15zM2175 525.5l23-4l0 8l-22 3.5zM1678.5 472.5l48.5-4.5l1 12l-47.5 6zM1267.5 327l14.5-9l2.5 7l-14.5 9.5zM1722.5 562l18 10.5l-5.5 10.5l-18.5-10.5zM1256 925l0-16l27.5-19l8 11.5l-35 24.5zM1779.5 567.5l8.5 18.5l-15 7l-8-19.5zM1499 661.5l20-19.5l5.5 7l-20 19zM1725.5 242.5l10.5 25l-12 4l-11-25zM2100.5 638.5l23-4l3 12l-23 4zM1678 415.5l22.5-6.5l2.5 11l-22 6.5zM1797 366l22.5 2l-0.5 8.5l-22-2zM2106.5 651l21.5-5.5l2.5 12.5l-21.5 5zM2033 971l27 10l-5.5 14.5l-27.5-10zM1619 666.5l35-14l3.5 8l-35.5 14.5zM1582.5 770l49-7l1.5 9.5l-48.5 5zM1501 858.5l16 17l-7.5 7.5l-16.5-17.5zM1628.5 636.5l22-10l6 13.5l-21.5 10.5zM1693 521l36.5-4l0.5 9l-35.5 5zM1779 748.5l34.5-5.5l2.5 16l-35.5 4.5zM1829.5 664l32.5-16.5l2.5 7l-31.5 16.5zM1354.5 277l26-15.5l7.5 13l-25.5 16zM2095.5 534.5l21.5 37.5l-10 5.5l-22.5-39zM1959 546l32 21.5l-6.5 9.5l-31-23.5zM1510 632l16-14.5l9.5 10l-15.5 15zM1738 477l26-10.5l4 9.5l-26 9.5zM1818.5 772.5l35-19.5l6 9.5l-36.5 18zM1797 461l48-7l3 8.5l-48.5 8.5zM1844.5 783l29.5-7.5l2 8.5l-29 6.5zM1833 553.5l43-10l1.5 9.5l-43 8.5zM1736 266.5l8 21l-12 4.5l-9-20zM1532.5 916.5l25.5-5.5l2.5 7.5l-26 5.5zM1534.5 754l18-9.5l8.5 12.5l-19 10zM1819.5 758.5l37-18.5l3.5 10.5l-35 19zM1847 543l7.5 41l-8 2.5l-9-41zM1578.5 627l40.5-19.5l3 6l-39.5 21.5zM2122.5 504.5l31.5-2.5l0.5 14.5l-31.5 1.5zM1721.5 426.5l27.5-17l7 9.5l-29 17zM1497.5 795l29.5-9.5l5 15l-30 9zM1841 885l15-9l3.5 8l-14 8.5zM1353 623l31-4l0.5 9.5l-30 4zM2142.5 301.5l25-6l3.5 12l-26 6zM1654.5 918l10.5 17.5l-8 5.5l-11.5-17zM1335.5 245l38-22.5l7 10.5l-38.5 23.5zM1468 595l31.5-8.5l2.5 8.5l-31 8.5zM1822.5 748l14-7.5l3.5 7l-13.5 8zM2113.5 1003.5l-1.5-13l37.5-4.5l1.5 16l-14.5 1.5zM1325 651.5l30-4l2.5 16l-31 4zM1792.5 919.5l35.5 1l0 13l-35.5-1zM2117 596l23.5 42.5l-6.5 3.5l-23-41zM1754.5 971.5l29-7.5l4 13.5l-28.5 9.5zM1710.5 587l35.5 22.5l-5 5.5l-35.5-21.5zM2124.5 822.5l45.5-16l5.5 14.5l-46 15.5zM1982 276l19.5 12.5l-3.5 7l-20.5-14.5zM1761.5 372l25.5 1.5l-0.5 16l-27-3.5zM1873 829.5l18.5-5l3 13.5l-18 3.5zM1907.5 553l28-10l5 9l-29 10.5zM1479 927l30-12.5l2.5 6l-31.5 14zM1480 499l43.5-1l0.5 9l-44 2zM1878 931l33-16.5l4 6.5l-35 17.5zM1855.5 991l8 12.5l-8.5 0l-6-7.5zM1413.5 292l36.5-20.5l6.5 12l-36 22.5zM1781.5 842l46-3l-0.5 15l-45 2.5zM1256 797.5l3.5-5.5l27 19.5l-8.5 10.5l-22-17zM1894 925l20.5 31l-11.5 8l-19.5-32zM1642 711l10.5 22.5l-11 4.5l-10.5-21.5zM1682 256.5l17 42.5l-10 3.5l-17.5-42zM1882.5 931l24 38l-5.5 4.5l-24.5-38.5zM1330 343l50-5.5l1.5 14l-49.5 6zM1619 862.5l20-14l9.5 10.5l-21.5 15.5zM1724.5 218.5l3.5 10l-7 2.5l-4.5-12.5zM1699.5 509.5l40.5-6l2.5 12.5l-41.5 5.5zM2071 828.5l20.5 10.5l-7 13.5l-19.5-10zM1297.5 257.5l33-11l3.5 10l-33 10zM1814 350.5l34.5-10.5l3 11.5l-33.5 10.5zM1532 891l13.5 14l-8 7l-13.5-13zM1687 442l42.5-12.5l4.5 12.5l-44 12.5zM1901 671l40.5-25l6 11.5l-40 24.5zM1412.5 536l22.5 32.5l-10 8.5l-24-33.5zM1885.5 429l34-12.5l4.5 9l-34.5 14.5zM1326.5 920l15.5-10l6.5 8l-15 11zM1811.5 575.5l7 15l-13.5 7l-6-15.5zM2156 472.5l25-4l1 7.5l-25.5 3.5zM1492.5 531l24.5-9.5l4.5 12l-23.5 8.5zM1776 874.5l40.5-1l0.5 14.5l-40.5-0.5zM2117 427.5l41.5-19l6 11l-42.5 19.5zM1282 479l31-7.5l2 9.5l-30.5 6zM1735 444l36-21.5l7.5 11.5l-37 21.5zM2150.5 722l30-1l0 15l-29 0zM1723.5 942.5l20-7.5l3.5 7.5l-21.5 6.5zM2068 705.5l29 23l-8.5 10l-28.5-22.5zM1534.5 850.5l14 15.5l-5 4.5l-14.5-15.5zM1729 580l15 8.5l-8 14l-15-8zM2049.5 713.5l29-4l2.5 11l-30 5zM1856 876.5l21.5-11.5l3.5 8l-21.5 11zM1857.5 525l21-5.5l3 14l-21 4zM1803 514.5l43.5-8.5l2 9.5l-43.5 10zM1914 848l17.5-13l4 7.5l-17 11zM1961.5 603.5l39.5-18l5 10.5l-39 19zM1487.5 707l28.5-25l9 9l-27.5 26zM2060 799.5l38.5 20l-5.5 13l-39-20zM1607 714l19 40.5l-10.5 5.5l-19.5-40.5zM1902 753.5l32.5 36l-6 4.5l-32.5-36zM1994.5 773.5l19 10.5l-7 12.5l-20.5-11zM2167 693l25-2l0 14.5l-24.5 0.5zM1577.5 418l41.5-15l3 12l-41 12.5zM1638.5 683l17.5 38.5l-8 3.5l-18-39zM1524 497.5l26.5-1l2 9.5l-29 1zM1967 346.5l20 17.5l-7.5 5.5l-19.5-16.5zM1499 726.5l25.5-14l5 9.5l-24.5 12.5zM1642 987l40.5-5.5l2.5 12.5l-41 5.5zM2028.5 615l25 38l-13 7.5l-24-39zM1667.5 656l38-18l6 11.5l-39 16.5zM2009.5 410l19.5-3l3.5 15.5l-19.5 2.5zM2128 360l22.5-6l3.5 12l-22 6zM1340.5 794.5l26.5 20l-6 9l-26.5-21.5zM1390 781.5l30-16l6 12l-30.5 17zM2110.5 756l32 25.5l-5.5 6l-31-26zM1684.5 682.5l15.5 46.5l-16 6l-15-48zM2174 580.5l24-8.5l0 10.5l-20.5 6.5zM1483.5 410l19 24l-11 7.5l-18.5-23.5zM1908 538.5l23.5-8.5l4 13l-23.5 8zM1666 534.5l19.5-3.5l1.5 13.5l-20.5 2zM1370.5 988l37.5-9l4 12l-38.5 10zM1985.5 872l33.5-22.5l9 12l-33.5 23zM1926.5 566.5l33-16l4 7l-33.5 16.5zM1332.5 330.5l14-9l4.5 7.5l-13.5 8zM1420 589.5l33.5-24.5l5.5 7.5l-34.5 24.5zM1256 808.5l9-5.5l5 10.5l-14 8.5zM1360 579.5l16 22.5l-11.5 8.5l-16.5-23zM1481.5 702l27-23.5l4.5 6l-26.5 24zM1908.5 432.5l38.5-16.5l4.5 10.5l-39.5 14.5zM1372 867l15.5 15.5l-11 11l-14.5-17zM1794 398.5l21-3l1 9l-20 4.5zM2133 433l14.5-6.5l6.5 11.5l-16.5 7.5zM2171 806.5l22.5-8l4.5 11l0 2.5l-22.5 8.5zM1601.5 673l32.5-16l4 8l-32.5 17zM2107 763l27.5 22l-6 7.5l-27-23zM1790.5 566l8 17l-11.5 4.5l-6-16.5zM1454 565.5l15-10.5l4.5 7l-14 9.5zM1824.5 913.5l32.5-18l5 9l-32 18.5zM2190 585.5l8-3l0 12l-4.5 1.5zM2163.5 571l24.5-8.5l4.5 10.5l-24.5 8zM2007 542.5l30 21l-5 9l-31.5-23zM1503.5 384l24.5-15.5l9 13l-25.5 15zM1280 917.5l28.5-19l7 9.5l-27.5 21zM1829.5 839l19.5-5l3 13l-20.5 5zM1444.5 795.5l27.5-15l6 12.5l-28.5 13.5zM1679.5 568l30 19l-3 6.5l-31-19zM1907.5 841l23 37l-12 8l-24-35.5zM1821.5 435.5l29.5-5l3 13.5l-31.5 5zM1294 622l35.5-4.5l0 8.5l-35.5 4zM1735 751.5l43-3.5l1.5 14.5l-43 6zM2043.5 469l23 0l1 7.5l-23 2zM1722 823.5l50-4l1 8l-50 3.5zM1475 498l22-9l5 11.5l-23.5 8zM1777 218.5l8.5 0l11 17l-10 7l-13.5-21zM2143 218.5l6 17l-13.5 5l-8-22zM2025 431.5l13 41.5l-12 4l-13-41.5zM2091 236.5l44.5-9l2 11l-44 8.5zM1500 508l45.5-2l0 12l-46.5 3zM1771 218.5l17 25.5l-11 7l-21.5-32.5zM1721.5 644l38.5-3.5l0.5 14l-37 3zM1744.5 553l21 42.5l-14 6.5l-20-44.5zM1457 849.5l29 31l-6 5.5l-29.5-32zM1533.5 599l29-8l2.5 10l-29 9zM2183 241.5l15 13l0 8l-3 3.5l-19-15.5zM1457.5 726l24.5-23.5l4.5 5l-24.5 23.5zM1769.5 778l50-2.5l1.5 11l-51 2.5zM1689.5 925.5l11.5 18.5l-10.5 6.5l-11.5-18zM1468.5 294l29-16.5l6.5 9.5l-30.5 16.5zM1345 681.5l39-15l4.5 10l-41 15zM1786 828l20.5-1l0.5 14.5l-20.5 1zM1678 906l12 19l-11 6.5l-12.5-17.5zM1831.5 637l42.5-22.5l3.5 7l-43 23zM1371.5 316.5l17-9.5l7.5 13.5l-16.5 8.5zM1951 708.5l42.5-6l2 13l-41.5 6.5zM2116.5 454l34.5-14.5l5.5 9l-35 17zM1454 1003.5l-4-9.5l29-13l5.5 11l-26.5 11.5zM1302.5 455.5l34-7.5l4 11.5l-35 7zM1307.5 704.5l27.5-3l0.5 12.5l-27 2zM1972 866l36.5-24l6 10l-36 24zM1603 532l39.5-31l7 9l-38.5 29.5zM1645 602l43 26.5l-6.5 7l-41.5-25zM1647 453.5l39.5-10l3.5 12.5l-39.5 10zM1256 394l14-3l2 6.5l-16 4zM1701 925l23.5 36.5l-8 5l-23.5-36.5zM1965 926l42-27l6.5 10l-41.5 28zM1623 812l48.5-6.5l1.5 14.5l-47 8zM1682.5 843.5l26-2.5l0.5 15l-24.5 1zM1900 410l22-9l5.5 11.5l-23.5 10zM2047 605l17.5 28.5l-10 6l-18-28.5zM1399 826l20 41.5l-14 6.5l-20-41.5zM1514.5 700l14.5-14.5l7.5 8.5l-14.5 14zM2109 528.5l20.5-2l1.5 14l-20.5 2zM1805.5 408l44.5-8l1.5 14.5l-44 7.5zM1740.5 350l17 2l-2 9.5l-15.5-0.5zM2067.5 411.5l40.5-18.5l6 13l-41.5 19.5zM1682.5 588l39 25l-3.5 5.5l-39-23.5zM2148 482l43.5-8.5l1.5 11l-42 8zM1256 267l21.5-5.5l3.5 16l-25 6.5zM2084 735l26 22l-4.5 4.5l-26-20.5zM2174.5 345.5l14.5 20l-9.5 7.5l-15.5-19zM2085 554.5l22 42l-8 4.5l-23-40.5zM1659.5 670.5l46-20l4.5 10.5l-45 19.5zM1990.5 472l12.5 40.5l-9 4l-13-42.5zM2021.5 931.5l12 37l-7 2l-12-37zM1512.5 591.5l34-10.5l4 13.5l-34.5 9.5zM1697.5 690.5l15-6.5l5 11.5l-16 5zM1461 1003.5l-0.5-1.5l18.5-7.5l5 7.5l-3.5 1.5zM2124 557l35.5-12l4 9l-37.5 12.5zM1519.5 642.5l35-32.5l6 6l-35.5 32zM1405.5 437.5l31-14.5l4.5 9l-30.5 15zM1326.5 486.5l32.5-8l3.5 10.5l-34 7.5zM2067 525.5l18 28.5l-9 5l-17.5-29.5zM1780 652.5l32.5-3l1.5 13l-33 4zM1460.5 801.5l25-12.5l3.5 8.5l-25 12.5zM2124.5 717.5l24 20l-7 7.5l-23.5-20zM1729.5 710.5l9.5 26l-12 4l-10-25zM2015 885l39.5-27l4 7l-40 26zM1342.5 737l38-15.5l6.5 13.5l-39.5 16zM1792.5 532l19 44l-14 5.5l-19-44zM1936.5 543l25-9.5l3.5 8.5l-26 9.5zM1299.5 852l15-11l7.5 9.5l-16 11.5zM1939.5 577.5l31-15l2.5 7.5l-29 15zM1914.5 491l32.5-10.5l4.5 8.5l-33 12.5zM1365 512l47.5-13l3 13.5l-46.5 12zM1707.5 254l9.5 22l-8 3l-9-21.5zM1614.5 333l38.5-20.5l6.5 12l-39.5 20zM1885 279.5l42.5-6.5l1.5 11.5l-42.5 7zM1750.5 338l32.5 3.5l-1 13.5l-33-4zM1801 287l48-9.5l2 8l-48.5 9.5zM1417 281.5l15-8.5l4.5 6.5l-17 9zM1581 238l27-19.5l3 0l8 10.5l-29.5 21.5zM2128.5 464l32.5-1.5l1 9.5l-33 1.5zM1489 324.5l22 27l-10.5 8l-23-27zM1493.5 443.5l27.5-29.5l5 5.5l-28.5 29.5zM1942.5 879.5l24 35.5l-7 5.5l-23.5-36zM1336.5 364l37.5-4.5l0.5 7.5l-36.5 3zM1686.5 532l18.5-2l1.5 11l-19.5 3.5zM1587.5 749.5l21.5-3.5l1.5 13l-22 2zM2078.5 927l16.5-13.5l5 5.5l-17 13zM1575.5 895.5l25.5-18l7.5 10.5l-24.5 19zM1947 525.5l40.5 28l-6.5 7.5l-38.5-28zM1897.5 620l29-18l8 12.5l-31 17zM1681.5 848.5l10 16.5l-9 5l-9.5-16zM1485 946l39.5-17.5l5 10l-40.5 18.5zM1852 686.5l21-11l5.5 12l-20.5 11.5zM1454 517l31-11l4 13l-31 10.5zM2144 454.5l27-13l6 12.5l-28 12.5zM1637.5 410l40-21.5l4 7.5l-40.5 21.5zM2138.5 367l19 24.5l-8 6l-19-24zM1588.5 378l13.5-8.5l7.5 10.5l-14 7.5zM2047.5 836.5l27 17l-8.5 12l-25.5-16zM1868.5 388.5l29.5-9.5l1 7.5l-29 9.5zM2107.5 815l46-16l3.5 11.5l-45 16.5zM1699.5 690.5l15.5 46l-12 3.5l-15.5-45.5zM2143.5 578l19.5-7.5l4.5 11l-19.5 6.5zM1331 341.5l39.5-24l8 12l-40 24.5zM1425.5 440l20.5-11l2.5 8l-20.5 9zM1805 758l18-9.5l3.5 7l-17.5 9zM1313 285.5l22-6.5l2 6.5l-21 7zM2104 571.5l14 25l-7 4l-15.5-24.5zM1584.5 500.5l29-22.5l5 7l-29 23zM1714 462.5l32-9.5l3.5 10l-33.5 8zM1342.5 807.5l35 29l-8.5 11l-36-28zM1876.5 796l43-10l4 15l-42.5 10zM2091.5 344.5l22-6l3 10.5l-22.5 5zM1406 573.5l41.5-29.5l6.5 11l-41 28.5zM1663 539.5l21.5 13l-9 13l-20.5-13.5zM2141.5 472l19.5-0.5l0 12l-18.5 0.5zM1790.5 985l27 18.5l-28.5 0l-6.5-4.5zM1276.5 280l31-9l4.5 16l-32 7zM2116 572.5l16.5 27l-10 4.5l-16-26zM1419.5 870.5l38 27l-8.5 12l-38.5-27.5zM1767.5 235l22 34.5l-7.5 5.5l-23.5-35.5zM1653.5 652.5l31.5-13.5l4 7.5l-32 13zM1771 623.5l23-2.5l2 16l-24.5 3.5zM1736 248.5l8 20l-7 2l-7.5-18zM1706 389l16-9.5l7 11l-16.5 10.5z"/>
<path fill="#ff5500" d="M652.5 1769.5l16-32.5l22 9l-14.5 33zM671 1463.5l14.5-36.5l18 9l-15 34.5zM199 1763l21.5 9.5l-4.5 13l-21.5-11.5zM322 1308l5.5-38.5l28.5 5.5l-8 37.5zM775.5 1685l21.5 12.5l-9.5 19.5l-23-12.5zM934.5 1394.5l30.5 26l-13.5 14.5l-29-26zM959.5 1784.5l34.5 16.5l-8 11.5l-34.5-16.5zM177 1752.5l21.5 11l-3.5 11l-23-11.5zM341.5 1788l11.5-25l20.5 9.5l-8.5 25.5zM231.5 1642.5l24-51.5l24 11.5l-22 49zM795 1664l14-21l9 7l-14.5 20.5zM107.5 1664l34 33.5l-14 16.5l-20-19zM386.5 1322.5l5-20l14.5 1l-3.5 21zM494 1356.5l53 25.5l-9.5 17.5l-52.5-23.5zM999 1602l26.5 9.5l-7.5 21l-27-10.5zM506 1263l6-8l24 0l-17 20.5zM494.5 1568.5l18-25l16 9.5l-18 26.5zM888 1749l43.5 22l-4.5 13.5l-44.5-22.5zM493 1885.5l19-22.5l7 8l-18.5 21.5zM157.5 1323l12.5-17l11.5 9l-9.5 15.5zM599.5 1764l24 18l-14.5 18.5l-24-18zM977.5 1945.5l20.5-45.5l17 9l-21 44.5zM411.5 1691.5l38 32l-15 18l-39.5-29.5zM573.5 1631.5l27 13.5l-7 11.5l-27-14.5zM476 1480l27 18.5l-8.5 10l-24.5-16zM564.5 1806.5l35 28l-10 11.5l-35.5-29zM502.5 1504l10-20l14 6l-10 18.5zM416 1488l42 28.5l-6.5 11.5l-44.5-27.5zM610.5 1490.5l21.5-29.5l17 13l-24.5 29zM169 1305.5l29-40.5l13.5 8.5l-29.5 40.5zM455 1483l24.5 18l-13 20.5l-24-16.5zM892.5 1898l29 22.5l-15 18l-28.5-22.5zM527 1902l18.5-34l15.5 9l-18 34.5zM926.5 1799.5l55.5 26l-11.5 20l-53-26zM268 1716.5l56 18.5l-8.5 20.5l-55.5-19zM264 1971l24.5-34.5l16 12.5l-23 33.5zM502 1640l28-44.5l24.5 14l-29.5 44zM337 1900l28-39l17.5 12l-24.5 41zM653 2013.5l26 10.5l-6.5 16.5l-11.5 0l-17.5-8zM113 1855l44.5 22l-3 8.5l-45.5-21.5zM1049.5 1445l-16-8l16-33zM135.5 1414.5l17 18l-12 14.5l-18-16.5zM483 1406l27 11.5l-9 15.5l-25.5-12zM335 1657l26.5-35l14 11l-24 35.5zM132 1336l46.5 38l-18 21l-44-38zM747 1450l19.5-47.5l14.5 6l-19.5 47.5zM550.5 1900l24-43.5l12.5 8.5l-23.5 41.5zM267.5 1692l50.5 18l-8 22l-50.5-19.5zM924 1569l48 24l-10.5 19l-48-25.5zM861 1851l30-48l15 10l-31 48.5zM548 1504l18.5-34.5l16.5 8.5l-18 36zM184.5 1333.5l16.5-25l11.5 8l-15 25zM912.5 1677.5l26.5 13l-6.5 13l-28-14zM957.5 1506.5l18.5-50l12.5 4.5l-20 49zM574.5 1269l8.5-14l17.5 0l-11.5 22zM306 1829l22.5 13.5l-10 14.5l-21.5-14zM237.5 1783.5l48.5 30.5l-10.5 17.5l-48.5-31zM993.5 1283.5l18.5-28.5l1.5 0l15.5 9.5l-18.5 28.5zM933 1916l18.5-40.5l24.5 10.5l-18 41zM422 1352.5l19-39l14.5 10l-19.5 37.5zM613.5 1648.5l9.5-31l23 8l-9 30zM352.5 1764l11-28.5l23 10.5l-12 26.5zM369 1786l14.5-31.5l12 4.5l-13 31.5zM322.5 1795.5l10.5-27l13.5 6l-12 27.5zM1007 1627.5l27.5 11l-8.5 23l-26.5-10zM107.5 1695.5l24.5 23l-8.5 12.5l-16-16zM616.5 1823.5l19.5-42l10 6l-18 40.5zM670 1645.5l24 14l-11.5 19.5l-22.5-16zM1029.5 1496.5l20 7.5l0 16l-25.5-11zM882 1577l21.5-47l20.5 10.5l-22.5 45.5zM798.5 1845.5l32-49.5l17 10.5l-32 49zM626.5 1645l29.5 17l-5.5 13l-30.5-17zM744 1994.5l23-52.5l16.5 9l-20.5 51.5zM380 1502.5l17.5-23l22.5 16.5l-17 23zM346.5 1672l20 15l-11.5 15.5l-20-16.5zM492.5 1798.5l38.5-41.5l11.5 13l-34.5 39.5zM660.5 1255.5l46.5 16l-6.5 14l-47-15zM209.5 1289.5l22.5-34.5l19 0l-26.5 42.5zM107.5 1896.5l0-16l15.5-16l16 14.5l-26 23.5zM418.5 1549l19 2.5l-3 20.5l-20-3.5zM389 1608.5l37 7l-1 11l-36.5-6.5zM229 1726l25 8.5l-5 15l-26-8.5zM107.5 1268.5l6.5-10l10.5 5.5l-17 27.5zM228 1289l20.5-31.5l13.5 7l-21 31zM639 1649.5l11.5-40l22 5.5l-13.5 41zM1024.5 1611.5l25 8.5l0 24l-31.5-11zM1022 1349l18.5-32l9 5.5l0 28.5l-7 11.5zM847.5 1392l32 22.5l-12 20.5l-33-22.5zM338 1690l35.5 27l-14.5 16.5l-34.5-27.5zM602 1822.5l20.5-49.5l13.5 6l-20.5 49.5zM537 1994l23-37l9.5 5.5l-23.5 37zM488.5 1438.5l18.5 9l-4.5 10l-20-8.5zM107.5 1793l46.5 23l-9.5 24.5l-37-18.5zM989 2003.5l18.5-20l9.5 12l-19 18.5zM1006 1984.5l36.5-35.5l7 7l0 5l-32 34zM373 1626.5l44 34l-17 23l-43.5-34zM891.5 1358l18 11l-14 22.5l-19.5-11zM432 1279.5l17-20.5l15 13l-15.5 19.5zM526 1442.5l26-45.5l19.5 11.5l-27.5 45.5zM367 1539.5l52 8l-4.5 20l-51-9zM820.5 1913l34 27l-7 10l-34.5-26zM193 1890.5l13-17.5l17 14.5l-12 17zM529 1737.5l30 25.5l-12.5 14.5l-30.5-24zM139 1814.5l42.5 20.5l-9.5 19l-43.5-19.5zM418 1759l11-24.5l11.5 3.5l-11.5 24.5zM330.5 1631l20.5-27.5l14 11l-19.5 25zM544.5 1454.5l18.5-31.5l14 6l-19 33zM107.5 1735l10.5-10.5l20 18.5l-16 16.5l-14.5-15zM570.5 1255l39.5 0l19.5 8l-9 24l-54-19zM647 1341l48 25.5l-7 13l-47.5-24zM166 1530.5l10-23l20 9l-10.5 21.5zM226.5 2023.5l14.5-22.5l18 14.5l-14 20zM597 1472l20-25.5l16 12.5l-19.5 27.5zM417 1660l25 20l-16.5 24l-25-20zM752.5 1867.5l34.5 25l-6.5 11.5l-37-26zM437.5 1414.5l51 22.5l-5.5 12.5l-51-23.5zM996.5 1792.5l25-49l14.5 7.5l-22.5 50zM328 2040.5l-7.5-3l12.5-27l23 9.5l-8 20.5zM360.5 1347l5.5-33l22.5 4.5l-6.5 32zM1020 1833l16-26l13.5 8.5l0 6l-12.5 21.5zM814.5 1420.5l28 17.5l-13.5 22l-28.5-16.5zM373 1280.5l20.5-25.5l31.5 0l-32 41zM497.5 1905l12-24.5l23 11.5l-14.5 25.5zM360.5 1653l20-26.5l9 4.5l-19.5 28zM599 1391.5l13-20l22.5 11.5l-12 23.5zM787 1621l22-45.5l24 13l-22.5 44zM336.5 1870.5l27-44.5l16.5 9l-28.5 45zM858.5 2040.5l11.5-25l19 10l-7.5 15zM387 1376.5l45.5 21l-10 19.5l-45.5-23zM639.5 1884.5l36 26.5l-11 16.5l-36.5-25zM777 1319.5l21-43l12 6.5l-20 43zM405 1788.5l14-29l9 4.5l-12 28zM704 1328.5l45.5 22l-8 15l-44.5-20.5zM628 2040.5l4.5-12l28 11l0 1zM970.5 1325.5l24-38l17 11l-22 37.5zM623 1617.5l15.5-50.5l24.5 6l-16 52.5zM934 1495.5l8-18.5l24 8l-7.5 19.5zM504 1590.5l28-42l19 13.5l-26.5 41zM145.5 1778l51 23l-9 18l-49-26zM777 1860l41 29l-12 18l-40.5-31zM1023.5 1452l26 11l0 22.5l-33.5-13.5zM108 1652l8.5-52l19 3l-6 51zM676.5 1270.5l26.5 13l-7 19.5l-28-14zM425.5 1772.5l16-38l8.5 4.5l-17 39zM634.5 1781l18-37.5l9.5 3.5l-16.5 39.5zM578.5 1776l18.5 16.5l-13 15.5l-17.5-14zM350.5 1604l24.5-32.5l14 10.5l-25.5 32zM403.5 1437l48 23l-6.5 11l-45.5-24.5zM843 1906l24 18l-14 17l-23-18.5zM195.5 1958.5l31.5-39.5l18 15.5l-32.5 37.5zM1026.5 1476l21 9l-6 15l-22.5-8.5zM899.5 2009l16.5-37.5l16 7.5l-15.5 37zM551 1269l8-14l23.5 0l-13.5 24.5zM839 1354l49 35l-7.5 11l-48-33zM241 1365.5l26-44.5l8.5 4l-26 45.5zM942 1686.5l15-38l12 6.5l-12.5 35.5zM589.5 1896l18-29.5l20.5 11.5l-16.5 30.5zM858 1833l31-47l10 6.5l-30 48zM886.5 1920.5l27.5 24l-9.5 11l-27.5-21zM916 1913.5l20-42l13.5 6l-18.5 42zM511.5 1879l19-33.5l19.5 12l-17 33.5zM295 1376l18.5-27.5l20 12.5l-17.5 28zM176 1450l29 24.5l-12 15.5l-29.5-23zM809 1381l20-42l13.5 6.5l-21 41.5zM333.5 1770l20.5-49l15 5.5l-22 49.5zM1019.5 1742l17.5-34l12.5 6l0 10.5l-12.5 25zM842 1720l29-37.5l17 11.5l-28 39.5zM727 2008.5l18-41l9 4.5l-18.5 42zM632.5 1460.5l15-18.5l16.5 11l-15 20.5zM526 1654.5l21-33l16 11.5l-19 30.5zM526.5 1357l30.5 15.5l-6.5 13l-30.5-16zM848 1267l24.5 16.5l-13 20l-24.5-16.5zM600 1646.5l49 26.5l-7 12.5l-49-27.5zM255.5 1591l22-49l23.5 12l-20 47.5zM463 1381l50.5 22.5l-5.5 15l-51.5-26zM731.5 1740.5l31 17l-7 12l-30.5-18zM640 1356l32.5 15.5l-8.5 18.5l-32-15.5zM500 1643l31 26l-9.5 12l-31-27.5zM277 1368l23 14.5l-5.5 11l-22.5-15.5zM277.5 1833l20.5 11l-10 16l-20-12.5zM813.5 1630l15-28.5l22 11l-13 29.5zM847 1875l13.5-24l15 10l-13.5 23zM841.5 1570l15-29l25 13l-16 29.5zM797 1715.5l13.5-21.5l21 16l-14 22zM1023.5 1895.5l24-37l2 1.5l0 28l-11.5 16zM924 1848l10-21.5l18 7.5l-10.5 21.5zM466 1416.5l51.5 25l-3.5 8l-52-24zM254 1733l29 11l-5.5 17l-27.5-11zM197 1341.5l15-24.5l13 8l-15.5 24zM505 1276l10-21l17.5 0l-13.5 28.5zM876.5 1713l30-43.5l20.5 14l-32.5 43.5zM536.5 1656.5l28 16l-7 11.5l-26.5-17zM722 1479.5l51.5 19l-10.5 25l-51.5-19.5zM811.5 1449l35 22l-10 18l-38-20.5zM141.5 1345l16-21.5l14 7l-16.5 24.5zM487.5 1452.5l29.5 13l-3 9.5l-29-12.5zM315 1522.5l18.5-24.5l18.5 13.5l-18.5 25.5zM953 1701l8-25l26.5 9.5l-9.5 23z"/>
<path fill="#99e600" d="M1034.5 1527.5l15 6.5l0 21.5l0 0l-24.5-8zM552.5 1398l14-19.5l18 9.5l-13.5 21zM1008 1920.5l10.5-20.5l9.5 5l-9.5 20.5zM196 1922.5l32.5-39.5l17.5 12.5l-33.5 40.5zM976.5 1975.5l30-31l13.5 12.5l-32 31zM987.5 1442.5l20.5-45l15 7.5l-20 45zM153 1311l32.5-45l8 5l-32.5 47zM256.5 1936l20-29l21 16l-20.5 27.5zM954 1400.5l21.5-45.5l14 5.5l-23.5 44zM641 1296.5l23 12.5l-9.5 15l-22-11zM544.5 1867.5l14-22l16.5 8l-14 22zM831.5 1365.5l33 21.5l-6.5 11l-35-20zM940.5 1630.5l19.5 8.5l-10 18l-18.5-9.5zM951 1363.5l24 23.5l-11.5 13.5l-24.5-22.5zM437 1770l19.5-42.5l8.5 4.5l-19 42.5zM798.5 1763.5l49 15l-6 23l-51.5-16.5zM623.5 1700l43.5 23.5l-12.5 25.5l-44-25.5zM157 1900l28 14l-8 13.5l-28-13zM660.5 1814.5l16.5-34.5l12 6l-14.5 34.5zM915 2017l22.5-46.5l22 9l-22 47.5zM677 1911.5l21 14.5l-11.5 17.5l-24-15zM242.5 2002l22-31l18 12l-22.5 30.5zM834 1766.5l12.5-15.5l20.5 16l-11 15zM952.5 1936l13.5-29.5l24 10.5l-12.5 28.5zM491 1669.5l45 38l-10 11.5l-44-40.5zM749.5 1880l27.5 22.5l-13.5 18l-29.5-20.5zM574 1521l14-26l21 11.5l-13.5 24zM291 1574l34-47.5l7.5 8.5l-33.5 47zM454.5 1637.5l35.5 31l-9.5 10l-34-31.5zM759 1464.5l20.5-50l12 6l-20.5 48.5zM1005.5 1519l28 9l-6.5 19l-28.5-10zM965.5 1568.5l19.5-50.5l17 8l-18.5 49.5zM608 1572l15.5-52.5l11.5 2l-16 52zM818.5 1927l36 28l-13 16.5l-35.5-27.5zM195 1746.5l15.5 14l-15.5 15.5l-15.5-12zM321.5 1487l20.5-30.5l13 10.5l-20.5 28.5zM430 1820l25.5-29l8.5 7.5l-26.5 28.5zM246 1574l12-27l19 8.5l-11 26zM324.5 1399.5l37 17l-4 9l-36-17zM177 1509l9-24.5l20 7l-10 24.5zM915.5 1778.5l25.5 11l-6 12l-25-12zM463.5 1831.5l31-32.5l12 13l-28.5 33zM596.5 1506l14-15l16 10.5l-13 17.5zM134 1628l7.5-52l16 4.5l-8.5 49.5zM310.5 1755.5l28 9l-4.5 16.5l-29-11zM882.5 1769l13-20l15.5 10l-15.5 20.5zM263.5 1390l16.5 10.5l-12.5 17.5l-16.5-11zM757.5 1845l20 14l-13.5 16.5l-18.5-13.5zM743 1619.5l53.5 19.5l-10.5 24.5l-52-20.5zM107.5 1295l17.5 10.5l-17.5 28zM714.5 1758l41.5 13.5l-5 15l-40.5-15zM672.5 1616l9-32.5l12 4.5l-12 31.5zM947 1328.5l13-23.5l18 10.5l-14.5 23zM572.5 1284l37.5 17.5l-11 23.5l-36-16.5zM332 1610l34.5-48.5l8.5 8l-33 47zM180 1972l25-35l19.5 13.5l-25.5 33zM447.5 1677.5l33 29.5l-15 17.5l-33.5-29zM473.5 1371l15-27l16 7.5l-16 28.5zM185.5 1329l27.5 25l-11 10.5l-27.5-23.5zM279.5 1401.5l26 15.5l-11 17.5l-26.5-17zM413.5 1375.5l50.5 24.5l-6 11.5l-49.5-26.5zM572.5 1498l7.5-16l12.5 6.5l-9 16zM107.5 1534.5l2-2.5l25 20.5l-14.5 19l-12.5-9.5zM120.5 1869.5l30.5 14l-5 12.5l-30-14zM107.5 1624l0-34l10 2l-4.5 32.5zM1005.5 1715l22.5-42.5l21.5 11.5l0 0.5l-20.5 43zM173 1724.5l22.5 23l-15 16l-24-21.5zM269 1779l33.5 10l-7 16.5l-33-12zM858.5 1255l39 0l20 13.5l-15.5 21l-46-30.5zM436.5 1581.5l43 8.5l-4.5 21l-42.5-7.5zM811.5 1695l29.5-41.5l22.5 16.5l-32 41zM286 1814l19.5 15l-8.5 15.5l-22-13zM458 1604.5l41 37l-9 11l-42-36.5zM222.5 1369.5l31-48.5l10.5 4.5l-32 49.5zM794 1316l9-20l12 6.5l-8 19zM166.5 1332.5l39.5 35.5l-15.5 18.5l-41-35zM175.5 1817.5l29.5 14.5l-4 10.5l-31-12.5zM489 1309l15.5-32.5l14 5.5l-15.5 34.5zM601 1545l9-34l14.5 4l-9.5 33.5zM879.5 1873l36 30.5l-5.5 8l-37.5-31.5zM922.5 1739.5l19.5-53l14.5 4.5l-21 54zM728.5 1565l47 19.5l-7.5 22.5l-48.5-18.5zM1018 1584.5l31.5 13l0 8.5l-5 13.5l-33-13zM406 1523.5l18.5 5l-3.5 21.5l-19.5-4.5zM682.5 1486.5l19-45.5l17 7.5l-20 47zM438.5 1603.5l24.5 4.5l-4.5 14l-22.5-6zM203.5 1443.5l48 32.5l-9.5 14l-48.5-29.5zM667 1633l44 16l-5.5 16l-45.5-17zM417 1920l9.5-17l13.5 9l-7.5 17.5zM517.5 1710l21 18.5l-13 17.5l-23-19.5zM964.5 2014l27.5 24l-2 2.5l-12.5 0l-21.5-16.5zM264 1502.5l31.5-47l21.5 12.5l-34.5 48zM287 1509l14-20l11.5 8.5l-13 18.5zM254.5 1658.5l21-49.5l24 11l-22.5 50zM549 1568l14.5-26l23.5 15.5l-14 25zM749 1814l56 20.5l-7 17.5l-54-20zM158 1685.5l42 40l-12 13l-43-40.5zM280 1384.5l32.5 21l-7.5 11l-32.5-19.5zM256 1368l25 15l-7.5 13l-23.5-16zM372.5 1434.5l42.5 21l-9.5 19.5l-43-21zM776.5 1502.5l47.5 28l-4 9l-50-28zM1017 2040.5l-11.5-12l35.5-34.5l8.5 8.5l0 10.5l-27 27.5zM512 1864.5l30-36.5l9.5 6l-33.5 38zM172.5 1872.5l19 8l-5 9.5l-18-8.5zM489 1342.5l13.5-27l17 7.5l-16.5 28.5zM258 1819.5l20.5 14l-10.5 15l-20-13.5zM289 1937.5l11.5-21.5l19 13.5l-13 20zM734.5 1366l19-39l17 8l-20 40zM952 1560l12-33l16 6l-12.5 32zM605 1967l46 18.5l-10 22.5l-45-18zM532.5 1669l24 13l-11.5 19l-22-14.5zM492.5 1826.5l28-30l7.5 5.5l-28 31zM391.5 2016l19-34l18.5 10l-19 34zM555.5 1682l37 22.5l-9 16.5l-39-20zM662.5 1829.5l45.5 32.5l-7.5 14l-47-32zM565 1997.5l11-18l17.5 12.5l-10 16.5zM510 1670l18.5 16l-8 8.5l-18.5-14zM817 2013.5l9-18l19.5 10.5l-10 16.5zM454.5 1789.5l33.5-37l9 8l-34.5 37.5zM893 1416l41 35l-11.5 14l-43-35.5zM624 2003l27 9l-6.5 22.5l-29-12zM845.5 1645.5l24.5-49.5l20.5 10.5l-24 50.5zM906 1291.5l45.5 31l-6 7.5l-44.5-30zM679 1335.5l26.5 12l-9 18l-25-12zM723 1535l41.5 16l-7.5 16l-41-14.5zM872.5 1313l19 10.5l-15.5 23.5l-18-10zM140 1577.5l5.5-22l16 3l-5 20zM159 1877.5l42 20l-4.5 9.5l-44-20zM812.5 1398.5l17 11l-13.5 16l-15-10zM180 1664.5l21-47l16.5 9.5l-20 45.5zM967 1760.5l19.5 11l-11.5 20.5l-18.5-8.5zM641 1670.5l40 21.5l-8 15l-38.5-23.5zM656.5 1666l16-48.5l11 2.5l-17 49zM479.5 1443.5l34 21l-10 16l-33-21zM896.5 1607.5l45.5 22l-9.5 19l-45-24zM555 2015.5l10.5-17l18.5 12l-11.5 16.5zM786.5 1847l26 19l-11 13l-26-19zM943.5 1373l26.5-48.5l19.5 12l-28.5 48zM514.5 1286.5l31 14l-6 9.5l-29-12.5zM459.5 1576l19 4l-2.5 8.5l-17.5-2zM426.5 1616l39 6l-1.5 11l-40.5-6.5zM513.5 1404.5l32 15l-6 12l-30.5-13zM541.5 1775.5l35 26l-7.5 10l-34-28zM729.5 1896l26 20l-9 11l-26-18zM143.5 1841.5l22.5 11.5l-6.5 13l-21.5-11zM224 1437l45.5 27.5l-10.5 15l-44-28.5zM982 1825l20.5 10.5l-10.5 21l-20.5-10zM637.5 1804l15.5-35l23.5 10.5l-14 33.5zM390.5 1534l14-18.5l20 16l-12 15.5zM412.5 1625.5l38.5 6l-2 20l-40.5-8zM324.5 1410.5l32.5 15l-13 21.5l-28.5-16zM187.5 1748l51.5 18.5l-7 16l-50-19.5zM222.5 1700l46 15l-6.5 22.5l-48-17zM403 2040.5l28.5-48.5l22.5 12.5l-20.5 36zM519.5 1644.5l21.5 18l-8.5 7.5l-20-16zM984.5 1518l19.5-48l16.5 6.5l-16.5 48zM794 1975l26-52l23 12l-26.5 50zM526 2040.5l6.5-19l21 8.5l-4 10.5zM124.5 1850l48.5 22.5l-3.5 9.5l-49-24zM462.5 1309.5l18.5-35.5l18.5 11l-16.5 36zM177.5 1671l40.5 40l-7.5 6.5l-40.5-38.5zM566 1907l24.5-48l15 7.5l-26.5 48.5zM518 1709l33 19l-11.5 21l-32.5-17zM471 1935l16.5-33.5l13.5 8l-16.5 31.5zM225 1797.5l33 22.5l-9 15l-35-20.5zM514.5 1483.5l20.5-40.5l13 5l-21 42.5zM270.5 1680l22.5-44.5l22.5 8.5l-20.5 46zM830 1797l13.5-24l17.5 9l-14 24.5zM465.5 1631l45 41l-7 7l-44.5-38.5zM284 1313.5l10.5-16l21 11.5l-10.5 18zM380.5 1626l17.5-23.5l9 7l-17 22.5zM960 1383.5l28-45l14 10l-25 44.5zM465 1353.5l24.5-44l12.5 6l-22.5 44zM651 1608.5l15-47l21 6l-14.5 48.5zM796 1501l23 12l-5 9l-22-12zM107.5 1460.5l24.5 18.5l-16 23l-8.5-7zM639.5 1687.5l22.5 13l-10 16.5l-22-13zM630 1500l38 29l-12.5 16l-37.5-28zM603 1946l21.5 8.5l-7.5 17.5l-19.5-8.5zM1019 1509l30.5 11l0 13.5l-35.5-12.5zM528 1689l28.5 18.5l-11 17l-29-16.5zM564.5 1421l28.5-48.5l14 7l-30 51zM428.5 1933.5l20-38.5l12 7.5l-19.5 37z"/>
<path fill="#ff5500" d="M1262 1652l10 0l-2.5 15l-7.5 2.5zM1356 1664.5l17.5-12.5l12.5 0l5 32l-20 12.5l-5 25l-15 0l-2.5-20l5-20zM1331.5 1715l22-1l1.5 8.5l-22.5 1.5zM1492.5 1652l19.5 0l-2 15l-15 0zM1549.5 1689l17.5-5l24.5 5l17.5-7.5l10-12l19.5 2.5l12.5 12l-12.5 17.5l-22 7.5l-25 2.5l-17.5 12.5l-12-10l-7.5-12.5zM1656 1677l24.5-7.5l10 7.5l-7.5 14.5l-19.5-2.5zM1695.5 1674.5l22.5-7.5l12.5 5l-7.5 7.5l-20 0zM1728 1684l6 0l0 22.5l-5 0zM1594 1736l12.5-14.5l12.5 5l-2.5 12zM1631 1721.5l10-7.5l27.5 10l24.5 7.5l-10 6l-34.5-1.5zM1334 1736l5-2l32 19.5l-5 5zM1398.5 1731.5l12 0l0 4.5l-12 0zM1460 1756l10-7.5l22.5 10l-12.5 7.5l-17.5 0zM1710.5 1800.5l12.5-5l5 15l-10 5zM1539.5 1835.5l20-10l14.5 2.5l10 12.5l-24.5 7zM1606.5 1847.5l49.5-4.5l-5 12l-22.5 5l-14.5-2.5zM1279.5 1857.5l32-10l6 4l-30.5 8.5zM1331.5 1867.5l24.5-12.5l10 2.5l-24.5 12.5zM1392 1846.5l9-1l0 12l-9 0zM1410.5 1839l16.5-1l1 6l-16 1.5zM1408 1865l27.5-2.5l2.5 17.5l-25 2.5zM1457.5 1885l10-15l22.5-7.5l10 7.5l-15 20l-5 12l-15-2zM1319 1890l22.5-5l4.5 7.5l-22 7.5zM1614 1872.5l19.5-2.5l25 20l-10 10l-15-2.5l-10-15zM1673.5 1870l14.5-2.5l10 22.5l-15 7.5zM1723 1904.5l11 0l0 25l-10 0zM1564.5 1902l9.5-2l20 9.5l-5 5zM1269.5 1924.5l24.5-5l10 15l-22 5zM1413 1929.5l22.5-2.5l1 10l-22 2.5zM1438 1929.5l22-5l20 10l-10 10l-24.5-2.5zM1522 1917l12.5-2.5l34.5 20l-9.5 15l-35-2.5zM1492.5 1954.5l27-5l20 17l-17.5 5l-22-2.5zM1623.5 1927l10-2.5l15 30l-10 2.5zM1720.5 1957l13.5 0l0 22l-12.5 0zM1586.5 1961.5l12.5 0l0 7.5l-12.5 0zM1559.5 1981.5l24.5-5l25 7.5l12.5 10l-5 10l-25-7.5l-24.5-2.5zM1683 2016l12.5-22l12.5-2.5l7.5 12.5l18.5 2.5l0 17l-36 0zM1626 2043.5l-7-25l22-2.5l7.5 22.5l-16.5 5zM1698 2043.5l0-13.5l36-1.5l0 15zM1440.5 2043.5l0-8.5l34.5-1.5l0 10zM1485 2043.5l0-8l29.5-0.5l0 8.5zM1294 2043.5l0-5l15 0l0 5zM1733 1686.5l29.5-5l22.5-1l-2.5 21l-29.5 0l-5 5l-15-2.5zM1733 1731.5l20-0.5l0 4.5l-20 0.5zM1842 1726.5l20-2.5l10-5l22-2.5l2.5 15l-24.5 4.5l-27.5 0zM1976 1667l6-1.5l3.5 10l-6 1.5zM1976 1683l3.5-1.5l7.5 16.5l-4 1zM2099.5 1686.5l15-9.5l7.5 4.5l-12.5 10zM2181.5 1719l22 4.5l0 7.5l-21-7zM1745.5 1751l19.5-5l17.5 10l7.5 10l-12.5 10l-19.5-2.5l-10-12.5zM1802.5 1766l24.5-7.5l10 10l30 2.5l0 10l-15 14.5l-15-9.5l-29.5-15zM1916.5 1791l10-20l24.5-4l15 4l7.5 7.5l-17.5 2.5l-17.5 19.5l-17-5zM1872 1825.5l9.5-10l15-7.5l2.5 7.5l-12.5 15zM2080 1791l12.5-5l27 17l-7.5 7.5l-15-5zM2067.5 1847.5l29.5-22l20-5l-5 10l-27 19.5zM1859.5 1898.5l12.5-1l0 17l-11.5 0zM1961 1875l20-10l24.5-7.5l25-7.5l24.5 7.5l20 12.5l-20 0l-24.5 5l-20 15l-15 7.5l-19.5 2.5l-10-10zM2117 1874l12.5-1.5l2.5 11l-13.5 1.5zM2147 1900l56.5-1.5l0 12.5l-55.5 1zM1733 1907l15-2.5l14.5 10l-7 12.5l-22.5 0zM1745.5 1929.5l12.5 0l0 12.5l-12.5 0zM1839.5 1932l17.5-0.5l0 5.5l-17.5 0.5zM1904 1930.5l24.5-1l0 10l-23.5 0zM1832 1959l20 0l20 2.5l19.5-12l10 5l10 19.5l-5 20l-10 0l-10-20l-14.5 5l-20-10l-17.5 0zM1787.5 1974l15 0l2.5 15l-17.5 2.5zM1738 1994l20-2.5l2.5 10l-20 2.5zM1733 1961.5l15 0l0 20l-15 0zM1762.5 2013.5l15-14.5l15 2.5l2.5 17l-27.5 2.5zM1777.5 2043.5l0-5l30-7.5l29.5 2.5l-4 10zM2003 1959l10-29.5l12.5-10l5 5l-12.5 39.5zM2075 1944.5l15-7.5l2.5 17.5l-15 2.5zM2099.5 1944.5l10-2.5l20 32l-7.5 5l-12.5-10zM2139.5 1944.5l14.5 0l0 12.5l-14.5 0zM2080 1984l10 1l0 14l-9 0zM2127 2011.5l27-17.5l15-12.5l22.5 12.5l-12.5 17.5l-25 12l-22 0zM1977.5 2043.5l-1.5-5l17-15l22.5-12l2.5 12l-11.5 20zM2040 2043.5l0-13.5l40-1.5l0 15zM2030.5 1991.5l14.5 0l0 7.5l-14.5 0zM1269.5 1263.5l22 0l0 5l-22 0zM1376 1280l15-9l19.5-1l25 5l-2.5 10l-22.5 2.5l-19.5 7l-12.5-2.5zM1366 1334.5l12.5-4l7.5 6.5l-1.5 8.5l-16 1l-3.5-4.5zM1274.5 1396.5l10-9l24.5 0l4 11.5l-9 9.5l-17 2.5l-15-5zM1358.5 1371.5l7.5-6l10 5l2.5 6l-12.5 2.5zM1388.5 1364l14.5-1l2.5 8.5l-14.5 2.5zM1428 1342l22.5-12.5l9.5 2.5l-4.5 10l-15 12l-10 2.5zM1475 1339.5l20-5l24.5 7.5l40 17l32 20l20 10l-2.5 12l-12.5 5l-37-2.5l-10 10l-20-7.5l-5-7l7.5-15l5-10l-12.5-2.5l-29.5 2.5l-17.5-5zM1524.5 1418.5l20 2.5l2.5 10l-12.5 15l-5 7.5l-19.5-5l-2.5-7.5l12-2.5l5-10zM1524.5 1478l40-2.5l-2.5 15l-20 5l-17.5-5l-2.5-7.5zM1348.5 1468l12.5-10l15 2.5l10 10l5 10l34.5 2.5l-2.5 3.5l-32-1l-15-7.5l-20-5zM1581.5 1483l27.5-5l10-15l14.5-9.5l-5-10l-5-15l10-20l20-2.5l20 7.5l5 5l-15 15l-15 20l-5 19.5l25 5l0 10l-35 0l-12 10l-12.5 7.5l-5-7.5l5-10l-25 0zM1586.5 1443.5l17.5-7.5l7.5 7.5l-7.5 14.5l-15 7.5l-7.5-7.5zM1676 1473l12 0l0 10l-12 0zM1710.5 1411l23.5-2.5l0 22.5l-22.5 0zM1710.5 1527.5l10-19.5l13.5-2.5l0 22l-13.5 5zM1609 1327l14.5-4l6.5 9l-11 5zM1713 1265l15 0l0 7.5l-15 0zM1284.5 1555l5-15l17-12.5l15-2.5l5 10l-10 15l-15 12.5l-17 2.5zM1329 1557.5l22-15l22.5-15l12.5 2.5l-5 15l-20 12.5l-24.5 9.5zM1398.5 1557.5l17-7.5l15-5l5 7.5l20-2.5l-15 22l-15 15l-20 2.5l-9.5-12.5zM1358.5 1597l10-7.5l20 0l7.5 7.5l57-2.5l-2.5 12.5l-10 10l-35 0l-32-5l-12.5-5zM1574 1569.5l17.5-22l22.5-2.5l-5 24.5l-12.5 17.5l-17.5 2.5zM1636 1577l17.5-14.5l25 4.5l27 5l-22.5 10l-19.5 10l-20 10zM1683 1617l15-20l17.5-2.5l18.5-5l0 17.5l-26 19.5l-15 0zM1267 1604.5l32-2.5l2.5 15l-29.5 0zM1346 1639l17.5-2.5l-2.5 16.5l-15 0zM1420.5 1621.5l25-2l-2.5 33.5l-20 0zM1777.5 1277.5l17.5 0l0 10l-17.5 0zM1879 1267.5l7.5-7.5l5 0l-5 10zM1941 1260l30 0l0 15l-15 2.5l-15-5zM1889 1322l47-27.5l20-14.5l15 2.5l10 22l-10 7.5l-20-7.5l-44.5 22.5l-15 2.5zM1943.5 1351.5l12.5-5l8.5 7.5l-13.5 5zM1981 1277.5l19.5-2.5l17.5 12.5l-10 7l-12.5-7zM2023 1282.5l47-2.5l0 5l-47 2.5zM2050 1304.5l25-10l19.5 5l0 12.5l-14.5 0l-17.5-5zM2124.5 1272.5l10-7.5l17-1.5l-4.5 6.5l-17.5 5zM2174 1312l22.5 1.5l0 6l-22.5-1.5zM1770 1327l20-5l10 12.5l-7.5 9.5l-17.5-4.5zM1829.5 1346.5l15-7l15-5l10 7.5l7 17l-12 5l-10-12.5l-22.5 2.5zM1785 1369l15-2.5l5 10l-15 2.5zM1948.5 1390l32.5-1l0 10l-30-1.5zM1993 1344l12.5-7l17.5 2.5l7.5 9.5l0 20l-30 0l-10-10zM1886.5 1400l10-1l0 9.5l-8.5 0zM1733 1411l74.5-2.5l0 7.5l-49.5 7.5l-25 5zM1750.5 1473l19.5-10l22.5 2.5l22.5 5l22 2.5l-10 10l-32 12.5l-25 2.5l-17-7.5zM1733 1508l15-7.5l22 0l2.5 17l-24.5 5l-15-2.5zM1958.5 1480.5l12.5-5l14.5 2.5l1.5 10l-16 2.5l-12.5-5zM2067.5 1421l17.5-2.5l2.5 7.5l-10 5zM2123 1423.5l11.5-1l0 16l-11.5 2.5zM2045 1498l10-5l47 12.5l-2.5 4.5l-44.5-2zM2174 1428.5l17.5-20l12-2l0 32l-24.5 0zM2189 1505.5l14.5 0l0 6l-14.5 0zM2057.5 1532.5l27.5-5l2.5 10l-27.5 0zM2094.5 1517.5l10-2.5l35 25l-5 3.5zM1881.5 1548.5l49.5-1l47.5 10l-5 14.5l-42.5-7zM2005.5 1550l39.5-1.5l5 9l-42 0zM2087.5 1571l17-1.5l0 10l-16 0zM1819.5 1619.5l27.5-10l25-7.5l9.5-7.5l-34.5-7.5l10-5l29.5 7.5l20 7.5l5 12.5l-17.5 10l-22 7l-40 5zM1921.5 1634l9.5-2.5l12.5 21.5l-12.5 0zM2047.5 1619.5l22.5-2.5l2.5 13.5l-22.5 1zM2109.5 1602l44.5-5l0 10l-34.5 10z"/>
<path fill="#99e600" d="M1262 1681.5l25-7l19.5-7.5l2.5 14.5l-17.5 22.5l-19.5 2.5l-10-5zM1316.5 1677l15-10l19.5-2.5l-2.5 37l-12 2.5l-17.5-7.5zM1361 1659.5l17.5-2.5l2.5 15l-17.5 0zM1410.5 1667l25-7.5l15 5l-2.5 22l-15 12.5l-22.5-5zM1448 1699l24.5-5l2.5 15l-24.5 2.5zM1510 1667l27-2.5l-2.5 32l-22.5 0zM1475 1689l35-2.5l-2.5 12.5l-30 0zM1542 1672l32-2.5l7.5 19.5l-27 2.5zM1581.5 1655.5l64.5-2.5l-1 10l-61 1.5zM1705.5 1726.5l10 0l0 7.5l-10 0zM1393.5 1758.5l14.5-10l15 5l2.5 7.5l-15 5l-14.5-1.5zM1277 1783.5l17-2.5l2.5 12l-17 2.5zM1698 1776l17.5-10l7.5 15l-10 10zM1728 1800.5l6 0l0 15l-6 0zM1490 1813l20-5l12 2.5l15 30l-7.5 7l-19.5-17l-17.5-10zM1656 1815.5l27-5l12.5 15l-12.5 17.5l-17 2.5zM1708 1830.5l20-5l6 5l0 44.5l-13.5 0l-10-12.5zM1633.5 1870l49.5-15l27.5-9.5l2.5 9.5l-30 15l-39.5 10zM1462.5 1843l17.5-9l15 1.5l12.5 12l-7.5 10l-27.5 0zM1376 1850l17.5-2.5l1 10l-16 1.5zM1497.5 1900l29.5-17.5l17.5 7.5l-34.5 12zM1661 1919.5l12.5-29.5l14.5-5l-5 29.5l-14.5 10zM1304 1922l27.5-7.5l22 7.5l2.5 12.5l-19.5 7.5l-25-5zM1381 1921l24.5-1.5l-1 12.5l-22.5 0zM1353.5 1949.5l17.5-2.5l2.5 14.5l-15 2.5zM1450.5 1919.5l29.5-10l30 2.5l-2.5 12.5l-47.5 0zM1490 1944.5l29.5-7.5l15 17.5l-24.5 4.5zM1472.5 1957l26 0l1.5 17l-26 0zM1628.5 1924.5l10-10l25 15l19.5 15l-12 10l-22.5 0l-15-10zM1386 1979l19.5-5l10 10l-24.5 2.5zM1599 1979l24.5-10l25 2.5l7.5 17.5l-17.5 5l-24.5-7.5zM1472.5 1999l25-10l27-5l35 2.5l-5 22.5l-79.5 0zM1720.5 2023.5l13.5 0l0 6.5l-13.5 0zM1391 2013.5l19.5 0l0 17.5l-19.5 0zM1859.5 1686.5l22-2.5l25 5l15 2.5l0 7.5l-15 2.5l-12.5 15l-7.5-2.5l7.5-12.5l-27-10zM1864.5 1736l27 0l10 10l-29.5 2.5zM1928.5 1711.5l17.5-5l10 20l-5 17l-12.5 1.5l-10-13.5zM1981 1659.5l14.5-7.5l20 2.5l-5 12.5l-20 2.5zM2028 1714l32-17.5l10-17l-7.5-7.5l30-10l12-10l15 0l0 17.5l-20 24.5l-9.5 15l-15 10l-25 7.5l-19.5-7.5zM2070 1736l17.5-9.5l24.5-12.5l10 5l-7.5 12.5l-20 7l-19.5 2.5zM2119.5 1659.5l30 2.5l-2.5 7.5l-27.5 1zM1733 1798l25-12l24.5 5l25-10l19.5 2.5l7.5 12l-5 15l-22 5l-49.5 2.5l-25-2.5zM1874 1791l20-5l20-2.5l-7.5 12l-20 10l-10-2.5zM2107 1830.5l32.5-1.5l5 11.5l-20 7l-15-2zM1815 1860l22-5l17.5 10l-5 25l-17.5 12l-19.5 7.5l-17.5 0l10-19.5zM1859.5 1890l22-7.5l25-10l17.5 2.5l7 12.5l-24.5 7.5l-20 7l-12.5 12.5l-7-2.5zM2025.5 1880l19.5-7.5l30-2.5l15-2.5l9.5 12.5l-5 12.5l-39.5-5l-24.5 0zM1988 1904.5l12.5-14.5l15 5l-2.5 14.5zM2137 1862.5l29.5-5l37-2.5l0 0.5l-4.5 9.5l-45 10l-14.5 0zM2164 1881l15-1l0 16l-13.5 1.5zM1839.5 1986.5l22.5-10l24.5 5l17.5 17.5l7.5 17l-25 2.5l-24.5-5l-17.5-14.5zM1928.5 2009l27.5 0l0 9.5l-27.5 0zM1770 1974l17.5 0l0 17.5l-12.5 0zM1795 2016l37-7l40 2.5l-5 12l-40 5l-29.5-2.5zM1983 1932l20-2.5l2.5 42l-12.5 2.5l-7.5-24.5zM2020.5 1927l17.5-5l22-7.5l2.5 10l-20 20l-22 12.5zM2028 1979l24.5-5l2.5 10l-24.5 2.5zM2042.5 2011.5l32.5-12.5l29.5-2.5l15 12.5l-15 9.5l-49.5 0zM2154 1981.5l25-10l24.5-2l0 14.5l-34.5 5zM2163.5 2043.5l-9.5-20l25-14.5l24.5-5l0 39.5zM2005.5 2043.5l0-17.5l49.5-2.5l0 20zM1961 2016l20 0l0 12.5l-20 0zM1405.5 1287.5l17.5 0l-2.5 9.5l-12.5 0zM1450.5 1289.5l14.5-6l15 11l10 12.5l-12.5 2.5l-17.5-12.5zM1284.5 1324.5l22-2.5l25-1.5l12.5 4l4.5 10l-2.5 9.5l-9.5 4l-12.5-6l-10-10l-12.5-2.5l-14.5 0zM1296.5 1359l14 1.5l-4 23.5l-17 1zM1356 1374l15-1.5l20 11.5l-5 5l-20-5zM1410.5 1399l27.5-2.5l-2.5 12l-15 12.5l-19.5 0zM1396 1428.5l14.5-5l10 5l2.5 15l-17.5 1l-7-6zM1401 1366.5l22-7.5l32.5-19.5l19.5-2.5l0 17l-19.5 5l-12.5 12.5l-32.5 0zM1495 1376.5l29.5-2.5l10 2.5l-5 12.5l-7.5 14.5l2.5 10l-5 20l2.5 10l-14.5 0l-15-5zM1549.5 1433.5l17.5-15l12 0l-7.5 30l-27 5l-7.5-5zM1425.5 1458l20-4.5l19.5-5l25 2.5l20 4.5l22 5l-2.5 17.5l-19.5 7.5l-25 2.5l-34.5-5l-5-10l-15-5zM1581.5 1485.5l12.5-1.5l0 12.5l-11 1.5zM1683 1438.5l20-5l22.5 15l8.5 5l0 34.5l-18.5 0l-15-12.5l-12.5-17.5zM1648.5 1498l20-5l17 5l2.5 24.5l-39.5 0l-5-14.5zM1621.5 1512.5l14.5 0l0 5l-14.5 0zM1718 1304.5l16-7.5l0 22.5l-8.5-2.5zM1606.5 1399l15 2l2 10l-14.5-2.5zM1346 1517.5l10-7.5l35 5l-5 12.5l-37.5 0zM1405.5 1520l52-2.5l-2 10l-20 0l-5 15l-20-5zM1465 1537.5l20-10l2.5 10l-10 12.5l22.5 5l10 5l-17.5 2.5l-25-7.5zM1445.5 1577l32-14.5l2.5 9.5l-24.5 17.5zM1465 1607l35-7.5l14.5-7.5l7.5 5l-12 17.5l-40-5zM1529.5 1532.5l12.5-3.5l32 8.5l40 7.5l-10 20l-30 2l-14.5-4.5l-10-10l-17.5-5zM1552 1612l17-25l20-5l30-5l19.5-2.5l-5 12.5l-29.5 15l-32.5 15zM1294 1639l30-2.5l-2.5 16.5l-27.5 0zM1440.5 1631.5l15 0l-2.5 21.5l-12.5 0zM1569 1646.5l35 0l0 6.5l-35 0zM1879 1289.5l15-7l12.5 2.5l2.5 12l-12.5 5l-15-5zM1901.5 1329.5l44.5-22.5l15 5l-10 12.5l-29.5 10zM1921.5 1337l29.5-5l7.5 10l-22.5 9.5zM2000.5 1294.5l20-2.5l-2.5 17.5l-20 10zM2077.5 1285l19.5-2.5l-2.5 17l-14.5-2.5zM2030.5 1329.5l12-7.5l7.5 17.5l-12 0zM2129.5 1294.5l29.5-9.5l17.5 12l-5 15l-17.5 12.5l-14.5-5l-12.5-15zM1733 1304.5l15 5l12.5 7.5l-10 7.5l-17.5-2.5zM1790 1327l37-10l17.5 2.5l-7.5 7.5l-32 10zM1842 1366.5l39.5-1l-2.5 11l-12 2.5l2.5 20l-20 9.5l-22.5 7.5l-17-2.5l32-14.5l12.5-10l-7.5-10zM1881.5 1353l20-1.5l0 7.5l-17.5 0zM1894 1376.5l25-1.5l-7.5 14l-12.5 0zM1938.5 1369l20-2.5l2.5 22.5l-15 2.5zM2000.5 1370.5l17.5 0l0 23.5l-16 0zM1884 1412.5l10-1.5l0 10l-8.5 0zM1889 1433.5l12.5 0l2.5 17.5l-15 2.5zM1743 1448.5l27-5l12.5-12.5l12.5 7.5l37 10l15 14.5l-10 15l-29.5 5l-25-5l-24.5-7.5l-15-7.5zM1767.5 1508l27.5-17.5l37-7.5l10 12.5l-34.5 12.5l-15 14.5l-5 20l-20-2.5l-2.5-12.5zM1733 1458l15 12.5l2.5 25l-17.5 7.5zM1857 1470.5l10 0l1 22.5l-10 0zM2060 1451l20-12.5l24.5 5l25 12l-10 17.5l-15 10l-24.5 5l-15-15zM2169 1438.5l34.5-2.5l0 32l-24.5-5zM2194 1399l9.5-2.5l0 11l-9.5 0zM1988 1535l10-15l20-5l24.5-2.5l20 10l-7.5 15l-24.5 7.5l-37.5 0zM1978.5 1565l19.5-5l2.5 17l-19.5 2.5zM2080 1555l24.5 5l25 5l24.5-15l15 12.5l-15 9.5l-34.5 5l-25-7.5zM1748 1587l10-17.5l24.5-2.5l-15 12.5l-5 10zM1790 1589.5l15-20l27 2.5l20 10l-20 10zM1886.5 1621.5l20-7l17.5 5l-7.5 19.5l-20 2.5zM1966 1609.5l15-7.5l24.5-10l5 15l-15 7.5l-24.5 0zM2060 1592l34.5 0l-2 15l-27.5 0zM2124.5 1593l29.5-1l0 8.5l-29.5 1.5zM2124.5 1610.5l25-1l0 11l-25 1zM2020.5 1631.5l15 0l0 15l-15 0zM2094.5 1646.5l17.5 0l0 6.5l-17.5 0z"/>
<path fill="#0070ff" d="M1267 1659.5l10-7.5l12.5 2.5l-2.5 12.5l-10 10l-10 0zM1296.5 1659.5l15-7.5l22.5 0l-5 15l-17.5 2.5zM1405.5 1652l30 0l-2.5 6l-25 0zM1423 1677l25-2.5l0 17l-22.5 2.5zM1512 1652l22.5 0l-2.5 12.5l-20 0zM1482.5 1672l27.5-5l-1.5 22l-28.5 0zM1653.5 1701.5l17.5-5l19.5 5l-2.5 7.5l-29.5-1.5zM1269.5 1808l17.5-5l19.5 7.5l-1 10l-33.5 0zM1549.5 1885l32-20l2.5 5l-19.5 20zM1599 1870l12.5-2.5l2.5 22.5l-10 0zM1641 1882.5l17.5 0l0 10l-17.5 0zM1262 1897.5l10 1l0 13.5l-10 0zM1289.5 1947l34.5-2.5l27-7.5l27.5-15l7.5 2.5l-25 20l-37 7.5l-30 0zM1408 1909.5l17.5-2.5l2.5 7.5l-17.5 1.5zM1465 1919.5l45-5l4.5 12.5l-42 2.5zM1524.5 1914.5l15-2.5l5 25l-15-2.5zM1455.5 1943l23.5-1l1 11l-23.5 1.5zM1549.5 1952l19.5 0l0 12l-19.5 0zM1443 1955.5l19.5-1l0 9.5l-18.5 0.5zM1408 1981.5l27.5-5l27 2.5l-7 7.5l-40 0zM1383.5 1997.5l37-1l-1 10l-35 0.5zM1445.5 1999l14.5 0l0 10l-14.5 0zM1662.5 2043.5l-6.5-12.5l15-2.5l11 15zM1829.5 1835.5l20-5l22.5 5l-10 14.5l-10 12.5l-15-7.5l-5-7.5zM1854.5 1875l12.5-15l19.5-2.5l2.5 20l-12.5 2.5zM1750.5 1852.5l10-2.5l2 15l-12 10zM1916.5 1847.5l12-7l10 7l5 27.5l-10 2.5l-12-17.5zM1938.5 1847.5l27.5 2.5l12.5 15l-7.5 0l-20-10zM1995.5 1877.5l15-2.5l3.5 12.5l-13.5 5zM1849.5 1924.5l22.5-6l14.5 3.5l-5 7.5l-19.5 5zM1906.5 1944.5l10-10l12 5l-2 24.5l-12.5 2.5l-7.5-9.5zM1852 1964.5l15-0.5l0 10l-15 0.5zM1904 2011.5l24.5 0l0 7l-24.5 0zM1760.5 1974l9.5-2.5l5 20l-10 0zM2114.5 1957.5l15-0.5l0 11.5l-15 0.5zM2179 1947l15-10l9.5 0l0 20l-17 2zM2062.5 1986.5l12.5-7.5l10 5l-2.5 15l-17.5-1.5zM1410.5 1270l25-2.5l15 10l2.5 7.5l-17.5-2.5l-15 2.5l-12.5-2.5zM1459 1270.5l4 0l0 5l-4 0zM1443 1297l17 0l12.5 7.5l22.5 2.5l10 7.5l5 15l2 10l-14.5-5l-12.5-10l-10-7.5l-7.5 0l-7.5-10l-14.5-5zM1301.5 1408.5l10-13.5l12.5-2.5l3.5 6.5l-8.5 9.5l-15 4zM1386 1379l15-6.5l32 1.5l-10 15l-12.5 17l-7.5 12.5l-17 0l-15-3.5l15-6.5l5-9.5l-7.5-10zM1443 1369l12.5-11l19.5-4l0 10l-7.5 6.5l-17 1zM1532 1463l32.5 0l0 12.5l-32.5-2.5zM1596.5 1483l17.5 0l-5 20l-12.5 2.5l-5-7.5zM1656 1448.5l15-10l22 2.5l5 10l-15 12l-19.5 10l-10-5zM1272 1525l15-10l14.5 5l7.5 10l-17.5 2.5zM1319 1545l15-17.5l22-2.5l5 7.5l-12.5 12.5l-22 10zM1641 1607l17.5-10l22-5l-7 15l-20 10zM1676 1619.5l17-7.5l7.5 12l-12.5 7.5zM1321.5 1634l24.5-2.5l-2 21.5l-22.5 0zM1450.5 1624l24.5-3.5l-7.5 18.5zM1403 1636.5l17.5 0l0 16.5l-17.5 0zM1510 1644l19.5 0l0 9l-19.5 0zM1911.5 1282.5l19.5-5l25 1l-5 9l-15 4.5l-19.5-4.5zM1896.5 1296l11-1.5l1.5 8l-11 1zM1976 1268.5l12-1l0 10l-11 0zM2052.5 1298.5l12.5-1.5l0 9l-12.5 1zM2018 1370.5l15 1l1 17.5l-15 2.5zM1857 1453.5l15-2.5l2 12l-14.5 5zM1926.5 1478l32 1.5l0 3.5l-32-1zM2099.5 1458l17.5-8.5l12.5 1.5l-10 14.5l-15 0zM2102 1488l5-2.5l44.5 17.5l-2 5zM1926.5 1545l22-2.5l2.5 15l5 17l-10 7.5l-7.5-10l-19.5 2.5l9.5-12zM1748 1594.5l19.5-5l2.5 10l-17 2.5zM1976 1604.5l27-17.5l2.5 5l-22.5 20zM1976 1639l19.5-12.5l27.5-2.5l-17.5 15l-20 7.5zM2047.5 1579.5l27.5-2.5l29.5 10l5 7.5l-29.5 2.5zM2035.5 1626.5l24.5-14.5l34.5-5l2.5 14.5l-22 17.5l-25 2.5zM2144.5 1613l17-1l0 5l-17 1z"/>
<path fill="#000" d="M132.4 957.7H415.9V984.4H132.4Z M206.0 963.0V982.0H275.0V963.0Z" fill-rule="evenodd"/>
<text x="135.0" y="943.0" font-size="33" text-anchor="middle">0</text>
<text x="204.5" y="943.0" font-size="33" text-anchor="middle">2</text>
<text x="276.0" y="943.0" font-size="33" text-anchor="middle">4</text>
<text x="415.5" y="943.0" font-size="33" text-anchor="middle">8</text>
<text x="426.0" y="981.0" font-size="33">km</text>
<path fill="#000" d="M1272.4 963.0H1559.0V988.0H1272.4Z M1348.0 966.0V985.0H1414.8V966.0Z" fill-rule="evenodd"/>
<text x="1275.5" y="948.0" font-size="33" text-anchor="middle">0</text>
<text x="1346.8" y="948.0" font-size="33" text-anchor="middle">2</text>
<text x="1416.3" y="948.0" font-size="33" text-anchor="middle">4</text>
<text x="1556.8" y="948.0" font-size="33" text-anchor="middle">8</text>
<text x="1567.0" y="986.0" font-size="33">km</text>
<path fill="#000" d="M122.0 2006.7H405.5V2031.9H122.0Z M195.0 2010.9V2026.6H261.3V2010.9Z" fill-rule="evenodd"/>
<text x="124.1" y="1991.0" font-size="32" text-anchor="middle">0</text>
<text x="192.9" y="1991.0" font-size="32" text-anchor="middle">2</text>
<text x="262.7" y="1991.0" font-size="32" text-anchor="middle">4</text>
<text x="403.9" y="1991.0" font-size="32" text-anchor="middle">8</text>
<text x="416.0" y="2029.8" font-size="32">km</text>
<path fill="#000" d="M1273.0 2008.4H1556.5V2031.9H1273.0Z M1346.0 2011.3V2029.8H1412.2V2011.3Z" fill-rule="evenodd"/>
<text x="1272.6" y="1994.0" font-size="34" text-anchor="middle">0</text>
<text x="1343.5" y="1994.0" font-size="34" text-anchor="middle">2</text>
<text x="1414.4" y="1994.0" font-size="34" text-anchor="middle">4</text>
<text x="1554.5" y="1994.0" font-size="34" text-anchor="middle">8</text>
<text x="1564.5" y="2030.5" font-size="34">km</text>
<rect x="105.0" y="213.2" width="947.0" height="790.0" fill="none" stroke="#000" stroke-width="5.0"/>
<rect x="222.6" y="192.2" width="4.8" height="19.5" fill="#000"/>
<rect x="222.6" y="1004.7" width="4.8" height="19.5" fill="#000"/>
<text x="225" y="183.1" font-size="37.5" text-anchor="middle">4°4'W</text>
<text x="225" y="1058.5" font-size="37.5" text-anchor="middle">4°4'W</text>
<rect x="482.8" y="192.2" width="4.8" height="19.5" fill="#000"/>
<rect x="482.8" y="1004.7" width="4.8" height="19.5" fill="#000"/>
<text x="485.2" y="183.1" font-size="37.5" text-anchor="middle">4°W</text>
<text x="485.2" y="1058.5" font-size="37.5" text-anchor="middle">4°W</text>
<rect x="743.0" y="192.2" width="4.8" height="19.5" fill="#000"/>
<rect x="743.0" y="1004.7" width="4.8" height="19.5" fill="#000"/>
<text x="745.4" y="183.1" font-size="37.5" text-anchor="middle">3°56'W</text>
<text x="745.4" y="1058.5" font-size="37.5" text-anchor="middle">3°56'W</text>
<rect x="1003.1" y="192.2" width="4.8" height="19.5" fill="#000"/>
<rect x="1003.1" y="1004.7" width="4.8" height="19.5" fill="#000"/>
<text x="1005.5" y="183.1" font-size="37.5" text-anchor="middle">3°52'W</text>
<text x="1005.5" y="1058.5" font-size="37.5" text-anchor="middle">3°52'W</text>
<rect x="83.0" y="409.6" width="19.5" height="4.8" fill="#000"/>
<rect x="1054.5" y="409.6" width="19.5" height="4.8" fill="#000"/>
<text x="0" y="0" font-size="37.5" text-anchor="middle" transform="translate(75.6 412) rotate(-90)">48°16'N</text>
<text x="0" y="0" font-size="37.5" text-anchor="middle" transform="translate(1109.3 412) rotate(-90)">48°16'N</text>
<rect x="83.0" y="668.9" width="19.5" height="4.8" fill="#000"/>
<rect x="1054.5" y="668.9" width="19.5" height="4.8" fill="#000"/>
<text x="0" y="0" font-size="37.5" text-anchor="middle" transform="translate(75.6 671.3) rotate(-90)">48°12'N</text>
<text x="0" y="0" font-size="37.5" text-anchor="middle" transform="translate(1109.3 671.3) rotate(-90)">48°12'N</text>
<rect x="83.0" y="928.2" width="19.5" height="4.8" fill="#000"/>
<rect x="1054.5" y="928.2" width="19.5" height="4.8" fill="#000"/>
<text x="0" y="0" font-size="37.5" text-anchor="middle" transform="translate(75.6 930.6) rotate(-90)">48°8'N</text>
<text x="0" y="0" font-size="37.5" text-anchor="middle" transform="translate(1109.3 930.6) rotate(-90)">48°8'N</text>
<text x="119.5" y="86.0" font-size="73">(a)</text>
<rect x="1253.5" y="215.8" width="947.0" height="790.0" fill="none" stroke="#000" stroke-width="5.0"/>
<rect x="1382.1" y="194.8" width="4.8" height="19.5" fill="#000"/>
<rect x="1382.1" y="1007.3" width="4.8" height="19.5" fill="#000"/>
<text x="1384.5" y="186" font-size="37.5" text-anchor="middle">10°E</text>
<text x="1384.5" y="1061" font-size="37.5" text-anchor="middle">10°E</text>
<rect x="1642.3" y="194.8" width="4.8" height="19.5" fill="#000"/>
<rect x="1642.3" y="1007.3" width="4.8" height="19.5" fill="#000"/>
<text x="1644.7" y="186" font-size="37.5" text-anchor="middle">10°4'E</text>
<text x="1644.7" y="1061" font-size="37.5" text-anchor="middle">10°4'E</text>
<rect x="1902.4" y="194.8" width="4.8" height="19.5" fill="#000"/>
<rect x="1902.4" y="1007.3" width="4.8" height="19.5" fill="#000"/>
<text x="1904.8" y="186" font-size="37.5" text-anchor="middle">10°8'E</text>
<text x="1904.8" y="1061" font-size="37.5" text-anchor="middle">10°8'E</text>
<rect x="2162.6" y="194.8" width="4.8" height="19.5" fill="#000"/>
<rect x="2162.6" y="1007.3" width="4.8" height="19.5" fill="#000"/>
<text x="2165" y="186" font-size="37.5" text-anchor="middle">10°12'E</text>
<text x="2165" y="1061" font-size="37.5" text-anchor="middle">10°12'E</text>
<rect x="1231.5" y="310.8" width="19.5" height="4.8" fill="#000"/>
<rect x="2203.0" y="310.8" width="19.5" height="4.8" fill="#000"/>
<text x="0" y="0" font-size="37.5" text-anchor="middle" transform="translate(1223.5 313.2) rotate(-90)">49°40'N</text>
<text x="0" y="0" font-size="37.5" text-anchor="middle" transform="translate(2258 313.2) rotate(-90)">49°40'N</text>
<rect x="1231.5" y="570.3" width="19.5" height="4.8" fill="#000"/>
<rect x="2203.0" y="570.3" width="19.5" height="4.8" fill="#000"/>
<text x="0" y="0" font-size="37.5" text-anchor="middle" transform="translate(1223.5 572.7) rotate(-90)">49°36'N</text>
<text x="0" y="0" font-size="37.5" text-anchor="middle" transform="translate(2258 572.7) rotate(-90)">49°36'N</text>
<rect x="1231.5" y="829.8" width="19.5" height="4.8" fill="#000"/>
<rect x="2203.0" y="829.8" width="19.5" height="4.8" fill="#000"/>
<text x="0" y="0" font-size="37.5" text-anchor="middle" transform="translate(1223.5 832.2) rotate(-90)">49°32'N</text>
<text x="0" y="0" font-size="37.5" text-anchor="middle" transform="translate(2258 832.2) rotate(-90)">49°32'N</text>
<text x="1298.2" y="86.0" font-size="73">(b)</text>
<rect x="105.0" y="1252.7" width="947.0" height="790.0" fill="none" stroke="#000" stroke-width="5.0"/>
<rect x="151.6" y="1231.7" width="4.8" height="19.5" fill="#000"/>
<rect x="151.6" y="2044.2" width="4.8" height="19.5" fill="#000"/>
<text x="154" y="1222" font-size="37.5" text-anchor="middle">1°20'E</text>
<text x="154" y="2097.5" font-size="37.5" text-anchor="middle">1°20'E</text>
<rect x="411.8" y="1231.7" width="4.8" height="19.5" fill="#000"/>
<rect x="411.8" y="2044.2" width="4.8" height="19.5" fill="#000"/>
<text x="414.2" y="1222" font-size="37.5" text-anchor="middle">1°24'E</text>
<text x="414.2" y="2097.5" font-size="37.5" text-anchor="middle">1°24'E</text>
<rect x="672.0" y="1231.7" width="4.8" height="19.5" fill="#000"/>
<rect x="672.0" y="2044.2" width="4.8" height="19.5" fill="#000"/>
<text x="674.4" y="1222" font-size="37.5" text-anchor="middle">1°28'E</text>
<text x="674.4" y="2097.5" font-size="37.5" text-anchor="middle">1°28'E</text>
<rect x="932.2" y="1231.7" width="4.8" height="19.5" fill="#000"/>
<rect x="932.2" y="2044.2" width="4.8" height="19.5" fill="#000"/>
<text x="934.6" y="1222" font-size="37.5" text-anchor="middle">1°32'E</text>
<text x="934.6" y="2097.5" font-size="37.5" text-anchor="middle">1°32'E</text>
<rect x="83.0" y="1339.1" width="19.5" height="4.8" fill="#000"/>
<rect x="1054.5" y="1339.1" width="19.5" height="4.8" fill="#000"/>
<text x="0" y="0" font-size="37.5" text-anchor="middle" transform="translate(72.4 1341.5) rotate(-90)">48°24'N</text>
<text x="0" y="0" font-size="37.5" text-anchor="middle" transform="translate(1109.2 1341.5) rotate(-90)">48°24'N</text>
<rect x="83.0" y="1599.1" width="19.5" height="4.8" fill="#000"/>
<rect x="1054.5" y="1599.1" width="19.5" height="4.8" fill="#000"/>
<text x="0" y="0" font-size="37.5" text-anchor="middle" transform="translate(72.4 1601.5) rotate(-90)">48°20'N</text>
<text x="0" y="0" font-size="37.5" text-anchor="middle" transform="translate(1109.2 1601.5) rotate(-90)">48°20'N</text>
<rect x="83.0" y="1859.1" width="19.5" height="4.8" fill="#000"/>
<rect x="1054.5" y="1859.1" width="19.5" height="4.8" fill="#000"/>
<text x="0" y="0" font-size="37.5" text-anchor="middle" transform="translate(72.4 1861.5) rotate(-90)">48°16'N</text>
<text x="0" y="0" font-size="37.5" text-anchor="middle" transform="translate(1109.2 1861.5) rotate(-90)">48°16'N</text>
<text x="133.6" y="1149.0" font-size="73">(c)</text>
<rect x="1259.5" y="1257.0" width="947.0" height="790.0" fill="none" stroke="#000" stroke-width="5.0"/>
<rect x="1483.4" y="1236.0" width="4.8" height="19.5" fill="#000"/>
<rect x="1483.4" y="2048.5" width="4.8" height="19.5" fill="#000"/>
<text x="1485.8" y="1226.7" font-size="37.5" text-anchor="middle">2°W</text>
<text x="1485.8" y="2102.5" font-size="37.5" text-anchor="middle">2°W</text>
<rect x="1742.7" y="1236.0" width="4.8" height="19.5" fill="#000"/>
<rect x="1742.7" y="2048.5" width="4.8" height="19.5" fill="#000"/>
<text x="1745.1" y="1226.7" font-size="37.5" text-anchor="middle">1°56'W</text>
<text x="1745.1" y="2102.5" font-size="37.5" text-anchor="middle">1°56'W</text>
<rect x="2003.9" y="1236.0" width="4.8" height="19.5" fill="#000"/>
<rect x="2003.9" y="2048.5" width="4.8" height="19.5" fill="#000"/>
<text x="2006.3" y="1226.7" font-size="37.5" text-anchor="middle">1°52'W</text>
<text x="2006.3" y="2102.5" font-size="37.5" text-anchor="middle">1°52'W</text>
<rect x="1237.5" y="1279.8" width="19.5" height="4.8" fill="#000"/>
<rect x="2209.0" y="1279.8" width="19.5" height="4.8" fill="#000"/>
<text x="0" y="0" font-size="37.5" text-anchor="middle" transform="translate(1228.2 1282.2) rotate(-90)">51°12'N</text>
<text x="0" y="0" font-size="37.5" text-anchor="middle" transform="translate(2262.8 1282.2) rotate(-90)">51°12'N</text>
<rect x="1237.5" y="1539.1" width="19.5" height="4.8" fill="#000"/>
<rect x="2209.0" y="1539.1" width="19.5" height="4.8" fill="#000"/>
<text x="0" y="0" font-size="37.5" text-anchor="middle" transform="translate(1228.2 1541.5) rotate(-90)">51°8'N</text>
<text x="0" y="0" font-size="37.5" text-anchor="middle" transform="translate(2262.8 1541.5) rotate(-90)">51°8'N</text>
<rect x="1237.5" y="1799.1" width="19.5" height="4.8" fill="#000"/>
<rect x="2209.0" y="1799.1" width="19.5" height="4.8" fill="#000"/>
<text x="0" y="0" font-size="37.5" text-anchor="middle" transform="translate(1228.2 1801.5) rotate(-90)">51°4'N</text>
<text x="0" y="0" font-size="37.5" text-anchor="middle" transform="translate(2262.8 1801.5) rotate(-90)">51°4'N</text>
<text x="1298.2" y="1149.0" font-size="73">(d)</text>
<rect x="718.0" y="2235.7" width="119.4" height="59.7" fill="#ff5500" stroke="#7d6a5e" stroke-width="3"/>
<text x="860.6" y="2283" font-size="48">2018</text>
<rect x="1089.6" y="2236.0" width="118.7" height="59.4" fill="#99e600" stroke="#6e7a52" stroke-width="3"/>
<text x="1232.2" y="2283" font-size="48">2019</text>
<rect x="1449.6" y="2236.0" width="118.9" height="59.2" fill="#0070ff" stroke="#5a6a80" stroke-width="3"/>
<text x="1591.0" y="2283" font-size="48">2018, 2019</text>
</svg></body></html>
